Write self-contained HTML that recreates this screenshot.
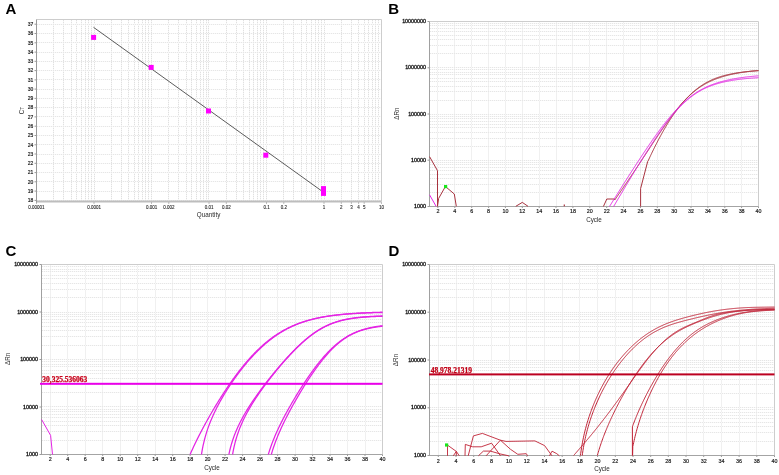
<!DOCTYPE html>
<html><head><meta charset="utf-8"><style>
html,body{margin:0;padding:0;background:#fff;}
body{width:779px;height:475px;overflow:hidden;}
svg{display:block;will-change:transform;}
.tk{font-family:'Liberation Sans', sans-serif;font-size:5.4px;font-weight:normal;fill:#1a1a1a;stroke:#1a1a1a;stroke-width:0.18px;}
.at{font-family:'Liberation Sans', sans-serif;font-size:6.3px;fill:#2a2a2a;}
.pl{font-family:'Liberation Sans', sans-serif;font-size:15px;font-weight:bold;fill:#000;}
.thr{font-family:'Liberation Serif', serif;font-size:7.5px;font-weight:bold;stroke-width:0.25px;}
</style></head><body>
<svg width="779" height="475" viewBox="0 0 779 475">
<rect width="779" height="475" fill="#fff"/>
<line x1="53.5" y1="20" x2="53.5" y2="201" stroke="#f6f6f6"/>
<line x1="53.5" y1="20" x2="53.5" y2="201" stroke="#e0e0e0" stroke-dasharray="1 1"/>
<line x1="63.5" y1="20" x2="63.5" y2="201" stroke="#f6f6f6"/>
<line x1="63.5" y1="20" x2="63.5" y2="201" stroke="#e0e0e0" stroke-dasharray="1 1"/>
<line x1="71.5" y1="20" x2="71.5" y2="201" stroke="#f6f6f6"/>
<line x1="71.5" y1="20" x2="71.5" y2="201" stroke="#e0e0e0" stroke-dasharray="1 1"/>
<line x1="76.5" y1="20" x2="76.5" y2="201" stroke="#f6f6f6"/>
<line x1="76.5" y1="20" x2="76.5" y2="201" stroke="#e0e0e0" stroke-dasharray="1 1"/>
<line x1="81.5" y1="20" x2="81.5" y2="201" stroke="#f6f6f6"/>
<line x1="81.5" y1="20" x2="81.5" y2="201" stroke="#e0e0e0" stroke-dasharray="1 1"/>
<line x1="85.5" y1="20" x2="85.5" y2="201" stroke="#f6f6f6"/>
<line x1="85.5" y1="20" x2="85.5" y2="201" stroke="#e0e0e0" stroke-dasharray="1 1"/>
<line x1="88.5" y1="20" x2="88.5" y2="201" stroke="#f6f6f6"/>
<line x1="88.5" y1="20" x2="88.5" y2="201" stroke="#e0e0e0" stroke-dasharray="1 1"/>
<line x1="91.5" y1="20" x2="91.5" y2="201" stroke="#f6f6f6"/>
<line x1="91.5" y1="20" x2="91.5" y2="201" stroke="#e0e0e0" stroke-dasharray="1 1"/>
<line x1="94.5" y1="20" x2="94.5" y2="201" stroke="#f6f6f6"/>
<line x1="94.5" y1="20" x2="94.5" y2="201" stroke="#e0e0e0" stroke-dasharray="1 1"/>
<line x1="111.5" y1="20" x2="111.5" y2="201" stroke="#f6f6f6"/>
<line x1="111.5" y1="20" x2="111.5" y2="201" stroke="#e0e0e0" stroke-dasharray="1 1"/>
<line x1="121.5" y1="20" x2="121.5" y2="201" stroke="#f6f6f6"/>
<line x1="121.5" y1="20" x2="121.5" y2="201" stroke="#e0e0e0" stroke-dasharray="1 1"/>
<line x1="128.5" y1="20" x2="128.5" y2="201" stroke="#f6f6f6"/>
<line x1="128.5" y1="20" x2="128.5" y2="201" stroke="#e0e0e0" stroke-dasharray="1 1"/>
<line x1="134.5" y1="20" x2="134.5" y2="201" stroke="#f6f6f6"/>
<line x1="134.5" y1="20" x2="134.5" y2="201" stroke="#e0e0e0" stroke-dasharray="1 1"/>
<line x1="138.5" y1="20" x2="138.5" y2="201" stroke="#f6f6f6"/>
<line x1="138.5" y1="20" x2="138.5" y2="201" stroke="#e0e0e0" stroke-dasharray="1 1"/>
<line x1="142.5" y1="20" x2="142.5" y2="201" stroke="#f6f6f6"/>
<line x1="142.5" y1="20" x2="142.5" y2="201" stroke="#e0e0e0" stroke-dasharray="1 1"/>
<line x1="145.5" y1="20" x2="145.5" y2="201" stroke="#f6f6f6"/>
<line x1="145.5" y1="20" x2="145.5" y2="201" stroke="#e0e0e0" stroke-dasharray="1 1"/>
<line x1="148.5" y1="20" x2="148.5" y2="201" stroke="#f6f6f6"/>
<line x1="148.5" y1="20" x2="148.5" y2="201" stroke="#e0e0e0" stroke-dasharray="1 1"/>
<line x1="151.5" y1="20" x2="151.5" y2="201" stroke="#f6f6f6"/>
<line x1="151.5" y1="20" x2="151.5" y2="201" stroke="#e0e0e0" stroke-dasharray="1 1"/>
<line x1="168.5" y1="20" x2="168.5" y2="201" stroke="#f6f6f6"/>
<line x1="168.5" y1="20" x2="168.5" y2="201" stroke="#e0e0e0" stroke-dasharray="1 1"/>
<line x1="178.5" y1="20" x2="178.5" y2="201" stroke="#f6f6f6"/>
<line x1="178.5" y1="20" x2="178.5" y2="201" stroke="#e0e0e0" stroke-dasharray="1 1"/>
<line x1="186.5" y1="20" x2="186.5" y2="201" stroke="#f6f6f6"/>
<line x1="186.5" y1="20" x2="186.5" y2="201" stroke="#e0e0e0" stroke-dasharray="1 1"/>
<line x1="191.5" y1="20" x2="191.5" y2="201" stroke="#f6f6f6"/>
<line x1="191.5" y1="20" x2="191.5" y2="201" stroke="#e0e0e0" stroke-dasharray="1 1"/>
<line x1="196.5" y1="20" x2="196.5" y2="201" stroke="#f6f6f6"/>
<line x1="196.5" y1="20" x2="196.5" y2="201" stroke="#e0e0e0" stroke-dasharray="1 1"/>
<line x1="200.5" y1="20" x2="200.5" y2="201" stroke="#f6f6f6"/>
<line x1="200.5" y1="20" x2="200.5" y2="201" stroke="#e0e0e0" stroke-dasharray="1 1"/>
<line x1="203.5" y1="20" x2="203.5" y2="201" stroke="#f6f6f6"/>
<line x1="203.5" y1="20" x2="203.5" y2="201" stroke="#e0e0e0" stroke-dasharray="1 1"/>
<line x1="206.5" y1="20" x2="206.5" y2="201" stroke="#f6f6f6"/>
<line x1="206.5" y1="20" x2="206.5" y2="201" stroke="#e0e0e0" stroke-dasharray="1 1"/>
<line x1="208.5" y1="20" x2="208.5" y2="201" stroke="#f6f6f6"/>
<line x1="208.5" y1="20" x2="208.5" y2="201" stroke="#e0e0e0" stroke-dasharray="1 1"/>
<line x1="226.5" y1="20" x2="226.5" y2="201" stroke="#f6f6f6"/>
<line x1="226.5" y1="20" x2="226.5" y2="201" stroke="#e0e0e0" stroke-dasharray="1 1"/>
<line x1="236.5" y1="20" x2="236.5" y2="201" stroke="#f6f6f6"/>
<line x1="236.5" y1="20" x2="236.5" y2="201" stroke="#e0e0e0" stroke-dasharray="1 1"/>
<line x1="243.5" y1="20" x2="243.5" y2="201" stroke="#f6f6f6"/>
<line x1="243.5" y1="20" x2="243.5" y2="201" stroke="#e0e0e0" stroke-dasharray="1 1"/>
<line x1="249.5" y1="20" x2="249.5" y2="201" stroke="#f6f6f6"/>
<line x1="249.5" y1="20" x2="249.5" y2="201" stroke="#e0e0e0" stroke-dasharray="1 1"/>
<line x1="253.5" y1="20" x2="253.5" y2="201" stroke="#f6f6f6"/>
<line x1="253.5" y1="20" x2="253.5" y2="201" stroke="#e0e0e0" stroke-dasharray="1 1"/>
<line x1="257.5" y1="20" x2="257.5" y2="201" stroke="#f6f6f6"/>
<line x1="257.5" y1="20" x2="257.5" y2="201" stroke="#e0e0e0" stroke-dasharray="1 1"/>
<line x1="260.5" y1="20" x2="260.5" y2="201" stroke="#f6f6f6"/>
<line x1="260.5" y1="20" x2="260.5" y2="201" stroke="#e0e0e0" stroke-dasharray="1 1"/>
<line x1="263.5" y1="20" x2="263.5" y2="201" stroke="#f6f6f6"/>
<line x1="263.5" y1="20" x2="263.5" y2="201" stroke="#e0e0e0" stroke-dasharray="1 1"/>
<line x1="266.5" y1="20" x2="266.5" y2="201" stroke="#f6f6f6"/>
<line x1="266.5" y1="20" x2="266.5" y2="201" stroke="#e0e0e0" stroke-dasharray="1 1"/>
<line x1="283.5" y1="20" x2="283.5" y2="201" stroke="#f6f6f6"/>
<line x1="283.5" y1="20" x2="283.5" y2="201" stroke="#e0e0e0" stroke-dasharray="1 1"/>
<line x1="293.5" y1="20" x2="293.5" y2="201" stroke="#f6f6f6"/>
<line x1="293.5" y1="20" x2="293.5" y2="201" stroke="#e0e0e0" stroke-dasharray="1 1"/>
<line x1="301.5" y1="20" x2="301.5" y2="201" stroke="#f6f6f6"/>
<line x1="301.5" y1="20" x2="301.5" y2="201" stroke="#e0e0e0" stroke-dasharray="1 1"/>
<line x1="306.5" y1="20" x2="306.5" y2="201" stroke="#f6f6f6"/>
<line x1="306.5" y1="20" x2="306.5" y2="201" stroke="#e0e0e0" stroke-dasharray="1 1"/>
<line x1="311.5" y1="20" x2="311.5" y2="201" stroke="#f6f6f6"/>
<line x1="311.5" y1="20" x2="311.5" y2="201" stroke="#e0e0e0" stroke-dasharray="1 1"/>
<line x1="315.5" y1="20" x2="315.5" y2="201" stroke="#f6f6f6"/>
<line x1="315.5" y1="20" x2="315.5" y2="201" stroke="#e0e0e0" stroke-dasharray="1 1"/>
<line x1="318.5" y1="20" x2="318.5" y2="201" stroke="#f6f6f6"/>
<line x1="318.5" y1="20" x2="318.5" y2="201" stroke="#e0e0e0" stroke-dasharray="1 1"/>
<line x1="321.5" y1="20" x2="321.5" y2="201" stroke="#f6f6f6"/>
<line x1="321.5" y1="20" x2="321.5" y2="201" stroke="#e0e0e0" stroke-dasharray="1 1"/>
<line x1="324.5" y1="20" x2="324.5" y2="201" stroke="#f6f6f6"/>
<line x1="324.5" y1="20" x2="324.5" y2="201" stroke="#e0e0e0" stroke-dasharray="1 1"/>
<line x1="341.5" y1="20" x2="341.5" y2="201" stroke="#f6f6f6"/>
<line x1="341.5" y1="20" x2="341.5" y2="201" stroke="#e0e0e0" stroke-dasharray="1 1"/>
<line x1="351.5" y1="20" x2="351.5" y2="201" stroke="#f6f6f6"/>
<line x1="351.5" y1="20" x2="351.5" y2="201" stroke="#e0e0e0" stroke-dasharray="1 1"/>
<line x1="358.5" y1="20" x2="358.5" y2="201" stroke="#f6f6f6"/>
<line x1="358.5" y1="20" x2="358.5" y2="201" stroke="#e0e0e0" stroke-dasharray="1 1"/>
<line x1="364.5" y1="20" x2="364.5" y2="201" stroke="#f6f6f6"/>
<line x1="364.5" y1="20" x2="364.5" y2="201" stroke="#e0e0e0" stroke-dasharray="1 1"/>
<line x1="368.5" y1="20" x2="368.5" y2="201" stroke="#f6f6f6"/>
<line x1="368.5" y1="20" x2="368.5" y2="201" stroke="#e0e0e0" stroke-dasharray="1 1"/>
<line x1="372.5" y1="20" x2="372.5" y2="201" stroke="#f6f6f6"/>
<line x1="372.5" y1="20" x2="372.5" y2="201" stroke="#e0e0e0" stroke-dasharray="1 1"/>
<line x1="375.5" y1="20" x2="375.5" y2="201" stroke="#f6f6f6"/>
<line x1="375.5" y1="20" x2="375.5" y2="201" stroke="#e0e0e0" stroke-dasharray="1 1"/>
<line x1="378.5" y1="20" x2="378.5" y2="201" stroke="#f6f6f6"/>
<line x1="378.5" y1="20" x2="378.5" y2="201" stroke="#e0e0e0" stroke-dasharray="1 1"/>
<line x1="37" y1="200.5" x2="381" y2="200.5" stroke="#f8f8f8"/>
<line x1="37" y1="200.5" x2="381" y2="200.5" stroke="#e6e6e6" stroke-dasharray="1 1"/>
<line x1="37" y1="191.5" x2="381" y2="191.5" stroke="#f8f8f8"/>
<line x1="37" y1="191.5" x2="381" y2="191.5" stroke="#e6e6e6" stroke-dasharray="1 1"/>
<line x1="37" y1="181.5" x2="381" y2="181.5" stroke="#f8f8f8"/>
<line x1="37" y1="181.5" x2="381" y2="181.5" stroke="#e6e6e6" stroke-dasharray="1 1"/>
<line x1="37" y1="172.5" x2="381" y2="172.5" stroke="#f8f8f8"/>
<line x1="37" y1="172.5" x2="381" y2="172.5" stroke="#e6e6e6" stroke-dasharray="1 1"/>
<line x1="37" y1="163.5" x2="381" y2="163.5" stroke="#f8f8f8"/>
<line x1="37" y1="163.5" x2="381" y2="163.5" stroke="#e6e6e6" stroke-dasharray="1 1"/>
<line x1="37" y1="154.5" x2="381" y2="154.5" stroke="#f8f8f8"/>
<line x1="37" y1="154.5" x2="381" y2="154.5" stroke="#e6e6e6" stroke-dasharray="1 1"/>
<line x1="37" y1="144.5" x2="381" y2="144.5" stroke="#f8f8f8"/>
<line x1="37" y1="144.5" x2="381" y2="144.5" stroke="#e6e6e6" stroke-dasharray="1 1"/>
<line x1="37" y1="135.5" x2="381" y2="135.5" stroke="#f8f8f8"/>
<line x1="37" y1="135.5" x2="381" y2="135.5" stroke="#e6e6e6" stroke-dasharray="1 1"/>
<line x1="37" y1="126.5" x2="381" y2="126.5" stroke="#f8f8f8"/>
<line x1="37" y1="126.5" x2="381" y2="126.5" stroke="#e6e6e6" stroke-dasharray="1 1"/>
<line x1="37" y1="116.5" x2="381" y2="116.5" stroke="#f8f8f8"/>
<line x1="37" y1="116.5" x2="381" y2="116.5" stroke="#e6e6e6" stroke-dasharray="1 1"/>
<line x1="37" y1="107.5" x2="381" y2="107.5" stroke="#f8f8f8"/>
<line x1="37" y1="107.5" x2="381" y2="107.5" stroke="#e6e6e6" stroke-dasharray="1 1"/>
<line x1="37" y1="98.5" x2="381" y2="98.5" stroke="#f8f8f8"/>
<line x1="37" y1="98.5" x2="381" y2="98.5" stroke="#e6e6e6" stroke-dasharray="1 1"/>
<line x1="37" y1="89.5" x2="381" y2="89.5" stroke="#f8f8f8"/>
<line x1="37" y1="89.5" x2="381" y2="89.5" stroke="#e6e6e6" stroke-dasharray="1 1"/>
<line x1="37" y1="79.5" x2="381" y2="79.5" stroke="#f8f8f8"/>
<line x1="37" y1="79.5" x2="381" y2="79.5" stroke="#e6e6e6" stroke-dasharray="1 1"/>
<line x1="37" y1="70.5" x2="381" y2="70.5" stroke="#f8f8f8"/>
<line x1="37" y1="70.5" x2="381" y2="70.5" stroke="#e6e6e6" stroke-dasharray="1 1"/>
<line x1="37" y1="61.5" x2="381" y2="61.5" stroke="#f8f8f8"/>
<line x1="37" y1="61.5" x2="381" y2="61.5" stroke="#e6e6e6" stroke-dasharray="1 1"/>
<line x1="37" y1="52.5" x2="381" y2="52.5" stroke="#f8f8f8"/>
<line x1="37" y1="52.5" x2="381" y2="52.5" stroke="#e6e6e6" stroke-dasharray="1 1"/>
<line x1="37" y1="42.5" x2="381" y2="42.5" stroke="#f8f8f8"/>
<line x1="37" y1="42.5" x2="381" y2="42.5" stroke="#e6e6e6" stroke-dasharray="1 1"/>
<line x1="37" y1="33.5" x2="381" y2="33.5" stroke="#f8f8f8"/>
<line x1="37" y1="33.5" x2="381" y2="33.5" stroke="#e6e6e6" stroke-dasharray="1 1"/>
<line x1="37" y1="24.5" x2="381" y2="24.5" stroke="#f8f8f8"/>
<line x1="37" y1="24.5" x2="381" y2="24.5" stroke="#e6e6e6" stroke-dasharray="1 1"/>
<line x1="36.5" y1="19.5" x2="381.5" y2="19.5" stroke="#cdcdcd"/>
<line x1="381.5" y1="19.5" x2="381.5" y2="201.5" stroke="#cdcdcd"/>
<rect x="36.5" y="200.5" width="345.0" height="2" fill="#bdbdbd"/>
<line x1="36.5" y1="19.5" x2="36.5" y2="202.5" stroke="#999"/>
<line x1="34.5" y1="200.4" x2="36" y2="200.4" stroke="#999"/>
<text transform="translate(33.20,202.12) scale(1,0.98)" text-anchor="end" class="tk" style="font-size:5.0px;">18</text>
<line x1="34.5" y1="191.1" x2="36" y2="191.1" stroke="#999"/>
<text transform="translate(33.20,192.85) scale(1,0.98)" text-anchor="end" class="tk" style="font-size:5.0px;">19</text>
<line x1="34.5" y1="181.8" x2="36" y2="181.8" stroke="#999"/>
<text transform="translate(33.20,183.58) scale(1,0.98)" text-anchor="end" class="tk" style="font-size:5.0px;">20</text>
<line x1="34.5" y1="172.6" x2="36" y2="172.6" stroke="#999"/>
<text transform="translate(33.20,174.31) scale(1,0.98)" text-anchor="end" class="tk" style="font-size:5.0px;">21</text>
<line x1="34.5" y1="163.3" x2="36" y2="163.3" stroke="#999"/>
<text transform="translate(33.20,165.04) scale(1,0.98)" text-anchor="end" class="tk" style="font-size:5.0px;">22</text>
<line x1="34.5" y1="154.0" x2="36" y2="154.0" stroke="#999"/>
<text transform="translate(33.20,155.77) scale(1,0.98)" text-anchor="end" class="tk" style="font-size:5.0px;">23</text>
<line x1="34.5" y1="144.8" x2="36" y2="144.8" stroke="#999"/>
<text transform="translate(33.20,146.50) scale(1,0.98)" text-anchor="end" class="tk" style="font-size:5.0px;">24</text>
<line x1="34.5" y1="135.5" x2="36" y2="135.5" stroke="#999"/>
<text transform="translate(33.20,137.23) scale(1,0.98)" text-anchor="end" class="tk" style="font-size:5.0px;">25</text>
<line x1="34.5" y1="126.2" x2="36" y2="126.2" stroke="#999"/>
<text transform="translate(33.20,127.96) scale(1,0.98)" text-anchor="end" class="tk" style="font-size:5.0px;">26</text>
<line x1="34.5" y1="116.9" x2="36" y2="116.9" stroke="#999"/>
<text transform="translate(33.20,118.69) scale(1,0.98)" text-anchor="end" class="tk" style="font-size:5.0px;">27</text>
<line x1="34.5" y1="107.7" x2="36" y2="107.7" stroke="#999"/>
<text transform="translate(33.20,109.42) scale(1,0.98)" text-anchor="end" class="tk" style="font-size:5.0px;">28</text>
<line x1="34.5" y1="98.4" x2="36" y2="98.4" stroke="#999"/>
<text transform="translate(33.20,100.15) scale(1,0.98)" text-anchor="end" class="tk" style="font-size:5.0px;">29</text>
<line x1="34.5" y1="89.1" x2="36" y2="89.1" stroke="#999"/>
<text transform="translate(33.20,90.88) scale(1,0.98)" text-anchor="end" class="tk" style="font-size:5.0px;">30</text>
<line x1="34.5" y1="79.9" x2="36" y2="79.9" stroke="#999"/>
<text transform="translate(33.20,81.61) scale(1,0.98)" text-anchor="end" class="tk" style="font-size:5.0px;">31</text>
<line x1="34.5" y1="70.6" x2="36" y2="70.6" stroke="#999"/>
<text transform="translate(33.20,72.34) scale(1,0.98)" text-anchor="end" class="tk" style="font-size:5.0px;">32</text>
<line x1="34.5" y1="61.3" x2="36" y2="61.3" stroke="#999"/>
<text transform="translate(33.20,63.07) scale(1,0.98)" text-anchor="end" class="tk" style="font-size:5.0px;">33</text>
<line x1="34.5" y1="52.1" x2="36" y2="52.1" stroke="#999"/>
<text transform="translate(33.20,53.80) scale(1,0.98)" text-anchor="end" class="tk" style="font-size:5.0px;">34</text>
<line x1="34.5" y1="42.8" x2="36" y2="42.8" stroke="#999"/>
<text transform="translate(33.20,44.53) scale(1,0.98)" text-anchor="end" class="tk" style="font-size:5.0px;">35</text>
<line x1="34.5" y1="33.5" x2="36" y2="33.5" stroke="#999"/>
<text transform="translate(33.20,35.26) scale(1,0.98)" text-anchor="end" class="tk" style="font-size:5.0px;">36</text>
<line x1="34.5" y1="24.2" x2="36" y2="24.2" stroke="#999"/>
<text transform="translate(33.20,25.99) scale(1,0.98)" text-anchor="end" class="tk" style="font-size:5.0px;">37</text>
<line x1="36.5" y1="202.5" x2="36.5" y2="203.6" stroke="#777" stroke-width="0.8"/>
<text transform="translate(36.50,208.60) scale(1,1)" text-anchor="middle" class="tk" style="font-size:4.5px;stroke-width:0.08px;">0.00001</text>
<line x1="94.0" y1="202.5" x2="94.0" y2="203.6" stroke="#777" stroke-width="0.8"/>
<text transform="translate(94.00,208.60) scale(1,1)" text-anchor="middle" class="tk" style="font-size:4.5px;stroke-width:0.08px;">0.0001</text>
<line x1="151.5" y1="202.5" x2="151.5" y2="203.6" stroke="#777" stroke-width="0.8"/>
<text transform="translate(151.50,208.60) scale(1,1)" text-anchor="middle" class="tk" style="font-size:4.5px;stroke-width:0.08px;">0.001</text>
<line x1="168.8" y1="202.5" x2="168.8" y2="203.6" stroke="#777" stroke-width="0.8"/>
<text transform="translate(168.81,208.60) scale(1,1)" text-anchor="middle" class="tk" style="font-size:4.5px;stroke-width:0.08px;">0.002</text>
<line x1="209.0" y1="202.5" x2="209.0" y2="203.6" stroke="#777" stroke-width="0.8"/>
<text transform="translate(209.00,208.60) scale(1,1)" text-anchor="middle" class="tk" style="font-size:4.5px;stroke-width:0.08px;">0.01</text>
<line x1="226.3" y1="202.5" x2="226.3" y2="203.6" stroke="#777" stroke-width="0.8"/>
<text transform="translate(226.31,208.60) scale(1,1)" text-anchor="middle" class="tk" style="font-size:4.5px;stroke-width:0.08px;">0.02</text>
<line x1="266.5" y1="202.5" x2="266.5" y2="203.6" stroke="#777" stroke-width="0.8"/>
<text transform="translate(266.50,208.60) scale(1,1)" text-anchor="middle" class="tk" style="font-size:4.5px;stroke-width:0.08px;">0.1</text>
<line x1="283.8" y1="202.5" x2="283.8" y2="203.6" stroke="#777" stroke-width="0.8"/>
<text transform="translate(283.81,208.60) scale(1,1)" text-anchor="middle" class="tk" style="font-size:4.5px;stroke-width:0.08px;">0.2</text>
<line x1="324.0" y1="202.5" x2="324.0" y2="203.6" stroke="#777" stroke-width="0.8"/>
<text transform="translate(324.00,208.60) scale(1,1)" text-anchor="middle" class="tk" style="font-size:4.5px;stroke-width:0.08px;">1</text>
<line x1="341.3" y1="202.5" x2="341.3" y2="203.6" stroke="#777" stroke-width="0.8"/>
<text transform="translate(341.31,208.60) scale(1,1)" text-anchor="middle" class="tk" style="font-size:4.5px;stroke-width:0.08px;">2</text>
<line x1="351.4" y1="202.5" x2="351.4" y2="203.6" stroke="#777" stroke-width="0.8"/>
<text transform="translate(351.43,208.60) scale(1,1)" text-anchor="middle" class="tk" style="font-size:4.5px;stroke-width:0.08px;">3</text>
<line x1="358.6" y1="202.5" x2="358.6" y2="203.6" stroke="#777" stroke-width="0.8"/>
<text transform="translate(358.62,208.60) scale(1,1)" text-anchor="middle" class="tk" style="font-size:4.5px;stroke-width:0.08px;">4</text>
<line x1="364.2" y1="202.5" x2="364.2" y2="203.6" stroke="#777" stroke-width="0.8"/>
<text transform="translate(364.19,208.60) scale(1,1)" text-anchor="middle" class="tk" style="font-size:4.5px;stroke-width:0.08px;">5</text>
<line x1="381.5" y1="202.5" x2="381.5" y2="203.6" stroke="#777" stroke-width="0.8"/>
<text transform="translate(381.50,208.60) scale(1,1)" text-anchor="middle" class="tk" style="font-size:4.5px;stroke-width:0.08px;">10</text>
<text x="208.6" y="216.9" text-anchor="middle" class="at">Quantity</text>
<text transform="translate(23.8,110.6) rotate(-90)" text-anchor="middle" class="at">C<tspan font-size="4.6">T</tspan></text>
<line x1="93.5" y1="27.3" x2="321.5" y2="190.8" stroke="#4a4a4a" stroke-width="0.9"/>
<rect x="91.1" y="34.9" width="5" height="5" fill="#f0f"/>
<rect x="148.7" y="64.9" width="5" height="5" fill="#f0f"/>
<rect x="206.0" y="108.5" width="5" height="5" fill="#f0f"/>
<rect x="263.3" y="152.7" width="5" height="5" fill="#f0f"/>
<rect x="321.0" y="186.1" width="5" height="5" fill="#f0f"/>
<rect x="321.0" y="190.9" width="5" height="5" fill="#f0f"/>
<line x1="437.5" y1="22" x2="437.5" y2="206" stroke="#f0f0f0"/>
<line x1="454.5" y1="22" x2="454.5" y2="206" stroke="#f0f0f0"/>
<line x1="471.5" y1="22" x2="471.5" y2="206" stroke="#f0f0f0"/>
<line x1="488.5" y1="22" x2="488.5" y2="206" stroke="#f0f0f0"/>
<line x1="505.5" y1="22" x2="505.5" y2="206" stroke="#f0f0f0"/>
<line x1="522.5" y1="22" x2="522.5" y2="206" stroke="#f0f0f0"/>
<line x1="539.5" y1="22" x2="539.5" y2="206" stroke="#f0f0f0"/>
<line x1="556.5" y1="22" x2="556.5" y2="206" stroke="#f0f0f0"/>
<line x1="572.5" y1="22" x2="572.5" y2="206" stroke="#f0f0f0"/>
<line x1="589.5" y1="22" x2="589.5" y2="206" stroke="#f0f0f0"/>
<line x1="606.5" y1="22" x2="606.5" y2="206" stroke="#f0f0f0"/>
<line x1="623.5" y1="22" x2="623.5" y2="206" stroke="#f0f0f0"/>
<line x1="640.5" y1="22" x2="640.5" y2="206" stroke="#f0f0f0"/>
<line x1="657.5" y1="22" x2="657.5" y2="206" stroke="#f0f0f0"/>
<line x1="674.5" y1="22" x2="674.5" y2="206" stroke="#f0f0f0"/>
<line x1="691.5" y1="22" x2="691.5" y2="206" stroke="#f0f0f0"/>
<line x1="707.5" y1="22" x2="707.5" y2="206" stroke="#f0f0f0"/>
<line x1="724.5" y1="22" x2="724.5" y2="206" stroke="#f0f0f0"/>
<line x1="741.5" y1="22" x2="741.5" y2="206" stroke="#f0f0f0"/>
<line x1="430" y1="192.5" x2="758" y2="192.5" stroke="#f8f8f8"/>
<line x1="430" y1="192.5" x2="758" y2="192.5" stroke="#e6e6e6" stroke-dasharray="1 1"/>
<line x1="430" y1="184.5" x2="758" y2="184.5" stroke="#f8f8f8"/>
<line x1="430" y1="184.5" x2="758" y2="184.5" stroke="#e6e6e6" stroke-dasharray="1 1"/>
<line x1="430" y1="178.5" x2="758" y2="178.5" stroke="#f8f8f8"/>
<line x1="430" y1="178.5" x2="758" y2="178.5" stroke="#e6e6e6" stroke-dasharray="1 1"/>
<line x1="430" y1="174.5" x2="758" y2="174.5" stroke="#f8f8f8"/>
<line x1="430" y1="174.5" x2="758" y2="174.5" stroke="#e6e6e6" stroke-dasharray="1 1"/>
<line x1="430" y1="170.5" x2="758" y2="170.5" stroke="#f8f8f8"/>
<line x1="430" y1="170.5" x2="758" y2="170.5" stroke="#e6e6e6" stroke-dasharray="1 1"/>
<line x1="430" y1="167.5" x2="758" y2="167.5" stroke="#f8f8f8"/>
<line x1="430" y1="167.5" x2="758" y2="167.5" stroke="#e6e6e6" stroke-dasharray="1 1"/>
<line x1="430" y1="164.5" x2="758" y2="164.5" stroke="#f8f8f8"/>
<line x1="430" y1="164.5" x2="758" y2="164.5" stroke="#e6e6e6" stroke-dasharray="1 1"/>
<line x1="430" y1="162.5" x2="758" y2="162.5" stroke="#f8f8f8"/>
<line x1="430" y1="162.5" x2="758" y2="162.5" stroke="#e6e6e6" stroke-dasharray="1 1"/>
<line x1="430" y1="160.5" x2="758" y2="160.5" stroke="#f8f8f8"/>
<line x1="430" y1="160.5" x2="758" y2="160.5" stroke="#e6e6e6" stroke-dasharray="1 1"/>
<line x1="430" y1="146.5" x2="758" y2="146.5" stroke="#f8f8f8"/>
<line x1="430" y1="146.5" x2="758" y2="146.5" stroke="#e6e6e6" stroke-dasharray="1 1"/>
<line x1="430" y1="138.5" x2="758" y2="138.5" stroke="#f8f8f8"/>
<line x1="430" y1="138.5" x2="758" y2="138.5" stroke="#e6e6e6" stroke-dasharray="1 1"/>
<line x1="430" y1="132.5" x2="758" y2="132.5" stroke="#f8f8f8"/>
<line x1="430" y1="132.5" x2="758" y2="132.5" stroke="#e6e6e6" stroke-dasharray="1 1"/>
<line x1="430" y1="127.5" x2="758" y2="127.5" stroke="#f8f8f8"/>
<line x1="430" y1="127.5" x2="758" y2="127.5" stroke="#e6e6e6" stroke-dasharray="1 1"/>
<line x1="430" y1="124.5" x2="758" y2="124.5" stroke="#f8f8f8"/>
<line x1="430" y1="124.5" x2="758" y2="124.5" stroke="#e6e6e6" stroke-dasharray="1 1"/>
<line x1="430" y1="121.5" x2="758" y2="121.5" stroke="#f8f8f8"/>
<line x1="430" y1="121.5" x2="758" y2="121.5" stroke="#e6e6e6" stroke-dasharray="1 1"/>
<line x1="430" y1="118.5" x2="758" y2="118.5" stroke="#f8f8f8"/>
<line x1="430" y1="118.5" x2="758" y2="118.5" stroke="#e6e6e6" stroke-dasharray="1 1"/>
<line x1="430" y1="116.5" x2="758" y2="116.5" stroke="#f8f8f8"/>
<line x1="430" y1="116.5" x2="758" y2="116.5" stroke="#e6e6e6" stroke-dasharray="1 1"/>
<line x1="430" y1="114.5" x2="758" y2="114.5" stroke="#f8f8f8"/>
<line x1="430" y1="114.5" x2="758" y2="114.5" stroke="#e6e6e6" stroke-dasharray="1 1"/>
<line x1="430" y1="100.5" x2="758" y2="100.5" stroke="#f8f8f8"/>
<line x1="430" y1="100.5" x2="758" y2="100.5" stroke="#e6e6e6" stroke-dasharray="1 1"/>
<line x1="430" y1="91.5" x2="758" y2="91.5" stroke="#f8f8f8"/>
<line x1="430" y1="91.5" x2="758" y2="91.5" stroke="#e6e6e6" stroke-dasharray="1 1"/>
<line x1="430" y1="86.5" x2="758" y2="86.5" stroke="#f8f8f8"/>
<line x1="430" y1="86.5" x2="758" y2="86.5" stroke="#e6e6e6" stroke-dasharray="1 1"/>
<line x1="430" y1="81.5" x2="758" y2="81.5" stroke="#f8f8f8"/>
<line x1="430" y1="81.5" x2="758" y2="81.5" stroke="#e6e6e6" stroke-dasharray="1 1"/>
<line x1="430" y1="78.5" x2="758" y2="78.5" stroke="#f8f8f8"/>
<line x1="430" y1="78.5" x2="758" y2="78.5" stroke="#e6e6e6" stroke-dasharray="1 1"/>
<line x1="430" y1="74.5" x2="758" y2="74.5" stroke="#f8f8f8"/>
<line x1="430" y1="74.5" x2="758" y2="74.5" stroke="#e6e6e6" stroke-dasharray="1 1"/>
<line x1="430" y1="72.5" x2="758" y2="72.5" stroke="#f8f8f8"/>
<line x1="430" y1="72.5" x2="758" y2="72.5" stroke="#e6e6e6" stroke-dasharray="1 1"/>
<line x1="430" y1="69.5" x2="758" y2="69.5" stroke="#f8f8f8"/>
<line x1="430" y1="69.5" x2="758" y2="69.5" stroke="#e6e6e6" stroke-dasharray="1 1"/>
<line x1="430" y1="67.5" x2="758" y2="67.5" stroke="#f8f8f8"/>
<line x1="430" y1="67.5" x2="758" y2="67.5" stroke="#e6e6e6" stroke-dasharray="1 1"/>
<line x1="430" y1="53.5" x2="758" y2="53.5" stroke="#f8f8f8"/>
<line x1="430" y1="53.5" x2="758" y2="53.5" stroke="#e6e6e6" stroke-dasharray="1 1"/>
<line x1="430" y1="45.5" x2="758" y2="45.5" stroke="#f8f8f8"/>
<line x1="430" y1="45.5" x2="758" y2="45.5" stroke="#e6e6e6" stroke-dasharray="1 1"/>
<line x1="430" y1="39.5" x2="758" y2="39.5" stroke="#f8f8f8"/>
<line x1="430" y1="39.5" x2="758" y2="39.5" stroke="#e6e6e6" stroke-dasharray="1 1"/>
<line x1="430" y1="35.5" x2="758" y2="35.5" stroke="#f8f8f8"/>
<line x1="430" y1="35.5" x2="758" y2="35.5" stroke="#e6e6e6" stroke-dasharray="1 1"/>
<line x1="430" y1="31.5" x2="758" y2="31.5" stroke="#f8f8f8"/>
<line x1="430" y1="31.5" x2="758" y2="31.5" stroke="#e6e6e6" stroke-dasharray="1 1"/>
<line x1="430" y1="28.5" x2="758" y2="28.5" stroke="#f8f8f8"/>
<line x1="430" y1="28.5" x2="758" y2="28.5" stroke="#e6e6e6" stroke-dasharray="1 1"/>
<line x1="430" y1="25.5" x2="758" y2="25.5" stroke="#f8f8f8"/>
<line x1="430" y1="25.5" x2="758" y2="25.5" stroke="#e6e6e6" stroke-dasharray="1 1"/>
<line x1="430" y1="23.5" x2="758" y2="23.5" stroke="#f8f8f8"/>
<line x1="430" y1="23.5" x2="758" y2="23.5" stroke="#e6e6e6" stroke-dasharray="1 1"/>
<line x1="429.5" y1="21.5" x2="758.5" y2="21.5" stroke="#cdcdcd"/>
<line x1="758.5" y1="21.5" x2="758.5" y2="206.5" stroke="#cdcdcd"/>
<line x1="428.5" y1="206.5" x2="758.5" y2="206.5" stroke="#a4a4a4" stroke-width="1.1"/>
<line x1="429.5" y1="21.5" x2="429.5" y2="206.5" stroke="#a0a0a0"/>
<line x1="427.5" y1="206.5" x2="429.5" y2="206.5" stroke="#999"/>
<text transform="translate(426.10,208.02) scale(1,0.87)" text-anchor="end" class="tk" style="stroke-width:0.32px;">1000</text>
<line x1="427.5" y1="160.2" x2="429.5" y2="160.2" stroke="#999"/>
<text transform="translate(426.10,161.77) scale(1,0.87)" text-anchor="end" class="tk" style="stroke-width:0.32px;">10000</text>
<line x1="427.5" y1="114.0" x2="429.5" y2="114.0" stroke="#999"/>
<text transform="translate(426.10,115.52) scale(1,0.87)" text-anchor="end" class="tk" style="stroke-width:0.32px;">100000</text>
<line x1="427.5" y1="67.8" x2="429.5" y2="67.8" stroke="#999"/>
<text transform="translate(426.10,69.27) scale(1,0.87)" text-anchor="end" class="tk" style="stroke-width:0.32px;">1000000</text>
<line x1="427.5" y1="21.5" x2="429.5" y2="21.5" stroke="#999"/>
<text transform="translate(426.10,23.02) scale(1,0.87)" text-anchor="end" class="tk" style="stroke-width:0.32px;">10000000</text>
<line x1="437.9" y1="206.5" x2="437.9" y2="208.0" stroke="#999"/>
<text transform="translate(437.94,212.70) scale(1,0.87)" text-anchor="middle" class="tk">2</text>
<line x1="454.8" y1="206.5" x2="454.8" y2="208.0" stroke="#999"/>
<text transform="translate(454.81,212.70) scale(1,0.87)" text-anchor="middle" class="tk">4</text>
<line x1="471.7" y1="206.5" x2="471.7" y2="208.0" stroke="#999"/>
<text transform="translate(471.68,212.70) scale(1,0.87)" text-anchor="middle" class="tk">6</text>
<line x1="488.6" y1="206.5" x2="488.6" y2="208.0" stroke="#999"/>
<text transform="translate(488.55,212.70) scale(1,0.87)" text-anchor="middle" class="tk">8</text>
<line x1="505.4" y1="206.5" x2="505.4" y2="208.0" stroke="#999"/>
<text transform="translate(505.42,212.70) scale(1,0.87)" text-anchor="middle" class="tk">10</text>
<line x1="522.3" y1="206.5" x2="522.3" y2="208.0" stroke="#999"/>
<text transform="translate(522.29,212.70) scale(1,0.87)" text-anchor="middle" class="tk">12</text>
<line x1="539.2" y1="206.5" x2="539.2" y2="208.0" stroke="#999"/>
<text transform="translate(539.17,212.70) scale(1,0.87)" text-anchor="middle" class="tk">14</text>
<line x1="556.0" y1="206.5" x2="556.0" y2="208.0" stroke="#999"/>
<text transform="translate(556.04,212.70) scale(1,0.87)" text-anchor="middle" class="tk">16</text>
<line x1="572.9" y1="206.5" x2="572.9" y2="208.0" stroke="#999"/>
<text transform="translate(572.91,212.70) scale(1,0.87)" text-anchor="middle" class="tk">18</text>
<line x1="589.8" y1="206.5" x2="589.8" y2="208.0" stroke="#999"/>
<text transform="translate(589.78,212.70) scale(1,0.87)" text-anchor="middle" class="tk">20</text>
<line x1="606.7" y1="206.5" x2="606.7" y2="208.0" stroke="#999"/>
<text transform="translate(606.65,212.70) scale(1,0.87)" text-anchor="middle" class="tk">22</text>
<line x1="623.5" y1="206.5" x2="623.5" y2="208.0" stroke="#999"/>
<text transform="translate(623.53,212.70) scale(1,0.87)" text-anchor="middle" class="tk">24</text>
<line x1="640.4" y1="206.5" x2="640.4" y2="208.0" stroke="#999"/>
<text transform="translate(640.40,212.70) scale(1,0.87)" text-anchor="middle" class="tk">26</text>
<line x1="657.3" y1="206.5" x2="657.3" y2="208.0" stroke="#999"/>
<text transform="translate(657.27,212.70) scale(1,0.87)" text-anchor="middle" class="tk">28</text>
<line x1="674.1" y1="206.5" x2="674.1" y2="208.0" stroke="#999"/>
<text transform="translate(674.14,212.70) scale(1,0.87)" text-anchor="middle" class="tk">30</text>
<line x1="691.0" y1="206.5" x2="691.0" y2="208.0" stroke="#999"/>
<text transform="translate(691.01,212.70) scale(1,0.87)" text-anchor="middle" class="tk">32</text>
<line x1="707.9" y1="206.5" x2="707.9" y2="208.0" stroke="#999"/>
<text transform="translate(707.88,212.70) scale(1,0.87)" text-anchor="middle" class="tk">34</text>
<line x1="724.8" y1="206.5" x2="724.8" y2="208.0" stroke="#999"/>
<text transform="translate(724.76,212.70) scale(1,0.87)" text-anchor="middle" class="tk">36</text>
<line x1="741.6" y1="206.5" x2="741.6" y2="208.0" stroke="#999"/>
<text transform="translate(741.63,212.70) scale(1,0.87)" text-anchor="middle" class="tk">38</text>
<line x1="758.5" y1="206.5" x2="758.5" y2="208.0" stroke="#999"/>
<text transform="translate(758.50,212.70) scale(1,0.87)" text-anchor="middle" class="tk">40</text>
<text x="594" y="221.6" text-anchor="middle" class="at">Cycle</text>
<text transform="translate(399.0,113.6) rotate(-90)" text-anchor="middle" class="at">ΔRn</text>
<path d="M429.60,156.70 L437.50,170.70 L437.50,206.30" fill="none" stroke="#a8323e" stroke-width="1"/>
<path d="M437.50,206.30 L438.60,198.50 L445.40,186.50 L454.30,194.00 L456.30,206.30" fill="none" stroke="#a8323e" stroke-width="1"/>
<path d="M429.60,194.90 L436.10,206.30" fill="none" stroke="#e424e4" stroke-width="1"/>
<path d="M515.80,206.30 L522.30,202.40 L528.00,206.30" fill="none" stroke="#a8323e" stroke-width="1"/>
<path d="M564.30,206.30 L564.30,204.50" fill="none" stroke="#a8323e" stroke-width="1.2"/>
<path d="M603.40,206.50 L606.80,199.00 L614.40,199.00 L614.82,199.91 L615.24,199.29 L615.67,198.67 L616.09,198.06 L616.51,197.44 L616.93,196.82 L617.35,196.21 L617.77,195.59 L618.20,194.97 L618.62,194.35 L619.04,193.74 L619.46,193.12 L619.88,192.50 L620.31,191.89 L620.73,191.27 L621.15,190.65 L621.57,190.04 L621.99,189.42 L622.41,188.80 L622.84,188.19 L623.26,187.57 L623.68,186.95 L624.10,186.33 L624.52,185.72 L624.94,185.10 L625.37,184.48 L625.79,183.86 L626.21,183.24 L626.63,182.62 L627.05,182.00 L627.48,181.38 L627.90,180.76 L628.32,180.14 L628.74,179.52 L629.16,178.90 L629.58,178.27 L630.01,177.65 L630.43,177.03 L630.85,176.40 L631.27,175.78 L631.69,175.15 L632.12,174.53 L632.54,173.90 L632.96,173.27 L633.38,172.65 L633.80,172.02 L634.22,171.39 L634.65,170.76 L635.07,170.13 L635.49,169.50 L635.91,168.87 L636.33,168.24 L636.76,167.61 L637.18,166.97 L637.60,166.34 L638.02,165.71 L638.44,165.07 L638.86,164.44 L639.29,163.80 L639.71,163.17 L640.13,162.53 L640.55,161.89 L640.97,161.25 L641.39,160.62 L641.82,159.98 L642.24,159.34 L642.66,158.70 L643.08,158.06 L643.50,157.42 L643.93,156.78 L644.35,156.14 L644.77,155.50 L645.19,154.86 L645.61,154.21 L646.03,153.57 L646.46,152.93 L646.88,152.29 L647.30,151.65 L647.72,151.01 L648.14,150.36 L648.57,149.72 L648.99,149.08 L649.41,148.44 L649.83,147.80 L650.25,147.16 L650.67,146.52 L651.10,145.88 L651.52,145.24 L651.94,144.60 L652.36,143.96 L652.78,143.32 L653.21,142.68 L653.63,142.04 L654.05,141.41 L654.47,140.77 L654.89,140.14 L655.31,139.50 L655.74,138.87 L656.16,138.24 L656.58,137.61 L657.00,136.98 L657.42,136.35 L657.84,135.72 L658.27,135.09 L658.69,134.47 L659.11,133.84 L659.53,133.22 L659.95,132.60 L660.38,131.98 L660.80,131.36 L661.22,130.75 L661.64,130.13 L662.06,129.52 L662.48,128.91 L662.91,128.30 L663.33,127.69 L663.75,127.08 L664.17,126.48 L664.59,125.88 L665.02,125.28 L665.44,124.68 L665.86,124.08 L666.28,123.49 L666.70,122.90 L667.12,122.31 L667.55,121.72 L667.97,121.14 L668.39,120.56 L668.81,119.98 L669.23,119.40 L669.66,118.83 L670.08,118.25 L670.50,117.69 L670.92,117.12 L671.34,116.55 L671.76,115.99 L672.19,115.43 L672.61,114.88 L673.03,114.33 L673.45,113.78 L673.87,113.23 L674.29,112.69 L674.72,112.15 L675.14,111.61 L675.56,111.07 L675.98,110.54 L676.40,110.01 L676.83,109.49 L677.25,108.97 L677.67,108.45 L678.09,107.93 L678.51,107.42 L678.93,106.91 L679.36,106.41 L679.78,105.91 L680.20,105.41 L680.62,104.91 L681.04,104.42 L681.47,103.94 L681.89,103.45 L682.31,102.97 L682.73,102.50 L683.15,102.03 L683.57,101.56 L684.00,101.09 L684.42,100.63 L684.84,100.18 L685.26,99.73 L685.68,99.28 L686.11,98.83 L686.53,98.39 L686.95,97.96 L687.37,97.53 L687.79,97.10 L688.21,96.67 L688.64,96.25 L689.06,95.84 L689.48,95.43 L689.90,95.02 L690.32,94.62 L690.74,94.22 L691.17,93.83 L691.59,93.44 L692.01,93.05 L692.43,92.67 L692.85,92.30 L693.28,91.93 L693.70,91.56 L694.12,91.20 L694.54,90.84 L694.96,90.48 L695.38,90.13 L695.81,89.79 L696.23,89.45 L696.65,89.11 L697.07,88.78 L697.49,88.46 L697.92,88.13 L698.34,87.81 L698.76,87.50 L699.18,87.19 L699.60,86.89 L700.02,86.59 L700.45,86.29 L700.87,86.00 L701.29,85.71 L701.71,85.43 L702.13,85.15 L702.56,84.88 L702.98,84.61 L703.40,84.34 L703.82,84.08 L704.24,83.82 L704.66,83.57 L705.09,83.32 L705.51,83.07 L705.93,82.83 L706.35,82.59 L706.77,82.36 L707.19,82.13 L707.62,81.91 L708.04,81.69 L708.46,81.47 L708.88,81.25 L709.30,81.04 L709.73,80.84 L710.15,80.63 L710.57,80.43 L710.99,80.24 L711.41,80.04 L711.83,79.85 L712.26,79.67 L712.68,79.48 L713.10,79.31 L713.52,79.13 L713.94,78.96 L714.37,78.79 L714.79,78.62 L715.21,78.45 L715.63,78.29 L716.05,78.13 L716.47,77.98 L716.90,77.83 L717.32,77.68 L717.74,77.53 L718.16,77.38 L718.58,77.24 L719.01,77.10 L719.43,76.96 L719.85,76.83 L720.27,76.70 L720.69,76.57 L721.11,76.44 L721.54,76.31 L721.96,76.19 L722.38,76.07 L722.80,75.95 L723.22,75.83 L723.64,75.72 L724.07,75.60 L724.49,75.49 L724.91,75.38 L725.33,75.27 L725.75,75.17 L726.18,75.06 L726.60,74.96 L727.02,74.86 L727.44,74.76 L727.86,74.67 L728.28,74.57 L728.71,74.48 L729.13,74.38 L729.55,74.29 L729.97,74.21 L730.39,74.12 L730.82,74.03 L731.24,73.95 L731.66,73.86 L732.08,73.78 L732.50,73.70 L732.92,73.62 L733.35,73.54 L733.77,73.47 L734.19,73.39 L734.61,73.32 L735.03,73.24 L735.46,73.17 L735.88,73.10 L736.30,73.03 L736.72,72.97 L737.14,72.90 L737.56,72.83 L737.99,72.77 L738.41,72.70 L738.83,72.64 L739.25,72.58 L739.67,72.52 L740.09,72.46 L740.52,72.40 L740.94,72.34 L741.36,72.29 L741.78,72.23 L742.20,72.18 L742.63,72.12 L743.05,72.07 L743.47,72.02 L743.89,71.97 L744.31,71.92 L744.73,71.87 L745.16,71.82 L745.58,71.77 L746.00,71.73 L746.42,71.68 L746.84,71.64 L747.27,71.59 L747.69,71.55 L748.11,71.51 L748.53,71.47 L748.95,71.42 L749.37,71.38 L749.80,71.35 L750.22,71.31 L750.64,71.27 L751.06,71.23 L751.48,71.19 L751.91,71.16 L752.33,71.12 L752.75,71.09 L753.17,71.05 L753.59,71.02 L754.01,70.99 L754.44,70.96 L754.86,70.93 L755.28,70.89 L755.70,70.86 L756.12,70.83 L756.54,70.81 L756.97,70.78 L757.39,70.75 L757.81,70.72 L758.23,70.69 L758.50,70.68" fill="none" stroke="#a8323e" stroke-width="1" stroke-linejoin="round"/>
<path d="M640.60,206.50 L640.60,188.60 L647.70,161.40 L648.12,160.86 L648.54,159.94 L648.97,159.04 L649.39,158.13 L649.81,157.23 L650.23,156.34 L650.65,155.44 L651.07,154.56 L651.50,153.67 L651.92,152.80 L652.34,151.92 L652.76,151.05 L653.18,150.19 L653.61,149.33 L654.03,148.48 L654.45,147.63 L654.87,146.78 L655.29,145.94 L655.71,145.10 L656.14,144.27 L656.56,143.45 L656.98,142.63 L657.40,141.81 L657.82,141.00 L658.24,140.19 L658.67,139.39 L659.09,138.60 L659.51,137.80 L659.93,137.02 L660.35,136.24 L660.78,135.46 L661.20,134.69 L661.62,133.93 L662.04,133.17 L662.46,132.41 L662.88,131.66 L663.31,130.92 L663.73,130.18 L664.15,129.45 L664.57,128.72 L664.99,128.00 L665.42,127.28 L665.84,126.57 L666.26,125.86 L666.68,125.16 L667.10,124.47 L667.52,123.78 L667.95,123.09 L668.37,122.41 L668.79,121.74 L669.21,121.07 L669.63,120.41 L670.06,119.76 L670.48,119.11 L670.90,118.46 L671.32,117.82 L671.74,117.19 L672.16,116.56 L672.59,115.94 L673.01,115.32 L673.43,114.71 L673.85,114.10 L674.27,113.50 L674.69,112.91 L675.12,112.32 L675.54,111.74 L675.96,111.16 L676.38,110.59 L676.80,110.02 L677.23,109.46 L677.65,108.91 L678.07,108.36 L678.49,107.82 L678.91,107.28 L679.33,106.75 L679.76,106.22 L680.18,105.70 L680.60,105.18 L681.02,104.67 L681.44,104.17 L681.87,103.67 L682.29,103.18 L682.71,102.69 L683.13,102.21 L683.55,101.73 L683.97,101.26 L684.40,100.79 L684.82,100.33 L685.24,99.88 L685.66,99.43 L686.08,98.98 L686.51,98.55 L686.93,98.11 L687.35,97.68 L687.77,97.26 L688.19,96.84 L688.61,96.43 L689.04,96.02 L689.46,95.62 L689.88,95.22 L690.30,94.83 L690.72,94.44 L691.14,94.06 L691.57,93.69 L691.99,93.31 L692.41,92.95 L692.83,92.58 L693.25,92.23 L693.68,91.87 L694.10,91.53 L694.52,91.18 L694.94,90.84 L695.36,90.51 L695.78,90.18 L696.21,89.86 L696.63,89.54 L697.05,89.22 L697.47,88.91 L697.89,88.60 L698.32,88.30 L698.74,88.00 L699.16,87.71 L699.58,87.42 L700.00,87.14 L700.42,86.85 L700.85,86.58 L701.27,86.30 L701.69,86.04 L702.11,85.77 L702.53,85.51 L702.96,85.25 L703.38,85.00 L703.80,84.75 L704.22,84.50 L704.64,84.26 L705.06,84.02 L705.49,83.79 L705.91,83.56 L706.33,83.33 L706.75,83.10 L707.17,82.88 L707.59,82.66 L708.02,82.45 L708.44,82.24 L708.86,82.03 L709.28,81.82 L709.70,81.62 L710.13,81.42 L710.55,81.23 L710.97,81.03 L711.39,80.84 L711.81,80.66 L712.23,80.47 L712.66,80.29 L713.08,80.11 L713.50,79.94 L713.92,79.76 L714.34,79.59 L714.77,79.42 L715.19,79.26 L715.61,79.09 L716.03,78.93 L716.45,78.77 L716.87,78.62 L717.30,78.46 L717.72,78.31 L718.14,78.16 L718.56,78.01 L718.98,77.87 L719.41,77.72 L719.83,77.58 L720.25,77.44 L720.67,77.31 L721.09,77.17 L721.51,77.04 L721.94,76.91 L722.36,76.78 L722.78,76.65 L723.20,76.52 L723.62,76.40 L724.04,76.28 L724.47,76.16 L724.89,76.04 L725.31,75.92 L725.73,75.81 L726.15,75.69 L726.58,75.58 L727.00,75.47 L727.42,75.36 L727.84,75.25 L728.26,75.15 L728.68,75.04 L729.11,74.94 L729.53,74.84 L729.95,74.74 L730.37,74.64 L730.79,74.54 L731.22,74.45 L731.64,74.35 L732.06,74.26 L732.48,74.17 L732.90,74.08 L733.32,73.99 L733.75,73.90 L734.17,73.81 L734.59,73.73 L735.01,73.64 L735.43,73.56 L735.86,73.48 L736.28,73.40 L736.70,73.32 L737.12,73.24 L737.54,73.16 L737.96,73.09 L738.39,73.01 L738.81,72.94 L739.23,72.87 L739.65,72.80 L740.07,72.72 L740.49,72.66 L740.92,72.59 L741.34,72.52 L741.76,72.45 L742.18,72.39 L742.60,72.32 L743.03,72.26 L743.45,72.20 L743.87,72.14 L744.29,72.08 L744.71,72.02 L745.13,71.96 L745.56,71.90 L745.98,71.84 L746.40,71.79 L746.82,71.73 L747.24,71.68 L747.67,71.62 L748.09,71.57 L748.51,71.52 L748.93,71.47 L749.35,71.42 L749.77,71.37 L750.20,71.32 L750.62,71.27 L751.04,71.23 L751.46,71.18 L751.88,71.13 L752.31,71.09 L752.73,71.05 L753.15,71.00 L753.57,70.96 L753.99,70.92 L754.41,70.88 L754.84,70.84 L755.26,70.80 L755.68,70.76 L756.10,70.72 L756.52,70.68 L756.94,70.64 L757.37,70.61 L757.79,70.57 L758.21,70.53 L758.50,70.51" fill="none" stroke="#a8323e" stroke-width="1" stroke-linejoin="round"/>
<path d="M609.51,206.50 L609.72,206.15 L610.14,205.47 L610.57,204.80 L610.99,204.12 L611.41,203.44 L611.83,202.76 L612.25,202.09 L612.67,201.41 L613.10,200.73 L613.52,200.06 L613.94,199.38 L614.36,198.71 L614.78,198.03 L615.21,197.36 L615.63,196.69 L616.05,196.01 L616.47,195.34 L616.89,194.67 L617.31,194.00 L617.74,193.33 L618.16,192.65 L618.58,191.98 L619.00,191.31 L619.42,190.64 L619.84,189.97 L620.27,189.31 L620.69,188.64 L621.11,187.97 L621.53,187.30 L621.95,186.63 L622.38,185.97 L622.80,185.30 L623.22,184.63 L623.64,183.97 L624.06,183.30 L624.48,182.64 L624.91,181.98 L625.33,181.31 L625.75,180.65 L626.17,179.99 L626.59,179.32 L627.02,178.66 L627.44,178.00 L627.86,177.34 L628.28,176.68 L628.70,176.02 L629.12,175.36 L629.55,174.70 L629.97,174.04 L630.39,173.39 L630.81,172.73 L631.23,172.07 L631.66,171.42 L632.08,170.76 L632.50,170.10 L632.92,169.45 L633.34,168.80 L633.76,168.14 L634.19,167.49 L634.61,166.84 L635.03,166.19 L635.45,165.54 L635.87,164.89 L636.29,164.24 L636.72,163.59 L637.14,162.94 L637.56,162.30 L637.98,161.65 L638.40,161.00 L638.83,160.36 L639.25,159.71 L639.67,159.07 L640.09,158.43 L640.51,157.79 L640.93,157.15 L641.36,156.51 L641.78,155.87 L642.20,155.23 L642.62,154.60 L643.04,153.96 L643.47,153.32 L643.89,152.69 L644.31,152.06 L644.73,151.43 L645.15,150.80 L645.57,150.17 L646.00,149.54 L646.42,148.91 L646.84,148.29 L647.26,147.66 L647.68,147.04 L648.11,146.42 L648.53,145.80 L648.95,145.18 L649.37,144.56 L649.79,143.95 L650.21,143.33 L650.64,142.72 L651.06,142.11 L651.48,141.50 L651.90,140.89 L652.32,140.28 L652.74,139.68 L653.17,139.08 L653.59,138.47 L654.01,137.88 L654.43,137.28 L654.85,136.68 L655.28,136.09 L655.70,135.50 L656.12,134.91 L656.54,134.32 L656.96,133.73 L657.38,133.15 L657.81,132.57 L658.23,131.99 L658.65,131.41 L659.07,130.84 L659.49,130.27 L659.92,129.70 L660.34,129.13 L660.76,128.56 L661.18,128.00 L661.60,127.44 L662.02,126.88 L662.45,126.33 L662.87,125.77 L663.29,125.22 L663.71,124.68 L664.13,124.13 L664.56,123.59 L664.98,123.05 L665.40,122.52 L665.82,121.98 L666.24,121.45 L666.66,120.92 L667.09,120.40 L667.51,119.88 L667.93,119.36 L668.35,118.84 L668.77,118.33 L669.19,117.82 L669.62,117.32 L670.04,116.81 L670.46,116.31 L670.88,115.82 L671.30,115.33 L671.73,114.84 L672.15,114.35 L672.57,113.87 L672.99,113.39 L673.41,112.91 L673.83,112.44 L674.26,111.97 L674.68,111.50 L675.10,111.04 L675.52,110.58 L675.94,110.12 L676.37,109.67 L676.79,109.22 L677.21,108.78 L677.63,108.34 L678.05,107.90 L678.47,107.47 L678.90,107.04 L679.32,106.61 L679.74,106.19 L680.16,105.77 L680.58,105.35 L681.01,104.94 L681.43,104.53 L681.85,104.13 L682.27,103.73 L682.69,103.33 L683.11,102.94 L683.54,102.55 L683.96,102.17 L684.38,101.79 L684.80,101.41 L685.22,101.04 L685.64,100.67 L686.07,100.30 L686.49,99.94 L686.91,99.58 L687.33,99.22 L687.75,98.87 L688.18,98.53 L688.60,98.18 L689.02,97.85 L689.44,97.51 L689.86,97.18 L690.28,96.85 L690.71,96.53 L691.13,96.21 L691.55,95.89 L691.97,95.58 L692.39,95.27 L692.82,94.96 L693.24,94.66 L693.66,94.36 L694.08,94.07 L694.50,93.78 L694.92,93.49 L695.35,93.21 L695.77,92.93 L696.19,92.66 L696.61,92.38 L697.03,92.11 L697.46,91.85 L697.88,91.59 L698.30,91.33 L698.72,91.08 L699.14,90.83 L699.56,90.58 L699.99,90.33 L700.41,90.09 L700.83,89.86 L701.25,89.62 L701.67,89.39 L702.09,89.16 L702.52,88.94 L702.94,88.72 L703.36,88.50 L703.78,88.29 L704.20,88.07 L704.63,87.87 L705.05,87.66 L705.47,87.46 L705.89,87.26 L706.31,87.06 L706.73,86.87 L707.16,86.68 L707.58,86.49 L708.00,86.30 L708.42,86.12 L708.84,85.94 L709.27,85.76 L709.69,85.59 L710.11,85.42 L710.53,85.25 L710.95,85.08 L711.37,84.92 L711.80,84.76 L712.22,84.60 L712.64,84.44 L713.06,84.28 L713.48,84.13 L713.91,83.98 L714.33,83.83 L714.75,83.69 L715.17,83.54 L715.59,83.40 L716.01,83.26 L716.44,83.13 L716.86,82.99 L717.28,82.86 L717.70,82.73 L718.12,82.60 L718.54,82.47 L718.97,82.34 L719.39,82.22 L719.81,82.10 L720.23,81.97 L720.65,81.86 L721.08,81.74 L721.50,81.62 L721.92,81.51 L722.34,81.40 L722.76,81.29 L723.18,81.18 L723.61,81.07 L724.03,80.96 L724.45,80.86 L724.87,80.75 L725.29,80.65 L725.72,80.55 L726.14,80.45 L726.56,80.35 L726.98,80.26 L727.40,80.16 L727.82,80.07 L728.25,79.98 L728.67,79.88 L729.09,79.79 L729.51,79.71 L729.93,79.62 L730.36,79.53 L730.78,79.45 L731.20,79.36 L731.62,79.28 L732.04,79.20 L732.46,79.11 L732.89,79.03 L733.31,78.96 L733.73,78.88 L734.15,78.80 L734.57,78.73 L734.99,78.65 L735.42,78.58 L735.84,78.51 L736.26,78.43 L736.68,78.36 L737.10,78.29 L737.53,78.23 L737.95,78.16 L738.37,78.09 L738.79,78.03 L739.21,77.96 L739.63,77.90 L740.06,77.83 L740.48,77.77 L740.90,77.71 L741.32,77.65 L741.74,77.59 L742.17,77.53 L742.59,77.47 L743.01,77.42 L743.43,77.36 L743.85,77.31 L744.27,77.25 L744.70,77.20 L745.12,77.15 L745.54,77.09 L745.96,77.04 L746.38,76.99 L746.81,76.94 L747.23,76.89 L747.65,76.84 L748.07,76.80 L748.49,76.75 L748.91,76.70 L749.34,76.66 L749.76,76.61 L750.18,76.57 L750.60,76.53 L751.02,76.49 L751.44,76.44 L751.87,76.40 L752.29,76.36 L752.71,76.32 L753.13,76.28 L753.55,76.25 L753.98,76.21 L754.40,76.17 L754.82,76.13 L755.24,76.10 L755.66,76.06 L756.08,76.03 L756.51,75.99 L756.93,75.96 L757.35,75.93 L757.77,75.89 L758.19,75.86 L758.50,75.84" fill="none" stroke="#e424e4" stroke-width="1" stroke-linejoin="round"/>
<path d="M613.62,206.50 L613.92,205.99 L614.34,205.27 L614.77,204.56 L615.19,203.84 L615.61,203.12 L616.03,202.40 L616.45,201.69 L616.87,200.97 L617.30,200.26 L617.72,199.54 L618.14,198.83 L618.56,198.12 L618.98,197.40 L619.41,196.69 L619.83,195.98 L620.25,195.27 L620.67,194.55 L621.09,193.84 L621.51,193.13 L621.94,192.42 L622.36,191.71 L622.78,191.00 L623.20,190.30 L623.62,189.59 L624.04,188.88 L624.47,188.17 L624.89,187.47 L625.31,186.76 L625.73,186.06 L626.15,185.35 L626.58,184.65 L627.00,183.95 L627.42,183.24 L627.84,182.54 L628.26,181.84 L628.68,181.14 L629.11,180.44 L629.53,179.74 L629.95,179.04 L630.37,178.34 L630.79,177.64 L631.22,176.94 L631.64,176.25 L632.06,175.55 L632.48,174.86 L632.90,174.16 L633.32,173.47 L633.75,172.78 L634.17,172.08 L634.59,171.39 L635.01,170.70 L635.43,170.01 L635.86,169.32 L636.28,168.63 L636.70,167.95 L637.12,167.26 L637.54,166.57 L637.96,165.89 L638.39,165.20 L638.81,164.52 L639.23,163.84 L639.65,163.16 L640.07,162.48 L640.49,161.80 L640.92,161.12 L641.34,160.44 L641.76,159.76 L642.18,159.09 L642.60,158.41 L643.03,157.74 L643.45,157.07 L643.87,156.39 L644.29,155.72 L644.71,155.06 L645.13,154.39 L645.56,153.72 L645.98,153.06 L646.40,152.39 L646.82,151.73 L647.24,151.07 L647.67,150.41 L648.09,149.75 L648.51,149.09 L648.93,148.43 L649.35,147.78 L649.77,147.13 L650.20,146.47 L650.62,145.82 L651.04,145.18 L651.46,144.53 L651.88,143.88 L652.31,143.24 L652.73,142.60 L653.15,141.96 L653.57,141.32 L653.99,140.69 L654.41,140.05 L654.84,139.42 L655.26,138.79 L655.68,138.16 L656.10,137.54 L656.52,136.91 L656.94,136.29 L657.37,135.67 L657.79,135.05 L658.21,134.44 L658.63,133.83 L659.05,133.22 L659.48,132.61 L659.90,132.00 L660.32,131.40 L660.74,130.80 L661.16,130.20 L661.58,129.61 L662.01,129.02 L662.43,128.43 L662.85,127.84 L663.27,127.26 L663.69,126.68 L664.12,126.10 L664.54,125.52 L664.96,124.95 L665.38,124.38 L665.80,123.82 L666.22,123.26 L666.65,122.70 L667.07,122.14 L667.49,121.59 L667.91,121.04 L668.33,120.49 L668.76,119.95 L669.18,119.41 L669.60,118.88 L670.02,118.35 L670.44,117.82 L670.86,117.29 L671.29,116.77 L671.71,116.26 L672.13,115.74 L672.55,115.23 L672.97,114.73 L673.39,114.22 L673.82,113.73 L674.24,113.23 L674.66,112.74 L675.08,112.25 L675.50,111.77 L675.93,111.29 L676.35,110.82 L676.77,110.35 L677.19,109.88 L677.61,109.42 L678.03,108.96 L678.46,108.51 L678.88,108.06 L679.30,107.61 L679.72,107.17 L680.14,106.73 L680.57,106.30 L680.99,105.87 L681.41,105.45 L681.83,105.02 L682.25,104.61 L682.67,104.20 L683.10,103.79 L683.52,103.39 L683.94,102.99 L684.36,102.59 L684.78,102.20 L685.21,101.81 L685.63,101.43 L686.05,101.06 L686.47,100.68 L686.89,100.31 L687.31,99.95 L687.74,99.59 L688.16,99.23 L688.58,98.88 L689.00,98.53 L689.42,98.19 L689.84,97.85 L690.27,97.52 L690.69,97.19 L691.11,96.86 L691.53,96.54 L691.95,96.22 L692.38,95.91 L692.80,95.60 L693.22,95.29 L693.64,94.99 L694.06,94.69 L694.48,94.40 L694.91,94.11 L695.33,93.82 L695.75,93.54 L696.17,93.27 L696.59,92.99 L697.02,92.72 L697.44,92.46 L697.86,92.20 L698.28,91.94 L698.70,91.69 L699.12,91.44 L699.55,91.19 L699.97,90.95 L700.39,90.71 L700.81,90.47 L701.23,90.24 L701.66,90.01 L702.08,89.79 L702.50,89.57 L702.92,89.35 L703.34,89.13 L703.76,88.92 L704.19,88.72 L704.61,88.51 L705.03,88.31 L705.45,88.11 L705.87,87.92 L706.29,87.73 L706.72,87.54 L707.14,87.35 L707.56,87.17 L707.98,86.99 L708.40,86.81 L708.83,86.64 L709.25,86.47 L709.67,86.30 L710.09,86.14 L710.51,85.97 L710.93,85.81 L711.36,85.66 L711.78,85.50 L712.20,85.35 L712.62,85.20 L713.04,85.05 L713.47,84.91 L713.89,84.77 L714.31,84.63 L714.73,84.49 L715.15,84.35 L715.57,84.22 L716.00,84.09 L716.42,83.96 L716.84,83.83 L717.26,83.71 L717.68,83.58 L718.11,83.46 L718.53,83.34 L718.95,83.23 L719.37,83.11 L719.79,83.00 L720.21,82.89 L720.64,82.78 L721.06,82.67 L721.48,82.56 L721.90,82.46 L722.32,82.35 L722.74,82.25 L723.17,82.15 L723.59,82.06 L724.01,81.96 L724.43,81.86 L724.85,81.77 L725.28,81.68 L725.70,81.59 L726.12,81.50 L726.54,81.41 L726.96,81.33 L727.38,81.24 L727.81,81.16 L728.23,81.08 L728.65,80.99 L729.07,80.91 L729.49,80.84 L729.92,80.76 L730.34,80.68 L730.76,80.61 L731.18,80.54 L731.60,80.46 L732.02,80.39 L732.45,80.32 L732.87,80.25 L733.29,80.19 L733.71,80.12 L734.13,80.05 L734.56,79.99 L734.98,79.93 L735.40,79.86 L735.82,79.80 L736.24,79.74 L736.66,79.68 L737.09,79.62 L737.51,79.57 L737.93,79.51 L738.35,79.45 L738.77,79.40 L739.19,79.35 L739.62,79.29 L740.04,79.24 L740.46,79.19 L740.88,79.14 L741.30,79.09 L741.73,79.04 L742.15,79.00 L742.57,78.95 L742.99,78.90 L743.41,78.86 L743.83,78.82 L744.26,78.77 L744.68,78.73 L745.10,78.69 L745.52,78.65 L745.94,78.61 L746.37,78.57 L746.79,78.53 L747.21,78.49 L747.63,78.45 L748.05,78.42 L748.47,78.38 L748.90,78.34 L749.32,78.31 L749.74,78.27 L750.16,78.24 L750.58,78.21 L751.01,78.18 L751.43,78.14 L751.85,78.11 L752.27,78.08 L752.69,78.05 L753.11,78.02 L753.54,78.00 L753.96,77.97 L754.38,77.94 L754.80,77.91 L755.22,77.89 L755.64,77.86 L756.07,77.83 L756.49,77.81 L756.91,77.78 L757.33,77.76 L757.75,77.74 L758.18,77.71 L758.50,77.70" fill="none" stroke="#e424e4" stroke-width="1" stroke-linejoin="round"/>
<rect x="444" y="185" width="3.2" height="3.2" fill="#19e619"/>
<line x1="50.5" y1="265" x2="50.5" y2="454" stroke="#f0f0f0"/>
<line x1="67.5" y1="265" x2="67.5" y2="454" stroke="#f0f0f0"/>
<line x1="85.5" y1="265" x2="85.5" y2="454" stroke="#f0f0f0"/>
<line x1="102.5" y1="265" x2="102.5" y2="454" stroke="#f0f0f0"/>
<line x1="120.5" y1="265" x2="120.5" y2="454" stroke="#f0f0f0"/>
<line x1="137.5" y1="265" x2="137.5" y2="454" stroke="#f0f0f0"/>
<line x1="155.5" y1="265" x2="155.5" y2="454" stroke="#f0f0f0"/>
<line x1="172.5" y1="265" x2="172.5" y2="454" stroke="#f0f0f0"/>
<line x1="190.5" y1="265" x2="190.5" y2="454" stroke="#f0f0f0"/>
<line x1="207.5" y1="265" x2="207.5" y2="454" stroke="#f0f0f0"/>
<line x1="225.5" y1="265" x2="225.5" y2="454" stroke="#f0f0f0"/>
<line x1="242.5" y1="265" x2="242.5" y2="454" stroke="#f0f0f0"/>
<line x1="260.5" y1="265" x2="260.5" y2="454" stroke="#f0f0f0"/>
<line x1="277.5" y1="265" x2="277.5" y2="454" stroke="#f0f0f0"/>
<line x1="295.5" y1="265" x2="295.5" y2="454" stroke="#f0f0f0"/>
<line x1="312.5" y1="265" x2="312.5" y2="454" stroke="#f0f0f0"/>
<line x1="330.5" y1="265" x2="330.5" y2="454" stroke="#f0f0f0"/>
<line x1="347.5" y1="265" x2="347.5" y2="454" stroke="#f0f0f0"/>
<line x1="365.5" y1="265" x2="365.5" y2="454" stroke="#f0f0f0"/>
<line x1="42" y1="440.5" x2="382" y2="440.5" stroke="#f8f8f8"/>
<line x1="42" y1="440.5" x2="382" y2="440.5" stroke="#e6e6e6" stroke-dasharray="1 1"/>
<line x1="42" y1="431.5" x2="382" y2="431.5" stroke="#f8f8f8"/>
<line x1="42" y1="431.5" x2="382" y2="431.5" stroke="#e6e6e6" stroke-dasharray="1 1"/>
<line x1="42" y1="425.5" x2="382" y2="425.5" stroke="#f8f8f8"/>
<line x1="42" y1="425.5" x2="382" y2="425.5" stroke="#e6e6e6" stroke-dasharray="1 1"/>
<line x1="42" y1="421.5" x2="382" y2="421.5" stroke="#f8f8f8"/>
<line x1="42" y1="421.5" x2="382" y2="421.5" stroke="#e6e6e6" stroke-dasharray="1 1"/>
<line x1="42" y1="417.5" x2="382" y2="417.5" stroke="#f8f8f8"/>
<line x1="42" y1="417.5" x2="382" y2="417.5" stroke="#e6e6e6" stroke-dasharray="1 1"/>
<line x1="42" y1="414.5" x2="382" y2="414.5" stroke="#f8f8f8"/>
<line x1="42" y1="414.5" x2="382" y2="414.5" stroke="#e6e6e6" stroke-dasharray="1 1"/>
<line x1="42" y1="411.5" x2="382" y2="411.5" stroke="#f8f8f8"/>
<line x1="42" y1="411.5" x2="382" y2="411.5" stroke="#e6e6e6" stroke-dasharray="1 1"/>
<line x1="42" y1="409.5" x2="382" y2="409.5" stroke="#f8f8f8"/>
<line x1="42" y1="409.5" x2="382" y2="409.5" stroke="#e6e6e6" stroke-dasharray="1 1"/>
<line x1="42" y1="406.5" x2="382" y2="406.5" stroke="#f8f8f8"/>
<line x1="42" y1="406.5" x2="382" y2="406.5" stroke="#e6e6e6" stroke-dasharray="1 1"/>
<line x1="42" y1="392.5" x2="382" y2="392.5" stroke="#f8f8f8"/>
<line x1="42" y1="392.5" x2="382" y2="392.5" stroke="#e6e6e6" stroke-dasharray="1 1"/>
<line x1="42" y1="384.5" x2="382" y2="384.5" stroke="#f8f8f8"/>
<line x1="42" y1="384.5" x2="382" y2="384.5" stroke="#e6e6e6" stroke-dasharray="1 1"/>
<line x1="42" y1="378.5" x2="382" y2="378.5" stroke="#f8f8f8"/>
<line x1="42" y1="378.5" x2="382" y2="378.5" stroke="#e6e6e6" stroke-dasharray="1 1"/>
<line x1="42" y1="373.5" x2="382" y2="373.5" stroke="#f8f8f8"/>
<line x1="42" y1="373.5" x2="382" y2="373.5" stroke="#e6e6e6" stroke-dasharray="1 1"/>
<line x1="42" y1="370.5" x2="382" y2="370.5" stroke="#f8f8f8"/>
<line x1="42" y1="370.5" x2="382" y2="370.5" stroke="#e6e6e6" stroke-dasharray="1 1"/>
<line x1="42" y1="366.5" x2="382" y2="366.5" stroke="#f8f8f8"/>
<line x1="42" y1="366.5" x2="382" y2="366.5" stroke="#e6e6e6" stroke-dasharray="1 1"/>
<line x1="42" y1="364.5" x2="382" y2="364.5" stroke="#f8f8f8"/>
<line x1="42" y1="364.5" x2="382" y2="364.5" stroke="#e6e6e6" stroke-dasharray="1 1"/>
<line x1="42" y1="361.5" x2="382" y2="361.5" stroke="#f8f8f8"/>
<line x1="42" y1="361.5" x2="382" y2="361.5" stroke="#e6e6e6" stroke-dasharray="1 1"/>
<line x1="42" y1="359.5" x2="382" y2="359.5" stroke="#f8f8f8"/>
<line x1="42" y1="359.5" x2="382" y2="359.5" stroke="#e6e6e6" stroke-dasharray="1 1"/>
<line x1="42" y1="345.5" x2="382" y2="345.5" stroke="#f8f8f8"/>
<line x1="42" y1="345.5" x2="382" y2="345.5" stroke="#e6e6e6" stroke-dasharray="1 1"/>
<line x1="42" y1="336.5" x2="382" y2="336.5" stroke="#f8f8f8"/>
<line x1="42" y1="336.5" x2="382" y2="336.5" stroke="#e6e6e6" stroke-dasharray="1 1"/>
<line x1="42" y1="330.5" x2="382" y2="330.5" stroke="#f8f8f8"/>
<line x1="42" y1="330.5" x2="382" y2="330.5" stroke="#e6e6e6" stroke-dasharray="1 1"/>
<line x1="42" y1="326.5" x2="382" y2="326.5" stroke="#f8f8f8"/>
<line x1="42" y1="326.5" x2="382" y2="326.5" stroke="#e6e6e6" stroke-dasharray="1 1"/>
<line x1="42" y1="322.5" x2="382" y2="322.5" stroke="#f8f8f8"/>
<line x1="42" y1="322.5" x2="382" y2="322.5" stroke="#e6e6e6" stroke-dasharray="1 1"/>
<line x1="42" y1="319.5" x2="382" y2="319.5" stroke="#f8f8f8"/>
<line x1="42" y1="319.5" x2="382" y2="319.5" stroke="#e6e6e6" stroke-dasharray="1 1"/>
<line x1="42" y1="316.5" x2="382" y2="316.5" stroke="#f8f8f8"/>
<line x1="42" y1="316.5" x2="382" y2="316.5" stroke="#e6e6e6" stroke-dasharray="1 1"/>
<line x1="42" y1="314.5" x2="382" y2="314.5" stroke="#f8f8f8"/>
<line x1="42" y1="314.5" x2="382" y2="314.5" stroke="#e6e6e6" stroke-dasharray="1 1"/>
<line x1="42" y1="312.5" x2="382" y2="312.5" stroke="#f8f8f8"/>
<line x1="42" y1="312.5" x2="382" y2="312.5" stroke="#e6e6e6" stroke-dasharray="1 1"/>
<line x1="42" y1="297.5" x2="382" y2="297.5" stroke="#f8f8f8"/>
<line x1="42" y1="297.5" x2="382" y2="297.5" stroke="#e6e6e6" stroke-dasharray="1 1"/>
<line x1="42" y1="289.5" x2="382" y2="289.5" stroke="#f8f8f8"/>
<line x1="42" y1="289.5" x2="382" y2="289.5" stroke="#e6e6e6" stroke-dasharray="1 1"/>
<line x1="42" y1="283.5" x2="382" y2="283.5" stroke="#f8f8f8"/>
<line x1="42" y1="283.5" x2="382" y2="283.5" stroke="#e6e6e6" stroke-dasharray="1 1"/>
<line x1="42" y1="278.5" x2="382" y2="278.5" stroke="#f8f8f8"/>
<line x1="42" y1="278.5" x2="382" y2="278.5" stroke="#e6e6e6" stroke-dasharray="1 1"/>
<line x1="42" y1="275.5" x2="382" y2="275.5" stroke="#f8f8f8"/>
<line x1="42" y1="275.5" x2="382" y2="275.5" stroke="#e6e6e6" stroke-dasharray="1 1"/>
<line x1="42" y1="271.5" x2="382" y2="271.5" stroke="#f8f8f8"/>
<line x1="42" y1="271.5" x2="382" y2="271.5" stroke="#e6e6e6" stroke-dasharray="1 1"/>
<line x1="42" y1="269.5" x2="382" y2="269.5" stroke="#f8f8f8"/>
<line x1="42" y1="269.5" x2="382" y2="269.5" stroke="#e6e6e6" stroke-dasharray="1 1"/>
<line x1="42" y1="266.5" x2="382" y2="266.5" stroke="#f8f8f8"/>
<line x1="42" y1="266.5" x2="382" y2="266.5" stroke="#e6e6e6" stroke-dasharray="1 1"/>
<line x1="41.5" y1="264.5" x2="382.5" y2="264.5" stroke="#cdcdcd"/>
<line x1="382.5" y1="264.5" x2="382.5" y2="454.5" stroke="#cdcdcd"/>
<line x1="40.5" y1="454.5" x2="382.5" y2="454.5" stroke="#a4a4a4" stroke-width="1.1"/>
<line x1="41.5" y1="264.5" x2="41.5" y2="454.5" stroke="#a0a0a0"/>
<line x1="39.5" y1="454.5" x2="41.5" y2="454.5" stroke="#999"/>
<text transform="translate(38.10,456.02) scale(1,0.87)" text-anchor="end" class="tk" style="stroke-width:0.32px;">1000</text>
<line x1="39.5" y1="407.0" x2="41.5" y2="407.0" stroke="#999"/>
<text transform="translate(38.10,408.52) scale(1,0.87)" text-anchor="end" class="tk" style="stroke-width:0.32px;">10000</text>
<line x1="39.5" y1="359.5" x2="41.5" y2="359.5" stroke="#999"/>
<text transform="translate(38.10,361.02) scale(1,0.87)" text-anchor="end" class="tk" style="stroke-width:0.32px;">100000</text>
<line x1="39.5" y1="312.0" x2="41.5" y2="312.0" stroke="#999"/>
<text transform="translate(38.10,313.52) scale(1,0.87)" text-anchor="end" class="tk" style="stroke-width:0.32px;">1000000</text>
<line x1="39.5" y1="264.5" x2="41.5" y2="264.5" stroke="#999"/>
<text transform="translate(38.10,266.02) scale(1,0.87)" text-anchor="end" class="tk" style="stroke-width:0.32px;">10000000</text>
<line x1="50.2" y1="454.5" x2="50.2" y2="456.0" stroke="#999"/>
<text transform="translate(50.24,460.70) scale(1,0.87)" text-anchor="middle" class="tk">2</text>
<line x1="67.7" y1="454.5" x2="67.7" y2="456.0" stroke="#999"/>
<text transform="translate(67.73,460.70) scale(1,0.87)" text-anchor="middle" class="tk">4</text>
<line x1="85.2" y1="454.5" x2="85.2" y2="456.0" stroke="#999"/>
<text transform="translate(85.22,460.70) scale(1,0.87)" text-anchor="middle" class="tk">6</text>
<line x1="102.7" y1="454.5" x2="102.7" y2="456.0" stroke="#999"/>
<text transform="translate(102.71,460.70) scale(1,0.87)" text-anchor="middle" class="tk">8</text>
<line x1="120.2" y1="454.5" x2="120.2" y2="456.0" stroke="#999"/>
<text transform="translate(120.19,460.70) scale(1,0.87)" text-anchor="middle" class="tk">10</text>
<line x1="137.7" y1="454.5" x2="137.7" y2="456.0" stroke="#999"/>
<text transform="translate(137.68,460.70) scale(1,0.87)" text-anchor="middle" class="tk">12</text>
<line x1="155.2" y1="454.5" x2="155.2" y2="456.0" stroke="#999"/>
<text transform="translate(155.17,460.70) scale(1,0.87)" text-anchor="middle" class="tk">14</text>
<line x1="172.7" y1="454.5" x2="172.7" y2="456.0" stroke="#999"/>
<text transform="translate(172.65,460.70) scale(1,0.87)" text-anchor="middle" class="tk">16</text>
<line x1="190.1" y1="454.5" x2="190.1" y2="456.0" stroke="#999"/>
<text transform="translate(190.14,460.70) scale(1,0.87)" text-anchor="middle" class="tk">18</text>
<line x1="207.6" y1="454.5" x2="207.6" y2="456.0" stroke="#999"/>
<text transform="translate(207.63,460.70) scale(1,0.87)" text-anchor="middle" class="tk">20</text>
<line x1="225.1" y1="454.5" x2="225.1" y2="456.0" stroke="#999"/>
<text transform="translate(225.12,460.70) scale(1,0.87)" text-anchor="middle" class="tk">22</text>
<line x1="242.6" y1="454.5" x2="242.6" y2="456.0" stroke="#999"/>
<text transform="translate(242.60,460.70) scale(1,0.87)" text-anchor="middle" class="tk">24</text>
<line x1="260.1" y1="454.5" x2="260.1" y2="456.0" stroke="#999"/>
<text transform="translate(260.09,460.70) scale(1,0.87)" text-anchor="middle" class="tk">26</text>
<line x1="277.6" y1="454.5" x2="277.6" y2="456.0" stroke="#999"/>
<text transform="translate(277.58,460.70) scale(1,0.87)" text-anchor="middle" class="tk">28</text>
<line x1="295.1" y1="454.5" x2="295.1" y2="456.0" stroke="#999"/>
<text transform="translate(295.06,460.70) scale(1,0.87)" text-anchor="middle" class="tk">30</text>
<line x1="312.6" y1="454.5" x2="312.6" y2="456.0" stroke="#999"/>
<text transform="translate(312.55,460.70) scale(1,0.87)" text-anchor="middle" class="tk">32</text>
<line x1="330.0" y1="454.5" x2="330.0" y2="456.0" stroke="#999"/>
<text transform="translate(330.04,460.70) scale(1,0.87)" text-anchor="middle" class="tk">34</text>
<line x1="347.5" y1="454.5" x2="347.5" y2="456.0" stroke="#999"/>
<text transform="translate(347.53,460.70) scale(1,0.87)" text-anchor="middle" class="tk">36</text>
<line x1="365.0" y1="454.5" x2="365.0" y2="456.0" stroke="#999"/>
<text transform="translate(365.01,460.70) scale(1,0.87)" text-anchor="middle" class="tk">38</text>
<line x1="382.5" y1="454.5" x2="382.5" y2="456.0" stroke="#999"/>
<text transform="translate(382.50,460.70) scale(1,0.87)" text-anchor="middle" class="tk">40</text>
<text x="212" y="469.8" text-anchor="middle" class="at">Cycle</text>
<text transform="translate(10.2,358.8) rotate(-90)" text-anchor="middle" class="at">ΔRn</text>
<path d="M41.60,419.50 L50.60,435.40 L52.50,454.50" fill="none" stroke="#e424e4" stroke-width="1"/>
<path d="M190.11,454.50 L190.40,453.83 L190.84,452.83 L191.27,451.84 L191.71,450.86 L192.15,449.89 L192.59,448.93 L193.02,447.98 L193.46,447.03 L193.90,446.10 L194.33,445.17 L194.77,444.25 L195.21,443.34 L195.65,442.43 L196.08,441.53 L196.52,440.64 L196.96,439.75 L197.39,438.87 L197.83,438.00 L198.27,437.13 L198.71,436.26 L199.14,435.40 L199.58,434.55 L200.02,433.70 L200.46,432.85 L200.89,432.01 L201.33,431.18 L201.77,430.35 L202.20,429.52 L202.64,428.70 L203.08,427.88 L203.52,427.06 L203.95,426.25 L204.39,425.45 L204.83,424.64 L205.26,423.84 L205.70,423.05 L206.14,422.25 L206.58,421.47 L207.01,420.68 L207.45,419.90 L207.89,419.12 L208.32,418.34 L208.76,417.57 L209.20,416.80 L209.64,416.03 L210.07,415.27 L210.51,414.51 L210.95,413.75 L211.38,413.00 L211.82,412.25 L212.26,411.50 L212.70,410.75 L213.13,410.01 L213.57,409.27 L214.01,408.54 L214.44,407.80 L214.88,407.07 L215.32,406.34 L215.76,405.62 L216.19,404.90 L216.63,404.18 L217.07,403.46 L217.51,402.75 L217.94,402.04 L218.38,401.33 L218.82,400.62 L219.25,399.92 L219.69,399.22 L220.13,398.53 L220.57,397.83 L221.00,397.14 L221.44,396.45 L221.88,395.77 L222.31,395.08 L222.75,394.40 L223.19,393.73 L223.63,393.05 L224.06,392.38 L224.50,391.71 L224.94,391.05 L225.37,390.39 L225.81,389.73 L226.25,389.07 L226.69,388.41 L227.12,387.76 L227.56,387.12 L228.00,386.47 L228.43,385.83 L228.87,385.19 L229.31,384.55 L229.75,383.92 L230.18,383.29 L230.62,382.66 L231.06,382.04 L231.49,381.41 L231.93,380.79 L232.37,380.18 L232.81,379.57 L233.24,378.96 L233.68,378.35 L234.12,377.75 L234.56,377.15 L234.99,376.55 L235.43,375.96 L235.87,375.36 L236.30,374.78 L236.74,374.19 L237.18,373.61 L237.62,373.03 L238.05,372.46 L238.49,371.88 L238.93,371.31 L239.36,370.75 L239.80,370.19 L240.24,369.63 L240.68,369.07 L241.11,368.52 L241.55,367.97 L241.99,367.42 L242.42,366.88 L242.86,366.34 L243.30,365.80 L243.74,365.26 L244.17,364.73 L244.61,364.21 L245.05,363.68 L245.48,363.16 L245.92,362.65 L246.36,362.13 L246.80,361.62 L247.23,361.11 L247.67,360.61 L248.11,360.11 L248.54,359.61 L248.98,359.12 L249.42,358.63 L249.86,358.14 L250.29,357.65 L250.73,357.17 L251.17,356.70 L251.61,356.22 L252.04,355.75 L252.48,355.28 L252.92,354.82 L253.35,354.36 L253.79,353.90 L254.23,353.45 L254.67,353.00 L255.10,352.55 L255.54,352.11 L255.98,351.67 L256.41,351.23 L256.85,350.80 L257.29,350.37 L257.73,349.94 L258.16,349.51 L258.60,349.09 L259.04,348.68 L259.47,348.26 L259.91,347.85 L260.35,347.45 L260.79,347.04 L261.22,346.64 L261.66,346.25 L262.10,345.85 L262.53,345.46 L262.97,345.07 L263.41,344.69 L263.85,344.31 L264.28,343.93 L264.72,343.56 L265.16,343.19 L265.59,342.82 L266.03,342.46 L266.47,342.09 L266.91,341.74 L267.34,341.38 L267.78,341.03 L268.22,340.68 L268.66,340.34 L269.09,340.00 L269.53,339.66 L269.97,339.32 L270.40,338.99 L270.84,338.66 L271.28,338.33 L271.72,338.01 L272.15,337.69 L272.59,337.37 L273.03,337.06 L273.46,336.75 L273.90,336.44 L274.34,336.14 L274.78,335.83 L275.21,335.54 L275.65,335.24 L276.09,334.95 L276.52,334.66 L276.96,334.37 L277.40,334.09 L277.84,333.81 L278.27,333.53 L278.71,333.25 L279.15,332.98 L279.58,332.71 L280.02,332.44 L280.46,332.18 L280.90,331.92 L281.33,331.66 L281.77,331.40 L282.21,331.15 L282.64,330.90 L283.08,330.65 L283.52,330.41 L283.96,330.16 L284.39,329.92 L284.83,329.69 L285.27,329.45 L285.71,329.22 L286.14,328.99 L286.58,328.76 L287.02,328.54 L287.45,328.32 L287.89,328.10 L288.33,327.88 L288.77,327.67 L289.20,327.46 L289.64,327.25 L290.08,327.04 L290.51,326.83 L290.95,326.63 L291.39,326.43 L291.83,326.23 L292.26,326.04 L292.70,325.84 L293.14,325.65 L293.57,325.47 L294.01,325.28 L294.45,325.09 L294.89,324.91 L295.32,324.73 L295.76,324.55 L296.20,324.38 L296.63,324.21 L297.07,324.03 L297.51,323.86 L297.95,323.70 L298.38,323.53 L298.82,323.37 L299.26,323.21 L299.69,323.05 L300.13,322.89 L300.57,322.74 L301.01,322.58 L301.44,322.43 L301.88,322.28 L302.32,322.13 L302.76,321.99 L303.19,321.84 L303.63,321.70 L304.07,321.56 L304.50,321.42 L304.94,321.28 L305.38,321.15 L305.82,321.01 L306.25,320.88 L306.69,320.75 L307.13,320.62 L307.56,320.50 L308.00,320.37 L308.44,320.25 L308.88,320.13 L309.31,320.00 L309.75,319.89 L310.19,319.77 L310.62,319.65 L311.06,319.54 L311.50,319.42 L311.94,319.31 L312.37,319.20 L312.81,319.09 L313.25,318.99 L313.68,318.88 L314.12,318.78 L314.56,318.67 L315.00,318.57 L315.43,318.47 L315.87,318.37 L316.31,318.28 L316.74,318.18 L317.18,318.08 L317.62,317.99 L318.06,317.90 L318.49,317.81 L318.93,317.72 L319.37,317.63 L319.81,317.54 L320.24,317.45 L320.68,317.37 L321.12,317.28 L321.55,317.20 L321.99,317.12 L322.43,317.04 L322.87,316.96 L323.30,316.88 L323.74,316.80 L324.18,316.72 L324.61,316.65 L325.05,316.57 L325.49,316.50 L325.93,316.43 L326.36,316.36 L326.80,316.29 L327.24,316.22 L327.67,316.15 L328.11,316.08 L328.55,316.01 L328.99,315.95 L329.42,315.88 L329.86,315.82 L330.30,315.76 L330.73,315.69 L331.17,315.63 L331.61,315.57 L332.05,315.51 L332.48,315.45 L332.92,315.40 L333.36,315.34 L333.79,315.28 L334.23,315.23 L334.67,315.17 L335.11,315.12 L335.54,315.07 L335.98,315.01 L336.42,314.96 L336.86,314.91 L337.29,314.86 L337.73,314.81 L338.17,314.76 L338.60,314.71 L339.04,314.66 L339.48,314.62 L339.92,314.57 L340.35,314.53 L340.79,314.48 L341.23,314.44 L341.66,314.39 L342.10,314.35 L342.54,314.31 L342.98,314.27 L343.41,314.22 L343.85,314.18 L344.29,314.14 L344.72,314.10 L345.16,314.07 L345.60,314.03 L346.04,313.99 L346.47,313.95 L346.91,313.91 L347.35,313.88 L347.78,313.84 L348.22,313.81 L348.66,313.77 L349.10,313.74 L349.53,313.70 L349.97,313.67 L350.41,313.64 L350.84,313.61 L351.28,313.57 L351.72,313.54 L352.16,313.51 L352.59,313.48 L353.03,313.45 L353.47,313.42 L353.91,313.39 L354.34,313.36 L354.78,313.34 L355.22,313.31 L355.65,313.28 L356.09,313.25 L356.53,313.23 L356.97,313.20 L357.40,313.17 L357.84,313.15 L358.28,313.12 L358.71,313.10 L359.15,313.07 L359.59,313.05 L360.03,313.03 L360.46,313.00 L360.90,312.98 L361.34,312.96 L361.77,312.93 L362.21,312.91 L362.65,312.89 L363.09,312.87 L363.52,312.85 L363.96,312.83 L364.40,312.81 L364.83,312.79 L365.27,312.77 L365.71,312.75 L366.15,312.73 L366.58,312.71 L367.02,312.69 L367.46,312.67 L367.89,312.65 L368.33,312.63 L368.77,312.62 L369.21,312.60 L369.64,312.58 L370.08,312.56 L370.52,312.55 L370.96,312.53 L371.39,312.51 L371.83,312.50 L372.27,312.48 L372.70,312.47 L373.14,312.45 L373.58,312.44 L374.02,312.42 L374.45,312.41 L374.89,312.39 L375.33,312.38 L375.76,312.36 L376.20,312.35 L376.64,312.34 L377.08,312.32 L377.51,312.31 L377.95,312.30 L378.39,312.28 L378.82,312.27 L379.26,312.26 L379.70,312.25 L380.14,312.23 L380.57,312.22 L381.01,312.21 L381.45,312.20 L381.88,312.19 L382.32,312.18 L382.50,312.17" fill="none" stroke="#e424e4" stroke-width="1.25" stroke-linejoin="round"/>
<path d="M201.47,454.50 L201.60,453.63 L202.04,451.05 L202.47,448.68 L202.91,446.49 L203.35,444.45 L203.79,442.53 L204.22,440.73 L204.66,439.01 L205.10,437.38 L205.53,435.83 L205.97,434.33 L206.41,432.90 L206.85,431.51 L207.28,430.17 L207.72,428.88 L208.16,427.62 L208.59,426.40 L209.03,425.21 L209.47,424.06 L209.91,422.93 L210.34,421.82 L210.78,420.74 L211.22,419.69 L211.66,418.65 L212.09,417.64 L212.53,416.64 L212.97,415.66 L213.40,414.70 L213.84,413.75 L214.28,412.81 L214.72,411.90 L215.15,410.99 L215.59,410.10 L216.03,409.21 L216.46,408.34 L216.90,407.48 L217.34,406.64 L217.78,405.80 L218.21,404.97 L218.65,404.15 L219.09,403.34 L219.52,402.53 L219.96,401.74 L220.40,400.95 L220.84,400.17 L221.27,399.40 L221.71,398.64 L222.15,397.88 L222.58,397.13 L223.02,396.38 L223.46,395.64 L223.90,394.91 L224.33,394.18 L224.77,393.46 L225.21,392.75 L225.64,392.04 L226.08,391.33 L226.52,390.64 L226.96,389.94 L227.39,389.25 L227.83,388.57 L228.27,387.89 L228.71,387.21 L229.14,386.54 L229.58,385.88 L230.02,385.22 L230.45,384.56 L230.89,383.91 L231.33,383.26 L231.77,382.62 L232.20,381.98 L232.64,381.34 L233.08,380.71 L233.51,380.08 L233.95,379.46 L234.39,378.84 L234.83,378.23 L235.26,377.61 L235.70,377.01 L236.14,376.40 L236.57,375.80 L237.01,375.21 L237.45,374.61 L237.89,374.02 L238.32,373.44 L238.76,372.85 L239.20,372.28 L239.63,371.70 L240.07,371.13 L240.51,370.56 L240.95,370.00 L241.38,369.44 L241.82,368.88 L242.26,368.32 L242.69,367.77 L243.13,367.23 L243.57,366.68 L244.01,366.14 L244.44,365.61 L244.88,365.07 L245.32,364.54 L245.76,364.02 L246.19,363.49 L246.63,362.97 L247.07,362.46 L247.50,361.94 L247.94,361.43 L248.38,360.93 L248.82,360.42 L249.25,359.93 L249.69,359.43 L250.13,358.94 L250.56,358.45 L251.00,357.96 L251.44,357.48 L251.88,357.00 L252.31,356.52 L252.75,356.05 L253.19,355.58 L253.62,355.11 L254.06,354.65 L254.50,354.19 L254.94,353.73 L255.37,353.28 L255.81,352.83 L256.25,352.38 L256.68,351.94 L257.12,351.50 L257.56,351.06 L258.00,350.63 L258.43,350.20 L258.87,349.77 L259.31,349.35 L259.74,348.93 L260.18,348.51 L260.62,348.10 L261.06,347.69 L261.49,347.28 L261.93,346.88 L262.37,346.48 L262.81,346.08 L263.24,345.69 L263.68,345.30 L264.12,344.91 L264.55,344.53 L264.99,344.14 L265.43,343.77 L265.87,343.39 L266.30,343.02 L266.74,342.65 L267.18,342.29 L267.61,341.93 L268.05,341.57 L268.49,341.21 L268.93,340.86 L269.36,340.51 L269.80,340.17 L270.24,339.82 L270.67,339.48 L271.11,339.15 L271.55,338.81 L271.99,338.48 L272.42,338.16 L272.86,337.83 L273.30,337.51 L273.73,337.19 L274.17,336.88 L274.61,336.57 L275.05,336.26 L275.48,335.95 L275.92,335.65 L276.36,335.35 L276.79,335.05 L277.23,334.76 L277.67,334.47 L278.11,334.18 L278.54,333.90 L278.98,333.61 L279.42,333.34 L279.86,333.06 L280.29,332.79 L280.73,332.52 L281.17,332.25 L281.60,331.98 L282.04,331.72 L282.48,331.46 L282.92,331.20 L283.35,330.95 L283.79,330.70 L284.23,330.45 L284.66,330.21 L285.10,329.96 L285.54,329.72 L285.98,329.49 L286.41,329.25 L286.85,329.02 L287.29,328.79 L287.72,328.56 L288.16,328.34 L288.60,328.12 L289.04,327.90 L289.47,327.68 L289.91,327.47 L290.35,327.25 L290.78,327.04 L291.22,326.84 L291.66,326.63 L292.10,326.43 L292.53,326.23 L292.97,326.03 L293.41,325.84 L293.84,325.65 L294.28,325.46 L294.72,325.27 L295.16,325.08 L295.59,324.90 L296.03,324.72 L296.47,324.54 L296.91,324.36 L297.34,324.19 L297.78,324.01 L298.22,323.84 L298.65,323.68 L299.09,323.51 L299.53,323.34 L299.97,323.18 L300.40,323.02 L300.84,322.86 L301.28,322.71 L301.71,322.55 L302.15,322.40 L302.59,322.25 L303.03,322.10 L303.46,321.96 L303.90,321.81 L304.34,321.67 L304.77,321.53 L305.21,321.39 L305.65,321.26 L306.09,321.12 L306.52,320.99 L306.96,320.85 L307.40,320.72 L307.83,320.60 L308.27,320.47 L308.71,320.35 L309.15,320.22 L309.58,320.10 L310.02,319.98 L310.46,319.86 L310.89,319.75 L311.33,319.63 L311.77,319.52 L312.21,319.41 L312.64,319.29 L313.08,319.19 L313.52,319.08 L313.96,318.97 L314.39,318.87 L314.83,318.76 L315.27,318.66 L315.70,318.56 L316.14,318.46 L316.58,318.37 L317.02,318.27 L317.45,318.17 L317.89,318.08 L318.33,317.99 L318.76,317.90 L319.20,317.81 L319.64,317.72 L320.08,317.63 L320.51,317.55 L320.95,317.46 L321.39,317.38 L321.82,317.30 L322.26,317.21 L322.70,317.13 L323.14,317.06 L323.57,316.98 L324.01,316.90 L324.45,316.83 L324.88,316.75 L325.32,316.68 L325.76,316.61 L326.20,316.53 L326.63,316.46 L327.07,316.39 L327.51,316.33 L327.94,316.26 L328.38,316.19 L328.82,316.13 L329.26,316.06 L329.69,316.00 L330.13,315.94 L330.57,315.88 L331.01,315.81 L331.44,315.75 L331.88,315.70 L332.32,315.64 L332.75,315.58 L333.19,315.52 L333.63,315.47 L334.07,315.41 L334.50,315.36 L334.94,315.31 L335.38,315.25 L335.81,315.20 L336.25,315.15 L336.69,315.10 L337.13,315.05 L337.56,315.00 L338.00,314.96 L338.44,314.91 L338.87,314.86 L339.31,314.82 L339.75,314.77 L340.19,314.73 L340.62,314.68 L341.06,314.64 L341.50,314.60 L341.93,314.55 L342.37,314.51 L342.81,314.47 L343.25,314.43 L343.68,314.39 L344.12,314.35 L344.56,314.32 L344.99,314.28 L345.43,314.24 L345.87,314.21 L346.31,314.17 L346.74,314.13 L347.18,314.10 L347.62,314.06 L348.06,314.03 L348.49,314.00 L348.93,313.96 L349.37,313.93 L349.80,313.90 L350.24,313.87 L350.68,313.84 L351.12,313.81 L351.55,313.78 L351.99,313.75 L352.43,313.72 L352.86,313.69 L353.30,313.66 L353.74,313.63 L354.18,313.61 L354.61,313.58 L355.05,313.55 L355.49,313.53 L355.92,313.50 L356.36,313.48 L356.80,313.45 L357.24,313.43 L357.67,313.40 L358.11,313.38 L358.55,313.36 L358.98,313.33 L359.42,313.31 L359.86,313.29 L360.30,313.27 L360.73,313.24 L361.17,313.22 L361.61,313.20 L362.04,313.18 L362.48,313.16 L362.92,313.14 L363.36,313.12 L363.79,313.10 L364.23,313.08 L364.67,313.06 L365.11,313.05 L365.54,313.03 L365.98,313.01 L366.42,312.99 L366.85,312.97 L367.29,312.96 L367.73,312.94 L368.17,312.92 L368.60,312.91 L369.04,312.89 L369.48,312.87 L369.91,312.86 L370.35,312.84 L370.79,312.83 L371.23,312.81 L371.66,312.80 L372.10,312.78 L372.54,312.77 L372.97,312.76 L373.41,312.74 L373.85,312.73 L374.29,312.72 L374.72,312.70 L375.16,312.69 L375.60,312.68 L376.03,312.66 L376.47,312.65 L376.91,312.64 L377.35,312.63 L377.78,312.62 L378.22,312.60 L378.66,312.59 L379.09,312.58 L379.53,312.57 L379.97,312.56 L380.41,312.55 L380.84,312.54 L381.28,312.53 L381.72,312.52 L382.16,312.51 L382.50,312.50" fill="none" stroke="#e424e4" stroke-width="1.25" stroke-linejoin="round"/>
<path d="M228.89,454.50 L228.90,454.43 L229.34,452.39 L229.77,450.49 L230.21,448.71 L230.65,447.02 L231.09,445.42 L231.52,443.91 L231.96,442.45 L232.40,441.06 L232.83,439.73 L233.27,438.44 L233.71,437.20 L234.15,436.00 L234.58,434.83 L235.02,433.70 L235.46,432.61 L235.89,431.54 L236.33,430.49 L236.77,429.47 L237.21,428.48 L237.64,427.51 L238.08,426.55 L238.52,425.62 L238.96,424.70 L239.39,423.80 L239.83,422.91 L240.27,422.04 L240.70,421.19 L241.14,420.35 L241.58,419.51 L242.02,418.70 L242.45,417.89 L242.89,417.09 L243.33,416.30 L243.76,415.53 L244.20,414.76 L244.64,414.00 L245.08,413.25 L245.51,412.50 L245.95,411.77 L246.39,411.04 L246.82,410.32 L247.26,409.60 L247.70,408.89 L248.14,408.19 L248.57,407.50 L249.01,406.81 L249.45,406.12 L249.88,405.44 L250.32,404.77 L250.76,404.10 L251.20,403.43 L251.63,402.77 L252.07,402.11 L252.51,401.46 L252.94,400.81 L253.38,400.17 L253.82,399.53 L254.26,398.89 L254.69,398.26 L255.13,397.63 L255.57,397.01 L256.01,396.38 L256.44,395.76 L256.88,395.15 L257.32,394.53 L257.75,393.92 L258.19,393.32 L258.63,392.71 L259.07,392.11 L259.50,391.51 L259.94,390.91 L260.38,390.32 L260.81,389.73 L261.25,389.14 L261.69,388.55 L262.13,387.97 L262.56,387.39 L263.00,386.80 L263.44,386.23 L263.87,385.65 L264.31,385.08 L264.75,384.51 L265.19,383.94 L265.62,383.37 L266.06,382.80 L266.50,382.24 L266.93,381.68 L267.37,381.12 L267.81,380.56 L268.25,380.00 L268.68,379.45 L269.12,378.90 L269.56,378.35 L269.99,377.80 L270.43,377.25 L270.87,376.71 L271.31,376.16 L271.74,375.62 L272.18,375.08 L272.62,374.54 L273.06,374.01 L273.49,373.47 L273.93,372.94 L274.37,372.41 L274.80,371.88 L275.24,371.35 L275.68,370.82 L276.12,370.30 L276.55,369.77 L276.99,369.25 L277.43,368.73 L277.86,368.21 L278.30,367.70 L278.74,367.18 L279.18,366.67 L279.61,366.16 L280.05,365.65 L280.49,365.14 L280.92,364.64 L281.36,364.13 L281.80,363.63 L282.24,363.13 L282.67,362.63 L283.11,362.13 L283.55,361.64 L283.98,361.14 L284.42,360.65 L284.86,360.16 L285.30,359.68 L285.73,359.19 L286.17,358.71 L286.61,358.23 L287.04,357.75 L287.48,357.27 L287.92,356.79 L288.36,356.32 L288.79,355.85 L289.23,355.38 L289.67,354.91 L290.11,354.44 L290.54,353.98 L290.98,353.52 L291.42,353.06 L291.85,352.61 L292.29,352.15 L292.73,351.70 L293.17,351.25 L293.60,350.80 L294.04,350.36 L294.48,349.92 L294.91,349.48 L295.35,349.04 L295.79,348.60 L296.23,348.17 L296.66,347.74 L297.10,347.31 L297.54,346.89 L297.97,346.47 L298.41,346.05 L298.85,345.63 L299.29,345.22 L299.72,344.81 L300.16,344.40 L300.60,343.99 L301.03,343.59 L301.47,343.19 L301.91,342.79 L302.35,342.40 L302.78,342.01 L303.22,341.62 L303.66,341.23 L304.09,340.85 L304.53,340.47 L304.97,340.09 L305.41,339.72 L305.84,339.35 L306.28,338.98 L306.72,338.62 L307.16,338.26 L307.59,337.90 L308.03,337.55 L308.47,337.20 L308.90,336.85 L309.34,336.51 L309.78,336.17 L310.22,335.83 L310.65,335.50 L311.09,335.16 L311.53,334.84 L311.96,334.51 L312.40,334.19 L312.84,333.88 L313.28,333.56 L313.71,333.25 L314.15,332.94 L314.59,332.64 L315.02,332.34 L315.46,332.04 L315.90,331.75 L316.34,331.46 L316.77,331.18 L317.21,330.89 L317.65,330.62 L318.08,330.34 L318.52,330.07 L318.96,329.80 L319.40,329.53 L319.83,329.27 L320.27,329.02 L320.71,328.76 L321.14,328.51 L321.58,328.26 L322.02,328.02 L322.46,327.78 L322.89,327.54 L323.33,327.31 L323.77,327.08 L324.21,326.85 L324.64,326.63 L325.08,326.40 L325.52,326.19 L325.95,325.97 L326.39,325.76 L326.83,325.56 L327.27,325.35 L327.70,325.15 L328.14,324.96 L328.58,324.76 L329.01,324.57 L329.45,324.38 L329.89,324.20 L330.33,324.02 L330.76,323.84 L331.20,323.66 L331.64,323.49 L332.07,323.32 L332.51,323.15 L332.95,322.99 L333.39,322.83 L333.82,322.67 L334.26,322.52 L334.70,322.37 L335.13,322.22 L335.57,322.07 L336.01,321.93 L336.45,321.78 L336.88,321.65 L337.32,321.51 L337.76,321.38 L338.19,321.25 L338.63,321.12 L339.07,320.99 L339.51,320.87 L339.94,320.75 L340.38,320.63 L340.82,320.51 L341.26,320.40 L341.69,320.29 L342.13,320.18 L342.57,320.07 L343.00,319.97 L343.44,319.86 L343.88,319.76 L344.32,319.66 L344.75,319.57 L345.19,319.47 L345.63,319.38 L346.06,319.29 L346.50,319.20 L346.94,319.11 L347.38,319.03 L347.81,318.94 L348.25,318.86 L348.69,318.78 L349.12,318.70 L349.56,318.63 L350.00,318.55 L350.44,318.48 L350.87,318.41 L351.31,318.34 L351.75,318.27 L352.18,318.20 L352.62,318.14 L353.06,318.07 L353.50,318.01 L353.93,317.95 L354.37,317.89 L354.81,317.83 L355.24,317.78 L355.68,317.72 L356.12,317.66 L356.56,317.61 L356.99,317.56 L357.43,317.51 L357.87,317.46 L358.31,317.41 L358.74,317.36 L359.18,317.32 L359.62,317.27 L360.05,317.23 L360.49,317.18 L360.93,317.14 L361.37,317.10 L361.80,317.06 L362.24,317.02 L362.68,316.98 L363.11,316.94 L363.55,316.91 L363.99,316.87 L364.43,316.84 L364.86,316.80 L365.30,316.77 L365.74,316.74 L366.17,316.70 L366.61,316.67 L367.05,316.64 L367.49,316.61 L367.92,316.58 L368.36,316.56 L368.80,316.53 L369.23,316.50 L369.67,316.47 L370.11,316.45 L370.55,316.42 L370.98,316.40 L371.42,316.38 L371.86,316.35 L372.29,316.33 L372.73,316.31 L373.17,316.29 L373.61,316.26 L374.04,316.24 L374.48,316.22 L374.92,316.20 L375.36,316.19 L375.79,316.17 L376.23,316.15 L376.67,316.13 L377.10,316.11 L377.54,316.10 L377.98,316.08 L378.42,316.06 L378.85,316.05 L379.29,316.03 L379.73,316.02 L380.16,316.00 L380.60,315.99 L381.04,315.97 L381.48,315.96 L381.91,315.95 L382.35,315.94 L382.50,315.93" fill="none" stroke="#e424e4" stroke-width="1.25" stroke-linejoin="round"/>
<path d="M232.59,454.50 L232.60,454.45 L233.04,451.98 L233.47,449.72 L233.91,447.63 L234.35,445.68 L234.79,443.86 L235.22,442.14 L235.66,440.52 L236.10,438.97 L236.53,437.50 L236.97,436.09 L237.41,434.74 L237.85,433.44 L238.28,432.18 L238.72,430.97 L239.16,429.79 L239.59,428.65 L240.03,427.54 L240.47,426.46 L240.91,425.41 L241.34,424.39 L241.78,423.39 L242.22,422.41 L242.66,421.45 L243.09,420.51 L243.53,419.59 L243.97,418.68 L244.40,417.79 L244.84,416.92 L245.28,416.06 L245.72,415.21 L246.15,414.38 L246.59,413.56 L247.03,412.75 L247.46,411.95 L247.90,411.16 L248.34,410.38 L248.78,409.61 L249.21,408.85 L249.65,408.10 L250.09,407.35 L250.52,406.62 L250.96,405.89 L251.40,405.17 L251.84,404.45 L252.27,403.74 L252.71,403.04 L253.15,402.34 L253.58,401.65 L254.02,400.97 L254.46,400.29 L254.90,399.61 L255.33,398.95 L255.77,398.28 L256.21,397.62 L256.64,396.97 L257.08,396.32 L257.52,395.67 L257.96,395.03 L258.39,394.39 L258.83,393.75 L259.27,393.12 L259.71,392.50 L260.14,391.87 L260.58,391.25 L261.02,390.64 L261.45,390.02 L261.89,389.41 L262.33,388.80 L262.77,388.20 L263.20,387.60 L263.64,387.00 L264.08,386.40 L264.51,385.81 L264.95,385.22 L265.39,384.63 L265.83,384.05 L266.26,383.46 L266.70,382.88 L267.14,382.30 L267.57,381.73 L268.01,381.16 L268.45,380.58 L268.89,380.02 L269.32,379.45 L269.76,378.88 L270.20,378.32 L270.63,377.76 L271.07,377.20 L271.51,376.65 L271.95,376.10 L272.38,375.54 L272.82,374.99 L273.26,374.45 L273.69,373.90 L274.13,373.36 L274.57,372.82 L275.01,372.28 L275.44,371.74 L275.88,371.20 L276.32,370.67 L276.76,370.14 L277.19,369.61 L277.63,369.08 L278.07,368.55 L278.50,368.03 L278.94,367.51 L279.38,366.99 L279.82,366.47 L280.25,365.95 L280.69,365.44 L281.13,364.92 L281.56,364.41 L282.00,363.90 L282.44,363.40 L282.88,362.89 L283.31,362.39 L283.75,361.89 L284.19,361.39 L284.62,360.89 L285.06,360.40 L285.50,359.91 L285.94,359.42 L286.37,358.93 L286.81,358.44 L287.25,357.96 L287.68,357.47 L288.12,356.99 L288.56,356.52 L289.00,356.04 L289.43,355.57 L289.87,355.10 L290.31,354.63 L290.74,354.16 L291.18,353.70 L291.62,353.23 L292.06,352.77 L292.49,352.32 L292.93,351.86 L293.37,351.41 L293.81,350.96 L294.24,350.51 L294.68,350.07 L295.12,349.62 L295.55,349.18 L295.99,348.75 L296.43,348.31 L296.87,347.88 L297.30,347.45 L297.74,347.02 L298.18,346.60 L298.61,346.18 L299.05,345.76 L299.49,345.34 L299.93,344.93 L300.36,344.52 L300.80,344.11 L301.24,343.71 L301.67,343.31 L302.11,342.91 L302.55,342.51 L302.99,342.12 L303.42,341.73 L303.86,341.35 L304.30,340.96 L304.73,340.58 L305.17,340.20 L305.61,339.83 L306.05,339.46 L306.48,339.09 L306.92,338.73 L307.36,338.37 L307.79,338.01 L308.23,337.66 L308.67,337.31 L309.11,336.96 L309.54,336.61 L309.98,336.27 L310.42,335.94 L310.86,335.60 L311.29,335.27 L311.73,334.94 L312.17,334.62 L312.60,334.30 L313.04,333.98 L313.48,333.67 L313.92,333.36 L314.35,333.05 L314.79,332.75 L315.23,332.45 L315.66,332.16 L316.10,331.86 L316.54,331.58 L316.98,331.29 L317.41,331.01 L317.85,330.73 L318.29,330.46 L318.72,330.19 L319.16,329.92 L319.60,329.66 L320.04,329.40 L320.47,329.14 L320.91,328.89 L321.35,328.64 L321.78,328.39 L322.22,328.15 L322.66,327.91 L323.10,327.67 L323.53,327.44 L323.97,327.21 L324.41,326.99 L324.84,326.76 L325.28,326.55 L325.72,326.33 L326.16,326.12 L326.59,325.91 L327.03,325.71 L327.47,325.50 L327.91,325.31 L328.34,325.11 L328.78,324.92 L329.22,324.73 L329.65,324.54 L330.09,324.36 L330.53,324.18 L330.97,324.00 L331.40,323.83 L331.84,323.66 L332.28,323.49 L332.71,323.33 L333.15,323.17 L333.59,323.01 L334.03,322.85 L334.46,322.70 L334.90,322.55 L335.34,322.40 L335.77,322.26 L336.21,322.12 L336.65,321.98 L337.09,321.84 L337.52,321.71 L337.96,321.58 L338.40,321.45 L338.83,321.32 L339.27,321.20 L339.71,321.08 L340.15,320.96 L340.58,320.84 L341.02,320.73 L341.46,320.62 L341.89,320.51 L342.33,320.40 L342.77,320.29 L343.21,320.19 L343.64,320.09 L344.08,319.99 L344.52,319.89 L344.96,319.80 L345.39,319.71 L345.83,319.62 L346.27,319.53 L346.70,319.44 L347.14,319.36 L347.58,319.27 L348.02,319.19 L348.45,319.11 L348.89,319.03 L349.33,318.96 L349.76,318.88 L350.20,318.81 L350.64,318.74 L351.08,318.67 L351.51,318.60 L351.95,318.53 L352.39,318.47 L352.82,318.40 L353.26,318.34 L353.70,318.28 L354.14,318.22 L354.57,318.16 L355.01,318.11 L355.45,318.05 L355.88,318.00 L356.32,317.94 L356.76,317.89 L357.20,317.84 L357.63,317.79 L358.07,317.74 L358.51,317.70 L358.94,317.65 L359.38,317.61 L359.82,317.56 L360.26,317.52 L360.69,317.48 L361.13,317.44 L361.57,317.40 L362.01,317.36 L362.44,317.32 L362.88,317.28 L363.32,317.24 L363.75,317.21 L364.19,317.17 L364.63,317.14 L365.07,317.11 L365.50,317.07 L365.94,317.04 L366.38,317.01 L366.81,316.98 L367.25,316.95 L367.69,316.92 L368.13,316.90 L368.56,316.87 L369.00,316.84 L369.44,316.82 L369.87,316.79 L370.31,316.77 L370.75,316.74 L371.19,316.72 L371.62,316.70 L372.06,316.67 L372.50,316.65 L372.93,316.63 L373.37,316.61 L373.81,316.59 L374.25,316.57 L374.68,316.55 L375.12,316.53 L375.56,316.51 L375.99,316.50 L376.43,316.48 L376.87,316.46 L377.31,316.44 L377.74,316.43 L378.18,316.41 L378.62,316.40 L379.06,316.38 L379.49,316.37 L379.93,316.35 L380.37,316.34 L380.80,316.32 L381.24,316.31 L381.68,316.30 L382.12,316.29 L382.50,316.27" fill="none" stroke="#e424e4" stroke-width="1.25" stroke-linejoin="round"/>
<path d="M268.30,454.50 L268.74,453.07 L269.17,451.67 L269.61,450.31 L270.05,448.99 L270.49,447.71 L270.92,446.46 L271.36,445.24 L271.80,444.05 L272.23,442.89 L272.67,441.75 L273.11,440.63 L273.55,439.54 L273.98,438.46 L274.42,437.40 L274.86,436.36 L275.29,435.33 L275.73,434.32 L276.17,433.33 L276.61,432.34 L277.04,431.37 L277.48,430.41 L277.92,429.47 L278.36,428.53 L278.79,427.60 L279.23,426.69 L279.67,425.78 L280.10,424.88 L280.54,423.99 L280.98,423.11 L281.42,422.23 L281.85,421.37 L282.29,420.50 L282.73,419.65 L283.16,418.80 L283.60,417.96 L284.04,417.13 L284.48,416.30 L284.91,415.48 L285.35,414.66 L285.79,413.85 L286.22,413.04 L286.66,412.23 L287.10,411.44 L287.54,410.64 L287.97,409.85 L288.41,409.07 L288.85,408.29 L289.28,407.51 L289.72,406.74 L290.16,405.97 L290.60,405.21 L291.03,404.45 L291.47,403.69 L291.91,402.94 L292.34,402.19 L292.78,401.44 L293.22,400.70 L293.66,399.96 L294.09,399.22 L294.53,398.49 L294.97,397.76 L295.41,397.03 L295.84,396.31 L296.28,395.59 L296.72,394.87 L297.15,394.16 L297.59,393.45 L298.03,392.74 L298.47,392.04 L298.90,391.34 L299.34,390.64 L299.78,389.94 L300.21,389.25 L300.65,388.56 L301.09,387.88 L301.53,387.19 L301.96,386.51 L302.40,385.84 L302.84,385.16 L303.27,384.49 L303.71,383.82 L304.15,383.16 L304.59,382.50 L305.02,381.84 L305.46,381.18 L305.90,380.53 L306.33,379.88 L306.77,379.23 L307.21,378.59 L307.65,377.95 L308.08,377.31 L308.52,376.68 L308.96,376.05 L309.39,375.42 L309.83,374.80 L310.27,374.18 L310.71,373.56 L311.14,372.95 L311.58,372.34 L312.02,371.73 L312.46,371.13 L312.89,370.53 L313.33,369.93 L313.77,369.34 L314.20,368.75 L314.64,368.16 L315.08,367.58 L315.52,367.00 L315.95,366.43 L316.39,365.86 L316.83,365.29 L317.26,364.73 L317.70,364.17 L318.14,363.62 L318.58,363.06 L319.01,362.52 L319.45,361.97 L319.89,361.43 L320.32,360.90 L320.76,360.37 L321.20,359.84 L321.64,359.32 L322.07,358.80 L322.51,358.28 L322.95,357.77 L323.38,357.27 L323.82,356.76 L324.26,356.27 L324.70,355.77 L325.13,355.28 L325.57,354.80 L326.01,354.32 L326.44,353.84 L326.88,353.37 L327.32,352.91 L327.76,352.44 L328.19,351.98 L328.63,351.53 L329.07,351.08 L329.51,350.64 L329.94,350.20 L330.38,349.76 L330.82,349.33 L331.25,348.91 L331.69,348.49 L332.13,348.07 L332.57,347.66 L333.00,347.25 L333.44,346.85 L333.88,346.45 L334.31,346.06 L334.75,345.67 L335.19,345.28 L335.63,344.90 L336.06,344.53 L336.50,344.16 L336.94,343.79 L337.37,343.43 L337.81,343.08 L338.25,342.72 L338.69,342.38 L339.12,342.03 L339.56,341.70 L340.00,341.36 L340.43,341.03 L340.87,340.71 L341.31,340.39 L341.75,340.08 L342.18,339.77 L342.62,339.46 L343.06,339.16 L343.49,338.86 L343.93,338.57 L344.37,338.28 L344.81,337.99 L345.24,337.71 L345.68,337.44 L346.12,337.17 L346.56,336.90 L346.99,336.64 L347.43,336.38 L347.87,336.13 L348.30,335.88 L348.74,335.63 L349.18,335.39 L349.62,335.15 L350.05,334.91 L350.49,334.68 L350.93,334.46 L351.36,334.23 L351.80,334.02 L352.24,333.80 L352.68,333.59 L353.11,333.38 L353.55,333.18 L353.99,332.98 L354.42,332.78 L354.86,332.59 L355.30,332.40 L355.74,332.21 L356.17,332.03 L356.61,331.85 L357.05,331.67 L357.48,331.50 L357.92,331.33 L358.36,331.16 L358.80,331.00 L359.23,330.84 L359.67,330.68 L360.11,330.53 L360.54,330.38 L360.98,330.23 L361.42,330.08 L361.86,329.94 L362.29,329.80 L362.73,329.66 L363.17,329.53 L363.61,329.40 L364.04,329.27 L364.48,329.14 L364.92,329.02 L365.35,328.90 L365.79,328.78 L366.23,328.66 L366.67,328.55 L367.10,328.43 L367.54,328.32 L367.98,328.22 L368.41,328.11 L368.85,328.01 L369.29,327.91 L369.73,327.81 L370.16,327.71 L370.60,327.62 L371.04,327.53 L371.47,327.44 L371.91,327.35 L372.35,327.26 L372.79,327.18 L373.22,327.09 L373.66,327.01 L374.10,326.93 L374.53,326.85 L374.97,326.78 L375.41,326.70 L375.85,326.63 L376.28,326.56 L376.72,326.49 L377.16,326.42 L377.59,326.35 L378.03,326.29 L378.47,326.23 L378.91,326.16 L379.34,326.10 L379.78,326.04 L380.22,325.98 L380.66,325.93 L381.09,325.87 L381.53,325.82 L381.97,325.76 L382.40,325.71 L382.50,325.70" fill="none" stroke="#e424e4" stroke-width="1.25" stroke-linejoin="round"/>
<path d="M271.31,454.50 L271.74,453.02 L272.17,451.56 L272.61,450.15 L273.05,448.79 L273.49,447.47 L273.92,446.18 L274.36,444.92 L274.80,443.70 L275.23,442.50 L275.67,441.33 L276.11,440.18 L276.55,439.05 L276.98,437.95 L277.42,436.86 L277.86,435.79 L278.29,434.74 L278.73,433.70 L279.17,432.68 L279.61,431.68 L280.04,430.68 L280.48,429.70 L280.92,428.73 L281.36,427.77 L281.79,426.83 L282.23,425.89 L282.67,424.96 L283.10,424.04 L283.54,423.13 L283.98,422.23 L284.42,421.34 L284.85,420.45 L285.29,419.57 L285.73,418.70 L286.16,417.83 L286.60,416.97 L287.04,416.12 L287.48,415.27 L287.91,414.43 L288.35,413.60 L288.79,412.77 L289.22,411.94 L289.66,411.12 L290.10,410.31 L290.54,409.50 L290.97,408.69 L291.41,407.89 L291.85,407.09 L292.28,406.30 L292.72,405.51 L293.16,404.72 L293.60,403.94 L294.03,403.17 L294.47,402.39 L294.91,401.62 L295.34,400.86 L295.78,400.10 L296.22,399.34 L296.66,398.58 L297.09,397.83 L297.53,397.08 L297.97,396.33 L298.41,395.59 L298.84,394.85 L299.28,394.12 L299.72,393.39 L300.15,392.66 L300.59,391.93 L301.03,391.21 L301.47,390.49 L301.90,389.77 L302.34,389.06 L302.78,388.35 L303.21,387.64 L303.65,386.94 L304.09,386.24 L304.53,385.54 L304.96,384.85 L305.40,384.16 L305.84,383.47 L306.27,382.78 L306.71,382.10 L307.15,381.42 L307.59,380.75 L308.02,380.08 L308.46,379.41 L308.90,378.74 L309.33,378.08 L309.77,377.42 L310.21,376.77 L310.65,376.12 L311.08,375.47 L311.52,374.82 L311.96,374.18 L312.39,373.54 L312.83,372.91 L313.27,372.28 L313.71,371.65 L314.14,371.03 L314.58,370.41 L315.02,369.79 L315.46,369.18 L315.89,368.57 L316.33,367.97 L316.77,367.37 L317.20,366.77 L317.64,366.18 L318.08,365.59 L318.52,365.00 L318.95,364.42 L319.39,363.85 L319.83,363.27 L320.26,362.71 L320.70,362.14 L321.14,361.58 L321.58,361.03 L322.01,360.48 L322.45,359.93 L322.89,359.39 L323.32,358.85 L323.76,358.32 L324.20,357.79 L324.64,357.27 L325.07,356.75 L325.51,356.23 L325.95,355.72 L326.38,355.22 L326.82,354.72 L327.26,354.22 L327.70,353.73 L328.13,353.24 L328.57,352.76 L329.01,352.29 L329.44,351.81 L329.88,351.35 L330.32,350.89 L330.76,350.43 L331.19,349.98 L331.63,349.53 L332.07,349.09 L332.51,348.65 L332.94,348.22 L333.38,347.80 L333.82,347.37 L334.25,346.96 L334.69,346.55 L335.13,346.14 L335.57,345.74 L336.00,345.34 L336.44,344.95 L336.88,344.57 L337.31,344.19 L337.75,343.81 L338.19,343.44 L338.63,343.08 L339.06,342.72 L339.50,342.36 L339.94,342.01 L340.37,341.67 L340.81,341.33 L341.25,340.99 L341.69,340.66 L342.12,340.34 L342.56,340.02 L343.00,339.70 L343.43,339.39 L343.87,339.09 L344.31,338.79 L344.75,338.49 L345.18,338.20 L345.62,337.92 L346.06,337.63 L346.49,337.36 L346.93,337.09 L347.37,336.82 L347.81,336.56 L348.24,336.30 L348.68,336.04 L349.12,335.79 L349.56,335.55 L349.99,335.31 L350.43,335.07 L350.87,334.84 L351.30,334.61 L351.74,334.39 L352.18,334.17 L352.62,333.96 L353.05,333.75 L353.49,333.54 L353.93,333.34 L354.36,333.14 L354.80,332.94 L355.24,332.75 L355.68,332.56 L356.11,332.38 L356.55,332.20 L356.99,332.02 L357.42,331.85 L357.86,331.68 L358.30,331.51 L358.74,331.35 L359.17,331.19 L359.61,331.03 L360.05,330.88 L360.48,330.73 L360.92,330.58 L361.36,330.44 L361.80,330.30 L362.23,330.16 L362.67,330.03 L363.11,329.90 L363.54,329.77 L363.98,329.64 L364.42,329.52 L364.86,329.40 L365.29,329.28 L365.73,329.16 L366.17,329.05 L366.61,328.94 L367.04,328.83 L367.48,328.73 L367.92,328.62 L368.35,328.52 L368.79,328.43 L369.23,328.33 L369.67,328.23 L370.10,328.14 L370.54,328.05 L370.98,327.97 L371.41,327.88 L371.85,327.80 L372.29,327.71 L372.73,327.63 L373.16,327.56 L373.60,327.48 L374.04,327.41 L374.47,327.33 L374.91,327.26 L375.35,327.19 L375.79,327.13 L376.22,327.06 L376.66,326.99 L377.10,326.93 L377.53,326.87 L377.97,326.81 L378.41,326.75 L378.85,326.69 L379.28,326.64 L379.72,326.58 L380.16,326.53 L380.59,326.48 L381.03,326.43 L381.47,326.38 L381.91,326.33 L382.34,326.28 L382.50,326.27" fill="none" stroke="#e424e4" stroke-width="1.25" stroke-linejoin="round"/>
<rect x="40" y="382.8" width="342.5" height="2" fill="#ea00ea"/>
<text x="42.3" y="382.4" class="thr" fill="#c8001a" stroke="#c8001a">30,325.536063</text>
<line x1="438.5" y1="265" x2="438.5" y2="455" stroke="#f0f0f0"/>
<line x1="456.5" y1="265" x2="456.5" y2="455" stroke="#f0f0f0"/>
<line x1="473.5" y1="265" x2="473.5" y2="455" stroke="#f0f0f0"/>
<line x1="491.5" y1="265" x2="491.5" y2="455" stroke="#f0f0f0"/>
<line x1="509.5" y1="265" x2="509.5" y2="455" stroke="#f0f0f0"/>
<line x1="526.5" y1="265" x2="526.5" y2="455" stroke="#f0f0f0"/>
<line x1="544.5" y1="265" x2="544.5" y2="455" stroke="#f0f0f0"/>
<line x1="562.5" y1="265" x2="562.5" y2="455" stroke="#f0f0f0"/>
<line x1="579.5" y1="265" x2="579.5" y2="455" stroke="#f0f0f0"/>
<line x1="597.5" y1="265" x2="597.5" y2="455" stroke="#f0f0f0"/>
<line x1="615.5" y1="265" x2="615.5" y2="455" stroke="#f0f0f0"/>
<line x1="632.5" y1="265" x2="632.5" y2="455" stroke="#f0f0f0"/>
<line x1="650.5" y1="265" x2="650.5" y2="455" stroke="#f0f0f0"/>
<line x1="668.5" y1="265" x2="668.5" y2="455" stroke="#f0f0f0"/>
<line x1="686.5" y1="265" x2="686.5" y2="455" stroke="#f0f0f0"/>
<line x1="703.5" y1="265" x2="703.5" y2="455" stroke="#f0f0f0"/>
<line x1="721.5" y1="265" x2="721.5" y2="455" stroke="#f0f0f0"/>
<line x1="739.5" y1="265" x2="739.5" y2="455" stroke="#f0f0f0"/>
<line x1="756.5" y1="265" x2="756.5" y2="455" stroke="#f0f0f0"/>
<line x1="430" y1="441.5" x2="774" y2="441.5" stroke="#f8f8f8"/>
<line x1="430" y1="441.5" x2="774" y2="441.5" stroke="#e6e6e6" stroke-dasharray="1 1"/>
<line x1="430" y1="432.5" x2="774" y2="432.5" stroke="#f8f8f8"/>
<line x1="430" y1="432.5" x2="774" y2="432.5" stroke="#e6e6e6" stroke-dasharray="1 1"/>
<line x1="430" y1="426.5" x2="774" y2="426.5" stroke="#f8f8f8"/>
<line x1="430" y1="426.5" x2="774" y2="426.5" stroke="#e6e6e6" stroke-dasharray="1 1"/>
<line x1="430" y1="422.5" x2="774" y2="422.5" stroke="#f8f8f8"/>
<line x1="430" y1="422.5" x2="774" y2="422.5" stroke="#e6e6e6" stroke-dasharray="1 1"/>
<line x1="430" y1="418.5" x2="774" y2="418.5" stroke="#f8f8f8"/>
<line x1="430" y1="418.5" x2="774" y2="418.5" stroke="#e6e6e6" stroke-dasharray="1 1"/>
<line x1="430" y1="415.5" x2="774" y2="415.5" stroke="#f8f8f8"/>
<line x1="430" y1="415.5" x2="774" y2="415.5" stroke="#e6e6e6" stroke-dasharray="1 1"/>
<line x1="430" y1="412.5" x2="774" y2="412.5" stroke="#f8f8f8"/>
<line x1="430" y1="412.5" x2="774" y2="412.5" stroke="#e6e6e6" stroke-dasharray="1 1"/>
<line x1="430" y1="409.5" x2="774" y2="409.5" stroke="#f8f8f8"/>
<line x1="430" y1="409.5" x2="774" y2="409.5" stroke="#e6e6e6" stroke-dasharray="1 1"/>
<line x1="430" y1="407.5" x2="774" y2="407.5" stroke="#f8f8f8"/>
<line x1="430" y1="407.5" x2="774" y2="407.5" stroke="#e6e6e6" stroke-dasharray="1 1"/>
<line x1="430" y1="393.5" x2="774" y2="393.5" stroke="#f8f8f8"/>
<line x1="430" y1="393.5" x2="774" y2="393.5" stroke="#e6e6e6" stroke-dasharray="1 1"/>
<line x1="430" y1="384.5" x2="774" y2="384.5" stroke="#f8f8f8"/>
<line x1="430" y1="384.5" x2="774" y2="384.5" stroke="#e6e6e6" stroke-dasharray="1 1"/>
<line x1="430" y1="379.5" x2="774" y2="379.5" stroke="#f8f8f8"/>
<line x1="430" y1="379.5" x2="774" y2="379.5" stroke="#e6e6e6" stroke-dasharray="1 1"/>
<line x1="430" y1="374.5" x2="774" y2="374.5" stroke="#f8f8f8"/>
<line x1="430" y1="374.5" x2="774" y2="374.5" stroke="#e6e6e6" stroke-dasharray="1 1"/>
<line x1="430" y1="370.5" x2="774" y2="370.5" stroke="#f8f8f8"/>
<line x1="430" y1="370.5" x2="774" y2="370.5" stroke="#e6e6e6" stroke-dasharray="1 1"/>
<line x1="430" y1="367.5" x2="774" y2="367.5" stroke="#f8f8f8"/>
<line x1="430" y1="367.5" x2="774" y2="367.5" stroke="#e6e6e6" stroke-dasharray="1 1"/>
<line x1="430" y1="364.5" x2="774" y2="364.5" stroke="#f8f8f8"/>
<line x1="430" y1="364.5" x2="774" y2="364.5" stroke="#e6e6e6" stroke-dasharray="1 1"/>
<line x1="430" y1="362.5" x2="774" y2="362.5" stroke="#f8f8f8"/>
<line x1="430" y1="362.5" x2="774" y2="362.5" stroke="#e6e6e6" stroke-dasharray="1 1"/>
<line x1="430" y1="360.5" x2="774" y2="360.5" stroke="#f8f8f8"/>
<line x1="430" y1="360.5" x2="774" y2="360.5" stroke="#e6e6e6" stroke-dasharray="1 1"/>
<line x1="430" y1="345.5" x2="774" y2="345.5" stroke="#f8f8f8"/>
<line x1="430" y1="345.5" x2="774" y2="345.5" stroke="#e6e6e6" stroke-dasharray="1 1"/>
<line x1="430" y1="337.5" x2="774" y2="337.5" stroke="#f8f8f8"/>
<line x1="430" y1="337.5" x2="774" y2="337.5" stroke="#e6e6e6" stroke-dasharray="1 1"/>
<line x1="430" y1="331.5" x2="774" y2="331.5" stroke="#f8f8f8"/>
<line x1="430" y1="331.5" x2="774" y2="331.5" stroke="#e6e6e6" stroke-dasharray="1 1"/>
<line x1="430" y1="326.5" x2="774" y2="326.5" stroke="#f8f8f8"/>
<line x1="430" y1="326.5" x2="774" y2="326.5" stroke="#e6e6e6" stroke-dasharray="1 1"/>
<line x1="430" y1="322.5" x2="774" y2="322.5" stroke="#f8f8f8"/>
<line x1="430" y1="322.5" x2="774" y2="322.5" stroke="#e6e6e6" stroke-dasharray="1 1"/>
<line x1="430" y1="319.5" x2="774" y2="319.5" stroke="#f8f8f8"/>
<line x1="430" y1="319.5" x2="774" y2="319.5" stroke="#e6e6e6" stroke-dasharray="1 1"/>
<line x1="430" y1="316.5" x2="774" y2="316.5" stroke="#f8f8f8"/>
<line x1="430" y1="316.5" x2="774" y2="316.5" stroke="#e6e6e6" stroke-dasharray="1 1"/>
<line x1="430" y1="314.5" x2="774" y2="314.5" stroke="#f8f8f8"/>
<line x1="430" y1="314.5" x2="774" y2="314.5" stroke="#e6e6e6" stroke-dasharray="1 1"/>
<line x1="430" y1="312.5" x2="774" y2="312.5" stroke="#f8f8f8"/>
<line x1="430" y1="312.5" x2="774" y2="312.5" stroke="#e6e6e6" stroke-dasharray="1 1"/>
<line x1="430" y1="297.5" x2="774" y2="297.5" stroke="#f8f8f8"/>
<line x1="430" y1="297.5" x2="774" y2="297.5" stroke="#e6e6e6" stroke-dasharray="1 1"/>
<line x1="430" y1="289.5" x2="774" y2="289.5" stroke="#f8f8f8"/>
<line x1="430" y1="289.5" x2="774" y2="289.5" stroke="#e6e6e6" stroke-dasharray="1 1"/>
<line x1="430" y1="283.5" x2="774" y2="283.5" stroke="#f8f8f8"/>
<line x1="430" y1="283.5" x2="774" y2="283.5" stroke="#e6e6e6" stroke-dasharray="1 1"/>
<line x1="430" y1="278.5" x2="774" y2="278.5" stroke="#f8f8f8"/>
<line x1="430" y1="278.5" x2="774" y2="278.5" stroke="#e6e6e6" stroke-dasharray="1 1"/>
<line x1="430" y1="275.5" x2="774" y2="275.5" stroke="#f8f8f8"/>
<line x1="430" y1="275.5" x2="774" y2="275.5" stroke="#e6e6e6" stroke-dasharray="1 1"/>
<line x1="430" y1="271.5" x2="774" y2="271.5" stroke="#f8f8f8"/>
<line x1="430" y1="271.5" x2="774" y2="271.5" stroke="#e6e6e6" stroke-dasharray="1 1"/>
<line x1="430" y1="269.5" x2="774" y2="269.5" stroke="#f8f8f8"/>
<line x1="430" y1="269.5" x2="774" y2="269.5" stroke="#e6e6e6" stroke-dasharray="1 1"/>
<line x1="430" y1="266.5" x2="774" y2="266.5" stroke="#f8f8f8"/>
<line x1="430" y1="266.5" x2="774" y2="266.5" stroke="#e6e6e6" stroke-dasharray="1 1"/>
<line x1="429.5" y1="264.5" x2="774.5" y2="264.5" stroke="#cdcdcd"/>
<line x1="774.5" y1="264.5" x2="774.5" y2="455.5" stroke="#cdcdcd"/>
<line x1="428.5" y1="455.5" x2="774.5" y2="455.5" stroke="#a4a4a4" stroke-width="1.1"/>
<line x1="429.5" y1="264.5" x2="429.5" y2="455.5" stroke="#a0a0a0"/>
<line x1="427.5" y1="455.5" x2="429.5" y2="455.5" stroke="#999"/>
<text transform="translate(426.10,457.02) scale(1,0.87)" text-anchor="end" class="tk" style="stroke-width:0.32px;">1000</text>
<line x1="427.5" y1="407.8" x2="429.5" y2="407.8" stroke="#999"/>
<text transform="translate(426.10,409.27) scale(1,0.87)" text-anchor="end" class="tk" style="stroke-width:0.32px;">10000</text>
<line x1="427.5" y1="360.0" x2="429.5" y2="360.0" stroke="#999"/>
<text transform="translate(426.10,361.52) scale(1,0.87)" text-anchor="end" class="tk" style="stroke-width:0.32px;">100000</text>
<line x1="427.5" y1="312.2" x2="429.5" y2="312.2" stroke="#999"/>
<text transform="translate(426.10,313.77) scale(1,0.87)" text-anchor="end" class="tk" style="stroke-width:0.32px;">1000000</text>
<line x1="427.5" y1="264.5" x2="429.5" y2="264.5" stroke="#999"/>
<text transform="translate(426.10,266.02) scale(1,0.87)" text-anchor="end" class="tk" style="stroke-width:0.32px;">10000000</text>
<line x1="438.3" y1="455.5" x2="438.3" y2="457.0" stroke="#999"/>
<text transform="translate(438.35,462.50) scale(1,0.87)" text-anchor="middle" class="tk">2</text>
<line x1="456.0" y1="455.5" x2="456.0" y2="457.0" stroke="#999"/>
<text transform="translate(456.04,462.50) scale(1,0.87)" text-anchor="middle" class="tk">4</text>
<line x1="473.7" y1="455.5" x2="473.7" y2="457.0" stroke="#999"/>
<text transform="translate(473.73,462.50) scale(1,0.87)" text-anchor="middle" class="tk">6</text>
<line x1="491.4" y1="455.5" x2="491.4" y2="457.0" stroke="#999"/>
<text transform="translate(491.42,462.50) scale(1,0.87)" text-anchor="middle" class="tk">8</text>
<line x1="509.1" y1="455.5" x2="509.1" y2="457.0" stroke="#999"/>
<text transform="translate(509.12,462.50) scale(1,0.87)" text-anchor="middle" class="tk">10</text>
<line x1="526.8" y1="455.5" x2="526.8" y2="457.0" stroke="#999"/>
<text transform="translate(526.81,462.50) scale(1,0.87)" text-anchor="middle" class="tk">12</text>
<line x1="544.5" y1="455.5" x2="544.5" y2="457.0" stroke="#999"/>
<text transform="translate(544.50,462.50) scale(1,0.87)" text-anchor="middle" class="tk">14</text>
<line x1="562.2" y1="455.5" x2="562.2" y2="457.0" stroke="#999"/>
<text transform="translate(562.19,462.50) scale(1,0.87)" text-anchor="middle" class="tk">16</text>
<line x1="579.9" y1="455.5" x2="579.9" y2="457.0" stroke="#999"/>
<text transform="translate(579.88,462.50) scale(1,0.87)" text-anchor="middle" class="tk">18</text>
<line x1="597.6" y1="455.5" x2="597.6" y2="457.0" stroke="#999"/>
<text transform="translate(597.58,462.50) scale(1,0.87)" text-anchor="middle" class="tk">20</text>
<line x1="615.3" y1="455.5" x2="615.3" y2="457.0" stroke="#999"/>
<text transform="translate(615.27,462.50) scale(1,0.87)" text-anchor="middle" class="tk">22</text>
<line x1="633.0" y1="455.5" x2="633.0" y2="457.0" stroke="#999"/>
<text transform="translate(632.96,462.50) scale(1,0.87)" text-anchor="middle" class="tk">24</text>
<line x1="650.7" y1="455.5" x2="650.7" y2="457.0" stroke="#999"/>
<text transform="translate(650.65,462.50) scale(1,0.87)" text-anchor="middle" class="tk">26</text>
<line x1="668.3" y1="455.5" x2="668.3" y2="457.0" stroke="#999"/>
<text transform="translate(668.35,462.50) scale(1,0.87)" text-anchor="middle" class="tk">28</text>
<line x1="686.0" y1="455.5" x2="686.0" y2="457.0" stroke="#999"/>
<text transform="translate(686.04,462.50) scale(1,0.87)" text-anchor="middle" class="tk">30</text>
<line x1="703.7" y1="455.5" x2="703.7" y2="457.0" stroke="#999"/>
<text transform="translate(703.73,462.50) scale(1,0.87)" text-anchor="middle" class="tk">32</text>
<line x1="721.4" y1="455.5" x2="721.4" y2="457.0" stroke="#999"/>
<text transform="translate(721.42,462.50) scale(1,0.87)" text-anchor="middle" class="tk">34</text>
<line x1="739.1" y1="455.5" x2="739.1" y2="457.0" stroke="#999"/>
<text transform="translate(739.12,462.50) scale(1,0.87)" text-anchor="middle" class="tk">36</text>
<line x1="756.8" y1="455.5" x2="756.8" y2="457.0" stroke="#999"/>
<text transform="translate(756.81,462.50) scale(1,0.87)" text-anchor="middle" class="tk">38</text>
<line x1="774.5" y1="455.5" x2="774.5" y2="457.0" stroke="#999"/>
<text transform="translate(774.50,462.50) scale(1,0.87)" text-anchor="middle" class="tk">40</text>
<text x="602" y="471.3" text-anchor="middle" class="at">Cycle</text>
<text transform="translate(398.0,360) rotate(-90)" text-anchor="middle" class="at">ΔRn</text>
<path d="M447.50,455.80 L447.50,445.20" fill="none" stroke="#c02236" stroke-width="0.9"/>
<path d="M447.20,444.90 L456.30,451.40 L459.30,455.80" fill="none" stroke="#c02236" stroke-width="0.9"/>
<path d="M453.30,455.80 L456.30,451.40 L456.30,455.80" fill="none" stroke="#c02236" stroke-width="0.9"/>
<path d="M465.00,455.80 L465.30,444.40 L472.70,446.80 L481.20,446.80 L491.60,443.20 L500.50,455.80" fill="none" stroke="#c02236" stroke-width="0.9"/>
<path d="M468.20,455.80 L473.40,435.90 L482.40,433.40 L500.40,440.20 L506.00,441.40 L534.90,440.90 L544.60,445.60 L552.00,455.80" fill="none" stroke="#c02236" stroke-width="0.9"/>
<path d="M478.40,455.80 L483.40,451.10 L490.40,451.10 L500.00,453.90 L508.80,455.80" fill="none" stroke="#c02236" stroke-width="0.9"/>
<path d="M486.10,455.80 L500.40,440.20 L510.50,449.30 L517.80,454.30 L526.30,453.70 L527.60,455.80" fill="none" stroke="#c02236" stroke-width="0.9"/>
<path d="M549.50,455.80 L552.00,451.20 L556.80,453.70 L559.30,455.80" fill="none" stroke="#c02236" stroke-width="0.9"/>
<path d="M580.46,455.50 L580.74,453.26 L581.18,450.12 L581.63,447.27 L582.07,444.64 L582.51,442.20 L582.95,439.91 L583.40,437.76 L583.84,435.72 L584.28,433.78 L584.72,431.92 L585.17,430.14 L585.61,428.44 L586.05,426.79 L586.49,425.19 L586.93,423.65 L587.38,422.16 L587.82,420.70 L588.26,419.29 L588.70,417.91 L589.15,416.57 L589.59,415.26 L590.03,413.97 L590.47,412.72 L590.92,411.49 L591.36,410.28 L591.80,409.10 L592.24,407.94 L592.68,406.81 L593.13,405.69 L593.57,404.59 L594.01,403.51 L594.45,402.45 L594.90,401.40 L595.34,400.37 L595.78,399.36 L596.22,398.36 L596.67,397.38 L597.11,396.41 L597.55,395.45 L597.99,394.51 L598.43,393.58 L598.88,392.66 L599.32,391.75 L599.76,390.86 L600.20,389.98 L600.65,389.11 L601.09,388.25 L601.53,387.40 L601.97,386.56 L602.42,385.73 L602.86,384.91 L603.30,384.10 L603.74,383.30 L604.18,382.51 L604.63,381.73 L605.07,380.96 L605.51,380.20 L605.95,379.44 L606.40,378.70 L606.84,377.96 L607.28,377.23 L607.72,376.51 L608.17,375.79 L608.61,375.09 L609.05,374.39 L609.49,373.70 L609.93,373.02 L610.38,372.34 L610.82,371.67 L611.26,371.01 L611.70,370.35 L612.15,369.70 L612.59,369.06 L613.03,368.43 L613.47,367.80 L613.92,367.18 L614.36,366.56 L614.80,365.95 L615.24,365.34 L615.68,364.75 L616.13,364.15 L616.57,363.57 L617.01,362.99 L617.45,362.41 L617.90,361.84 L618.34,361.28 L618.78,360.72 L619.22,360.17 L619.67,359.62 L620.11,359.08 L620.55,358.54 L620.99,358.01 L621.43,357.48 L621.88,356.96 L622.32,356.44 L622.76,355.92 L623.20,355.42 L623.65,354.91 L624.09,354.41 L624.53,353.92 L624.97,353.43 L625.42,352.94 L625.86,352.46 L626.30,351.99 L626.74,351.51 L627.18,351.04 L627.63,350.58 L628.07,350.12 L628.51,349.67 L628.95,349.21 L629.40,348.77 L629.84,348.32 L630.28,347.89 L630.72,347.45 L631.17,347.02 L631.61,346.59 L632.05,346.17 L632.49,345.75 L632.93,345.33 L633.38,344.92 L633.82,344.52 L634.26,344.11 L634.70,343.71 L635.15,343.32 L635.59,342.92 L636.03,342.53 L636.47,342.15 L636.92,341.77 L637.36,341.39 L637.80,341.02 L638.24,340.65 L638.68,340.28 L639.13,339.92 L639.57,339.56 L640.01,339.20 L640.45,338.85 L640.90,338.50 L641.34,338.15 L641.78,337.81 L642.22,337.47 L642.67,337.14 L643.11,336.81 L643.55,336.48 L643.99,336.15 L644.43,335.83 L644.88,335.52 L645.32,335.20 L645.76,334.89 L646.20,334.58 L646.65,334.28 L647.09,333.98 L647.53,333.68 L647.97,333.38 L648.42,333.09 L648.86,332.80 L649.30,332.52 L649.74,332.24 L650.18,331.96 L650.63,331.68 L651.07,331.41 L651.51,331.14 L651.95,330.88 L652.40,330.61 L652.84,330.35 L653.28,330.10 L653.72,329.84 L654.17,329.59 L654.61,329.34 L655.05,329.10 L655.49,328.85 L655.93,328.62 L656.38,328.38 L656.82,328.14 L657.26,327.91 L657.70,327.68 L658.15,327.46 L658.59,327.24 L659.03,327.02 L659.47,326.80 L659.92,326.58 L660.36,326.37 L660.80,326.16 L661.24,325.95 L661.68,325.75 L662.13,325.55 L662.57,325.35 L663.01,325.15 L663.45,324.95 L663.90,324.76 L664.34,324.57 L664.78,324.38 L665.22,324.19 L665.67,324.01 L666.11,323.83 L666.55,323.65 L666.99,323.47 L667.43,323.30 L667.88,323.12 L668.32,322.95 L668.76,322.78 L669.20,322.61 L669.65,322.45 L670.09,322.28 L670.53,322.12 L670.97,321.96 L671.42,321.80 L671.86,321.65 L672.30,321.49 L672.74,321.34 L673.18,321.18 L673.63,321.03 L674.07,320.89 L674.51,320.74 L674.95,320.59 L675.40,320.45 L675.84,320.30 L676.28,320.16 L676.72,320.02 L677.17,319.88 L677.61,319.75 L678.05,319.61 L678.49,319.47 L678.93,319.34 L679.38,319.21 L679.82,319.07 L680.26,318.94 L680.70,318.81 L681.15,318.68 L681.59,318.56 L682.03,318.43 L682.47,318.30 L682.92,318.18 L683.36,318.05 L683.80,317.93 L684.24,317.81 L684.68,317.69 L685.13,317.57 L685.57,317.45 L686.01,317.33 L686.45,317.21 L686.90,317.09 L687.34,316.97 L687.78,316.86 L688.22,316.74 L688.67,316.63 L689.11,316.51 L689.55,316.40 L689.99,316.29 L690.43,316.17 L690.88,316.06 L691.32,315.95 L691.76,315.84 L692.20,315.73 L692.65,315.62 L693.09,315.51 L693.53,315.40 L693.97,315.30 L694.42,315.19 L694.86,315.08 L695.30,314.98 L695.74,314.87 L696.18,314.77 L696.63,314.66 L697.07,314.56 L697.51,314.46 L697.95,314.36 L698.40,314.25 L698.84,314.15 L699.28,314.05 L699.72,313.95 L700.17,313.85 L700.61,313.75 L701.05,313.66 L701.49,313.56 L701.93,313.46 L702.38,313.37 L702.82,313.27 L703.26,313.17 L703.70,313.08 L704.15,312.99 L704.59,312.89 L705.03,312.80 L705.47,312.71 L705.92,312.62 L706.36,312.53 L706.80,312.44 L707.24,312.35 L707.68,312.26 L708.13,312.18 L708.57,312.09 L709.01,312.01 L709.45,311.92 L709.90,311.84 L710.34,311.75 L710.78,311.67 L711.22,311.59 L711.67,311.51 L712.11,311.43 L712.55,311.35 L712.99,311.27 L713.43,311.20 L713.88,311.12 L714.32,311.04 L714.76,310.97 L715.20,310.89 L715.65,310.82 L716.09,310.75 L716.53,310.68 L716.97,310.61 L717.42,310.54 L717.86,310.47 L718.30,310.40 L718.74,310.33 L719.18,310.27 L719.63,310.20 L720.07,310.13 L720.51,310.07 L720.95,310.01 L721.40,309.94 L721.84,309.88 L722.28,309.82 L722.72,309.76 L723.17,309.70 L723.61,309.64 L724.05,309.59 L724.49,309.53 L724.93,309.47 L725.38,309.42 L725.82,309.36 L726.26,309.31 L726.70,309.26 L727.15,309.20 L727.59,309.15 L728.03,309.10 L728.47,309.05 L728.92,309.00 L729.36,308.95 L729.80,308.90 L730.24,308.86 L730.68,308.81 L731.13,308.76 L731.57,308.72 L732.01,308.68 L732.45,308.63 L732.90,308.59 L733.34,308.55 L733.78,308.51 L734.22,308.46 L734.67,308.42 L735.11,308.39 L735.55,308.35 L735.99,308.31 L736.43,308.27 L736.88,308.24 L737.32,308.20 L737.76,308.16 L738.20,308.13 L738.65,308.10 L739.09,308.06 L739.53,308.03 L739.97,308.00 L740.42,307.97 L740.86,307.94 L741.30,307.91 L741.74,307.88 L742.18,307.85 L742.63,307.83 L743.07,307.80 L743.51,307.77 L743.95,307.75 L744.40,307.72 L744.84,307.70 L745.28,307.68 L745.72,307.65 L746.17,307.63 L746.61,307.61 L747.05,307.59 L747.49,307.57 L747.93,307.55 L748.38,307.53 L748.82,307.52 L749.26,307.50 L749.70,307.48 L750.15,307.47 L750.59,307.45 L751.03,307.44 L751.47,307.42 L751.92,307.41 L752.36,307.40 L752.80,307.38 L753.24,307.37 L753.68,307.36 L754.13,307.35 L754.57,307.34 L755.01,307.33 L755.45,307.32 L755.90,307.31 L756.34,307.30 L756.78,307.29 L757.22,307.28 L757.67,307.28 L758.11,307.27 L758.55,307.26 L758.99,307.25 L759.43,307.25 L759.88,307.24 L760.32,307.23 L760.76,307.23 L761.20,307.22 L761.65,307.22 L762.09,307.21 L762.53,307.20 L762.97,307.20 L763.42,307.19 L763.86,307.19 L764.30,307.18 L764.74,307.18 L765.18,307.17 L765.63,307.17 L766.07,307.16 L766.51,307.16 L766.95,307.15 L767.40,307.14 L767.84,307.14 L768.28,307.13 L768.72,307.13 L769.17,307.12 L769.61,307.12 L770.05,307.11 L770.49,307.10 L770.93,307.10 L771.38,307.09 L771.82,307.08 L772.26,307.08 L772.70,307.07 L773.15,307.06 L773.59,307.06 L774.03,307.05 L774.47,307.04 L774.50,307.04" fill="none" stroke="#c02236" stroke-width="1" stroke-linejoin="round"/>
<path d="M582.24,455.50 L582.54,453.29 L582.98,450.34 L583.43,447.64 L583.87,445.14 L584.31,442.80 L584.75,440.61 L585.20,438.54 L585.64,436.57 L586.08,434.69 L586.52,432.89 L586.97,431.16 L587.41,429.50 L587.85,427.89 L588.29,426.34 L588.73,424.83 L589.18,423.37 L589.62,421.95 L590.06,420.57 L590.50,419.22 L590.95,417.90 L591.39,416.61 L591.83,415.35 L592.27,414.12 L592.72,412.91 L593.16,411.73 L593.60,410.57 L594.04,409.43 L594.48,408.30 L594.93,407.20 L595.37,406.12 L595.81,405.06 L596.25,404.01 L596.70,402.98 L597.14,401.96 L597.58,400.96 L598.02,399.97 L598.47,399.00 L598.91,398.04 L599.35,397.10 L599.79,396.17 L600.23,395.24 L600.68,394.34 L601.12,393.44 L601.56,392.55 L602.00,391.68 L602.45,390.82 L602.89,389.96 L603.33,389.12 L603.77,388.29 L604.22,387.46 L604.66,386.65 L605.10,385.85 L605.54,385.05 L605.98,384.26 L606.43,383.49 L606.87,382.72 L607.31,381.96 L607.75,381.20 L608.20,380.46 L608.64,379.72 L609.08,379.00 L609.52,378.27 L609.97,377.56 L610.41,376.85 L610.85,376.16 L611.29,375.46 L611.73,374.78 L612.18,374.10 L612.62,373.43 L613.06,372.76 L613.50,372.11 L613.95,371.45 L614.39,370.81 L614.83,370.17 L615.27,369.54 L615.72,368.91 L616.16,368.29 L616.60,367.67 L617.04,367.06 L617.48,366.46 L617.93,365.86 L618.37,365.27 L618.81,364.68 L619.25,364.10 L619.70,363.52 L620.14,362.95 L620.58,362.39 L621.02,361.82 L621.47,361.27 L621.91,360.72 L622.35,360.17 L622.79,359.63 L623.23,359.09 L623.68,358.56 L624.12,358.04 L624.56,357.52 L625.00,357.00 L625.45,356.49 L625.89,355.98 L626.33,355.48 L626.77,354.98 L627.22,354.48 L627.66,353.99 L628.10,353.51 L628.54,353.03 L628.98,352.55 L629.43,352.08 L629.87,351.61 L630.31,351.15 L630.75,350.69 L631.20,350.24 L631.64,349.79 L632.08,349.34 L632.52,348.90 L632.97,348.46 L633.41,348.03 L633.85,347.60 L634.29,347.17 L634.73,346.75 L635.18,346.34 L635.62,345.93 L636.06,345.52 L636.50,345.11 L636.95,344.71 L637.39,344.32 L637.83,343.93 L638.27,343.54 L638.72,343.16 L639.16,342.78 L639.60,342.40 L640.04,342.03 L640.48,341.66 L640.93,341.30 L641.37,340.94 L641.81,340.58 L642.25,340.23 L642.70,339.89 L643.14,339.54 L643.58,339.20 L644.02,338.87 L644.47,338.54 L644.91,338.21 L645.35,337.88 L645.79,337.56 L646.23,337.25 L646.68,336.93 L647.12,336.63 L647.56,336.32 L648.00,336.02 L648.45,335.72 L648.89,335.43 L649.33,335.14 L649.77,334.85 L650.22,334.57 L650.66,334.29 L651.10,334.01 L651.54,333.74 L651.98,333.47 L652.43,333.20 L652.87,332.94 L653.31,332.68 L653.75,332.42 L654.20,332.17 L654.64,331.92 L655.08,331.68 L655.52,331.43 L655.97,331.19 L656.41,330.96 L656.85,330.72 L657.29,330.49 L657.73,330.27 L658.18,330.04 L658.62,329.82 L659.06,329.60 L659.50,329.39 L659.95,329.18 L660.39,328.97 L660.83,328.76 L661.27,328.56 L661.72,328.36 L662.16,328.16 L662.60,327.96 L663.04,327.77 L663.48,327.58 L663.93,327.39 L664.37,327.21 L664.81,327.03 L665.25,326.84 L665.70,326.67 L666.14,326.49 L666.58,326.32 L667.02,326.15 L667.47,325.98 L667.91,325.81 L668.35,325.65 L668.79,325.49 L669.23,325.33 L669.68,325.17 L670.12,325.01 L670.56,324.86 L671.00,324.70 L671.45,324.55 L671.89,324.40 L672.33,324.26 L672.77,324.11 L673.22,323.97 L673.66,323.83 L674.10,323.68 L674.54,323.55 L674.98,323.41 L675.43,323.27 L675.87,323.14 L676.31,323.00 L676.75,322.87 L677.20,322.74 L677.64,322.61 L678.08,322.48 L678.52,322.35 L678.97,322.23 L679.41,322.10 L679.85,321.98 L680.29,321.85 L680.73,321.73 L681.18,321.61 L681.62,321.49 L682.06,321.37 L682.50,321.25 L682.95,321.13 L683.39,321.01 L683.83,320.90 L684.27,320.78 L684.72,320.66 L685.16,320.55 L685.60,320.43 L686.04,320.32 L686.48,320.21 L686.93,320.09 L687.37,319.98 L687.81,319.87 L688.25,319.76 L688.70,319.65 L689.14,319.54 L689.58,319.43 L690.02,319.32 L690.47,319.21 L690.91,319.10 L691.35,318.99 L691.79,318.88 L692.23,318.78 L692.68,318.67 L693.12,318.56 L693.56,318.45 L694.00,318.35 L694.45,318.24 L694.89,318.14 L695.33,318.03 L695.77,317.93 L696.22,317.82 L696.66,317.72 L697.10,317.61 L697.54,317.51 L697.98,317.41 L698.43,317.31 L698.87,317.20 L699.31,317.10 L699.75,317.00 L700.20,316.90 L700.64,316.80 L701.08,316.70 L701.52,316.60 L701.97,316.50 L702.41,316.40 L702.85,316.30 L703.29,316.20 L703.73,316.10 L704.18,316.01 L704.62,315.91 L705.06,315.81 L705.50,315.72 L705.95,315.62 L706.39,315.53 L706.83,315.44 L707.27,315.34 L707.72,315.25 L708.16,315.16 L708.60,315.06 L709.04,314.97 L709.48,314.88 L709.93,314.79 L710.37,314.70 L710.81,314.62 L711.25,314.53 L711.70,314.44 L712.14,314.35 L712.58,314.27 L713.02,314.18 L713.47,314.10 L713.91,314.01 L714.35,313.93 L714.79,313.85 L715.23,313.77 L715.68,313.68 L716.12,313.60 L716.56,313.52 L717.00,313.45 L717.45,313.37 L717.89,313.29 L718.33,313.21 L718.77,313.14 L719.22,313.06 L719.66,312.99 L720.10,312.91 L720.54,312.84 L720.98,312.77 L721.43,312.69 L721.87,312.62 L722.31,312.55 L722.75,312.48 L723.20,312.41 L723.64,312.35 L724.08,312.28 L724.52,312.21 L724.97,312.14 L725.41,312.08 L725.85,312.01 L726.29,311.95 L726.73,311.89 L727.18,311.82 L727.62,311.76 L728.06,311.70 L728.50,311.64 L728.95,311.58 L729.39,311.52 L729.83,311.46 L730.27,311.40 L730.72,311.34 L731.16,311.28 L731.60,311.23 L732.04,311.17 L732.48,311.12 L732.93,311.06 L733.37,311.01 L733.81,310.96 L734.25,310.90 L734.70,310.85 L735.14,310.80 L735.58,310.75 L736.02,310.70 L736.47,310.65 L736.91,310.60 L737.35,310.55 L737.79,310.50 L738.23,310.45 L738.68,310.41 L739.12,310.36 L739.56,310.31 L740.00,310.27 L740.45,310.23 L740.89,310.18 L741.33,310.14 L741.77,310.10 L742.22,310.05 L742.66,310.01 L743.10,309.97 L743.54,309.93 L743.98,309.89 L744.43,309.85 L744.87,309.81 L745.31,309.77 L745.75,309.74 L746.20,309.70 L746.64,309.66 L747.08,309.63 L747.52,309.59 L747.97,309.55 L748.41,309.52 L748.85,309.49 L749.29,309.45 L749.73,309.42 L750.18,309.39 L750.62,309.36 L751.06,309.32 L751.50,309.29 L751.95,309.26 L752.39,309.23 L752.83,309.20 L753.27,309.18 L753.72,309.15 L754.16,309.12 L754.60,309.09 L755.04,309.07 L755.48,309.04 L755.93,309.01 L756.37,308.99 L756.81,308.96 L757.25,308.94 L757.70,308.92 L758.14,308.89 L758.58,308.87 L759.02,308.85 L759.47,308.82 L759.91,308.80 L760.35,308.78 L760.79,308.76 L761.23,308.74 L761.68,308.72 L762.12,308.70 L762.56,308.68 L763.00,308.66 L763.45,308.64 L763.89,308.62 L764.33,308.60 L764.77,308.58 L765.22,308.56 L765.66,308.54 L766.10,308.53 L766.54,308.51 L766.98,308.49 L767.43,308.47 L767.87,308.46 L768.31,308.44 L768.75,308.42 L769.20,308.41 L769.64,308.39 L770.08,308.37 L770.52,308.36 L770.97,308.34 L771.41,308.33 L771.85,308.31 L772.29,308.30 L772.73,308.28 L773.18,308.27 L773.62,308.25 L774.06,308.24 L774.50,308.22" fill="none" stroke="#c02236" stroke-width="1" stroke-linejoin="round"/>
<path d="M573.66,455.50 L574.04,455.07 L574.48,454.56 L574.92,454.05 L575.37,453.54 L575.81,453.03 L576.25,452.52 L576.69,452.01 L577.13,451.50 L577.58,450.98 L578.02,450.47 L578.46,449.96 L578.90,449.45 L579.35,448.94 L579.79,448.43 L580.23,447.92 L580.67,447.40 L581.12,446.89 L581.56,446.38 L582.00,445.86 L582.44,445.35 L582.88,444.83 L583.33,444.32 L583.77,443.80 L584.21,443.28 L584.65,442.76 L585.10,442.24 L585.54,441.72 L585.98,441.20 L586.42,440.68 L586.87,440.16 L587.31,439.63 L587.75,439.11 L588.19,438.58 L588.63,438.05 L589.08,437.52 L589.52,436.99 L589.96,436.46 L590.40,435.93 L590.85,435.40 L591.29,434.86 L591.73,434.33 L592.17,433.79 L592.62,433.25 L593.06,432.71 L593.50,432.17 L593.94,431.63 L594.38,431.09 L594.83,430.54 L595.27,430.00 L595.71,429.45 L596.15,428.90 L596.60,428.35 L597.04,427.80 L597.48,427.25 L597.92,426.69 L598.37,426.14 L598.81,425.58 L599.25,425.03 L599.69,424.47 L600.13,423.91 L600.58,423.34 L601.02,422.78 L601.46,422.22 L601.90,421.65 L602.35,421.08 L602.79,420.51 L603.23,419.94 L603.67,419.37 L604.12,418.80 L604.56,418.23 L605.00,417.65 L605.44,417.08 L605.88,416.50 L606.33,415.92 L606.77,415.34 L607.21,414.76 L607.65,414.18 L608.10,413.59 L608.54,413.01 L608.98,412.42 L609.42,411.83 L609.87,411.24 L610.31,410.65 L610.75,410.06 L611.19,409.47 L611.63,408.88 L612.08,408.28 L612.52,407.69 L612.96,407.09 L613.40,406.49 L613.85,405.89 L614.29,405.29 L614.73,404.69 L615.17,404.09 L615.62,403.48 L616.06,402.88 L616.50,402.27 L616.94,401.67 L617.38,401.06 L617.83,400.45 L618.27,399.84 L618.71,399.23 L619.15,398.62 L619.60,398.01 L620.04,397.39 L620.48,396.78 L620.92,396.16 L621.37,395.55 L621.81,394.93 L622.25,394.31 L622.69,393.69 L623.13,393.07 L623.58,392.45 L624.02,391.83 L624.46,391.21 L624.90,390.59 L625.35,389.96 L625.79,389.34 L626.23,388.72 L626.67,388.09 L627.12,387.47 L627.56,386.84 L628.00,386.22 L628.44,385.59 L628.88,384.96 L629.33,384.34 L629.77,383.71 L630.21,383.08 L630.65,382.45 L631.10,381.83 L631.54,381.20 L631.98,380.57 L632.42,379.94 L632.87,379.32 L633.31,378.69 L633.75,378.07 L634.19,377.44 L634.63,376.82 L635.08,376.19 L635.52,375.57 L635.96,374.95 L636.40,374.32 L636.85,373.70 L637.29,373.08 L637.73,372.47 L638.17,371.85 L638.62,371.23 L639.06,370.62 L639.50,370.01 L639.94,369.40 L640.38,368.79 L640.83,368.19 L641.27,367.58 L641.71,366.98 L642.15,366.38 L642.60,365.78 L643.04,365.19 L643.48,364.60 L643.92,364.01 L644.37,363.42 L644.81,362.84 L645.25,362.26 L645.69,361.69 L646.13,361.11 L646.58,360.54 L647.02,359.98 L647.46,359.41 L647.90,358.85 L648.35,358.30 L648.79,357.74 L649.23,357.19 L649.67,356.65 L650.12,356.11 L650.56,355.57 L651.00,355.04 L651.44,354.51 L651.88,353.98 L652.33,353.46 L652.77,352.94 L653.21,352.43 L653.65,351.91 L654.10,351.41 L654.54,350.91 L654.98,350.41 L655.42,349.91 L655.87,349.42 L656.31,348.94 L656.75,348.46 L657.19,347.98 L657.63,347.51 L658.08,347.04 L658.52,346.57 L658.96,346.11 L659.40,345.66 L659.85,345.20 L660.29,344.76 L660.73,344.31 L661.17,343.88 L661.62,343.44 L662.06,343.01 L662.50,342.58 L662.94,342.16 L663.38,341.75 L663.83,341.33 L664.27,340.93 L664.71,340.52 L665.15,340.13 L665.60,339.73 L666.04,339.34 L666.48,338.96 L666.92,338.58 L667.37,338.20 L667.81,337.83 L668.25,337.47 L668.69,337.11 L669.13,336.75 L669.58,336.40 L670.02,336.06 L670.46,335.71 L670.90,335.38 L671.35,335.05 L671.79,334.72 L672.23,334.40 L672.67,334.08 L673.12,333.77 L673.56,333.46 L674.00,333.16 L674.44,332.86 L674.88,332.57 L675.33,332.28 L675.77,332.00 L676.21,331.72 L676.65,331.44 L677.10,331.17 L677.54,330.91 L677.98,330.65 L678.42,330.39 L678.87,330.14 L679.31,329.89 L679.75,329.64 L680.19,329.40 L680.63,329.16 L681.08,328.93 L681.52,328.70 L681.96,328.47 L682.40,328.24 L682.85,328.02 L683.29,327.80 L683.73,327.59 L684.17,327.38 L684.62,327.17 L685.06,326.96 L685.50,326.75 L685.94,326.55 L686.38,326.35 L686.83,326.15 L687.27,325.95 L687.71,325.76 L688.15,325.57 L688.60,325.37 L689.04,325.18 L689.48,324.99 L689.92,324.80 L690.37,324.62 L690.81,324.43 L691.25,324.24 L691.69,324.06 L692.13,323.87 L692.58,323.69 L693.02,323.51 L693.46,323.32 L693.90,323.14 L694.35,322.96 L694.79,322.77 L695.23,322.59 L695.67,322.41 L696.12,322.22 L696.56,322.04 L697.00,321.86 L697.44,321.67 L697.88,321.49 L698.33,321.30 L698.77,321.12 L699.21,320.93 L699.65,320.75 L700.10,320.56 L700.54,320.37 L700.98,320.19 L701.42,320.00 L701.87,319.82 L702.31,319.63 L702.75,319.44 L703.19,319.26 L703.63,319.07 L704.08,318.89 L704.52,318.71 L704.96,318.52 L705.40,318.34 L705.85,318.16 L706.29,317.98 L706.73,317.81 L707.17,317.63 L707.62,317.46 L708.06,317.29 L708.50,317.12 L708.94,316.95 L709.38,316.79 L709.83,316.63 L710.27,316.47 L710.71,316.31 L711.15,316.16 L711.60,316.01 L712.04,315.86 L712.48,315.72 L712.92,315.57 L713.37,315.44 L713.81,315.30 L714.25,315.17 L714.69,315.04 L715.13,314.91 L715.58,314.79 L716.02,314.67 L716.46,314.55 L716.90,314.44 L717.35,314.33 L717.79,314.22 L718.23,314.11 L718.67,314.01 L719.12,313.90 L719.56,313.80 L720.00,313.71 L720.44,313.61 L720.88,313.52 L721.33,313.43 L721.77,313.34 L722.21,313.26 L722.65,313.17 L723.10,313.09 L723.54,313.01 L723.98,312.93 L724.42,312.85 L724.87,312.78 L725.31,312.71 L725.75,312.63 L726.19,312.56 L726.63,312.49 L727.08,312.43 L727.52,312.36 L727.96,312.30 L728.40,312.23 L728.85,312.17 L729.29,312.11 L729.73,312.05 L730.17,311.99 L730.62,311.94 L731.06,311.88 L731.50,311.82 L731.94,311.77 L732.38,311.72 L732.83,311.67 L733.27,311.62 L733.71,311.57 L734.15,311.52 L734.60,311.47 L735.04,311.42 L735.48,311.38 L735.92,311.33 L736.37,311.29 L736.81,311.24 L737.25,311.20 L737.69,311.16 L738.13,311.12 L738.58,311.08 L739.02,311.04 L739.46,311.00 L739.90,310.96 L740.35,310.93 L740.79,310.89 L741.23,310.85 L741.67,310.82 L742.12,310.78 L742.56,310.75 L743.00,310.72 L743.44,310.68 L743.88,310.65 L744.33,310.62 L744.77,310.59 L745.21,310.55 L745.65,310.52 L746.10,310.49 L746.54,310.46 L746.98,310.43 L747.42,310.40 L747.87,310.37 L748.31,310.34 L748.75,310.32 L749.19,310.29 L749.63,310.26 L750.08,310.23 L750.52,310.20 L750.96,310.17 L751.40,310.15 L751.85,310.12 L752.29,310.09 L752.73,310.07 L753.17,310.04 L753.62,310.01 L754.06,309.99 L754.50,309.96 L754.94,309.94 L755.38,309.91 L755.83,309.89 L756.27,309.86 L756.71,309.84 L757.15,309.82 L757.60,309.79 L758.04,309.77 L758.48,309.75 L758.92,309.73 L759.37,309.71 L759.81,309.69 L760.25,309.67 L760.69,309.65 L761.13,309.63 L761.58,309.61 L762.02,309.60 L762.46,309.58 L762.90,309.56 L763.35,309.55 L763.79,309.53 L764.23,309.52 L764.67,309.51 L765.12,309.49 L765.56,309.48 L766.00,309.47 L766.44,309.46 L766.88,309.45 L767.33,309.44 L767.77,309.43 L768.21,309.42 L768.65,309.41 L769.10,309.40 L769.54,309.39 L769.98,309.38 L770.42,309.38 L770.87,309.37 L771.31,309.36 L771.75,309.36 L772.19,309.35 L772.63,309.35 L773.08,309.34 L773.52,309.33 L773.96,309.33 L774.40,309.32 L774.50,309.32" fill="none" stroke="#c02236" stroke-width="1" stroke-linejoin="round"/>
<path d="M597.37,455.50 L597.40,455.37 L597.84,453.78 L598.28,452.24 L598.73,450.74 L599.17,449.28 L599.61,447.86 L600.05,446.48 L600.50,445.13 L600.94,443.81 L601.38,442.52 L601.82,441.25 L602.27,440.01 L602.71,438.79 L603.15,437.59 L603.59,436.41 L604.03,435.25 L604.48,434.11 L604.92,432.98 L605.36,431.87 L605.80,430.77 L606.25,429.69 L606.69,428.62 L607.13,427.56 L607.57,426.52 L608.02,425.48 L608.46,424.46 L608.90,423.45 L609.34,422.45 L609.78,421.46 L610.23,420.48 L610.67,419.51 L611.11,418.54 L611.55,417.59 L612.00,416.64 L612.44,415.70 L612.88,414.77 L613.32,413.85 L613.77,412.94 L614.21,412.03 L614.65,411.13 L615.09,410.23 L615.53,409.34 L615.98,408.46 L616.42,407.59 L616.86,406.72 L617.30,405.86 L617.75,405.00 L618.19,404.15 L618.63,403.31 L619.07,402.47 L619.52,401.64 L619.96,400.81 L620.40,399.99 L620.84,399.17 L621.28,398.36 L621.73,397.56 L622.17,396.75 L622.61,395.96 L623.05,395.17 L623.50,394.38 L623.94,393.60 L624.38,392.83 L624.82,392.06 L625.27,391.29 L625.71,390.53 L626.15,389.78 L626.59,389.02 L627.03,388.28 L627.48,387.54 L627.92,386.80 L628.36,386.06 L628.80,385.34 L629.25,384.61 L629.69,383.89 L630.13,383.18 L630.57,382.47 L631.02,381.76 L631.46,381.06 L631.90,380.36 L632.34,379.67 L632.78,378.98 L633.23,378.30 L633.67,377.62 L634.11,376.95 L634.55,376.28 L635.00,375.61 L635.44,374.95 L635.88,374.29 L636.32,373.64 L636.77,372.99 L637.21,372.35 L637.65,371.71 L638.09,371.07 L638.53,370.44 L638.98,369.81 L639.42,369.19 L639.86,368.57 L640.30,367.96 L640.75,367.35 L641.19,366.75 L641.63,366.15 L642.07,365.55 L642.52,364.96 L642.96,364.37 L643.40,363.79 L643.84,363.21 L644.28,362.64 L644.73,362.07 L645.17,361.50 L645.61,360.94 L646.05,360.39 L646.50,359.83 L646.94,359.29 L647.38,358.74 L647.82,358.21 L648.27,357.67 L648.71,357.14 L649.15,356.62 L649.59,356.10 L650.03,355.58 L650.48,355.07 L650.92,354.56 L651.36,354.06 L651.80,353.56 L652.25,353.07 L652.69,352.58 L653.13,352.10 L653.57,351.62 L654.02,351.14 L654.46,350.67 L654.90,350.20 L655.34,349.74 L655.78,349.28 L656.23,348.83 L656.67,348.38 L657.11,347.93 L657.55,347.49 L658.00,347.06 L658.44,346.62 L658.88,346.20 L659.32,345.77 L659.77,345.35 L660.21,344.94 L660.65,344.53 L661.09,344.12 L661.53,343.72 L661.98,343.32 L662.42,342.93 L662.86,342.54 L663.30,342.16 L663.75,341.77 L664.19,341.40 L664.63,341.03 L665.07,340.66 L665.52,340.29 L665.96,339.93 L666.40,339.57 L666.84,339.22 L667.28,338.87 L667.73,338.53 L668.17,338.19 L668.61,337.85 L669.05,337.52 L669.50,337.19 L669.94,336.86 L670.38,336.54 L670.82,336.22 L671.27,335.90 L671.71,335.59 L672.15,335.29 L672.59,334.98 L673.03,334.68 L673.48,334.38 L673.92,334.09 L674.36,333.80 L674.80,333.51 L675.25,333.23 L675.69,332.95 L676.13,332.67 L676.57,332.40 L677.02,332.13 L677.46,331.86 L677.90,331.60 L678.34,331.34 L678.78,331.08 L679.23,330.82 L679.67,330.57 L680.11,330.32 L680.55,330.07 L681.00,329.83 L681.44,329.59 L681.88,329.35 L682.32,329.11 L682.77,328.88 L683.21,328.65 L683.65,328.42 L684.09,328.19 L684.53,327.97 L684.98,327.74 L685.42,327.52 L685.86,327.31 L686.30,327.09 L686.75,326.88 L687.19,326.66 L687.63,326.45 L688.07,326.25 L688.52,326.04 L688.96,325.84 L689.40,325.63 L689.84,325.43 L690.28,325.23 L690.73,325.04 L691.17,324.84 L691.61,324.65 L692.05,324.45 L692.50,324.26 L692.94,324.07 L693.38,323.88 L693.82,323.69 L694.27,323.51 L694.71,323.32 L695.15,323.14 L695.59,322.96 L696.03,322.77 L696.48,322.59 L696.92,322.41 L697.36,322.23 L697.80,322.06 L698.25,321.88 L698.69,321.70 L699.13,321.53 L699.57,321.36 L700.02,321.18 L700.46,321.01 L700.90,320.84 L701.34,320.67 L701.78,320.50 L702.23,320.33 L702.67,320.17 L703.11,320.00 L703.55,319.83 L704.00,319.67 L704.44,319.51 L704.88,319.35 L705.32,319.18 L705.77,319.02 L706.21,318.87 L706.65,318.71 L707.09,318.55 L707.53,318.40 L707.98,318.24 L708.42,318.09 L708.86,317.94 L709.30,317.79 L709.75,317.64 L710.19,317.49 L710.63,317.35 L711.07,317.20 L711.52,317.06 L711.96,316.92 L712.40,316.78 L712.84,316.64 L713.28,316.50 L713.73,316.37 L714.17,316.23 L714.61,316.10 L715.05,315.97 L715.50,315.84 L715.94,315.71 L716.38,315.58 L716.82,315.46 L717.27,315.34 L717.71,315.21 L718.15,315.09 L718.59,314.98 L719.03,314.86 L719.48,314.74 L719.92,314.63 L720.36,314.52 L720.80,314.41 L721.25,314.30 L721.69,314.19 L722.13,314.09 L722.57,313.98 L723.02,313.88 L723.46,313.78 L723.90,313.68 L724.34,313.58 L724.78,313.49 L725.23,313.39 L725.67,313.30 L726.11,313.21 L726.55,313.11 L727.00,313.03 L727.44,312.94 L727.88,312.85 L728.32,312.77 L728.77,312.68 L729.21,312.60 L729.65,312.52 L730.09,312.44 L730.53,312.37 L730.98,312.29 L731.42,312.21 L731.86,312.14 L732.30,312.07 L732.75,312.00 L733.19,311.93 L733.63,311.86 L734.07,311.79 L734.52,311.72 L734.96,311.66 L735.40,311.59 L735.84,311.53 L736.28,311.47 L736.73,311.41 L737.17,311.35 L737.61,311.29 L738.05,311.24 L738.50,311.18 L738.94,311.13 L739.38,311.07 L739.82,311.02 L740.27,310.97 L740.71,310.92 L741.15,310.87 L741.59,310.82 L742.03,310.78 L742.48,310.73 L742.92,310.69 L743.36,310.64 L743.80,310.60 L744.25,310.56 L744.69,310.52 L745.13,310.48 L745.57,310.44 L746.02,310.40 L746.46,310.37 L746.90,310.33 L747.34,310.30 L747.78,310.26 L748.23,310.23 L748.67,310.20 L749.11,310.17 L749.55,310.14 L750.00,310.11 L750.44,310.08 L750.88,310.05 L751.32,310.03 L751.77,310.00 L752.21,309.98 L752.65,309.95 L753.09,309.93 L753.53,309.91 L753.98,309.88 L754.42,309.86 L754.86,309.84 L755.30,309.82 L755.75,309.80 L756.19,309.78 L756.63,309.76 L757.07,309.75 L757.52,309.73 L757.96,309.71 L758.40,309.70 L758.84,309.68 L759.28,309.67 L759.73,309.65 L760.17,309.64 L760.61,309.62 L761.05,309.61 L761.50,309.59 L761.94,309.58 L762.38,309.57 L762.82,309.55 L763.27,309.54 L763.71,309.53 L764.15,309.52 L764.59,309.50 L765.03,309.49 L765.48,309.48 L765.92,309.47 L766.36,309.46 L766.80,309.45 L767.25,309.44 L767.69,309.42 L768.13,309.41 L768.57,309.40 L769.02,309.39 L769.46,309.38 L769.90,309.37 L770.34,309.36 L770.78,309.35 L771.23,309.34 L771.67,309.33 L772.11,309.32 L772.55,309.31 L773.00,309.30 L773.44,309.29 L773.88,309.27 L774.32,309.26 L774.50,309.26" fill="none" stroke="#c02236" stroke-width="1" stroke-linejoin="round"/>
<path d="M632.40,455.50 L632.40,426.80 L632.84,425.54 L633.28,424.33 L633.73,423.15 L634.17,421.99 L634.61,420.84 L635.05,419.71 L635.50,418.60 L635.94,417.50 L636.38,416.42 L636.82,415.35 L637.27,414.29 L637.71,413.25 L638.15,412.22 L638.59,411.20 L639.03,410.19 L639.48,409.19 L639.92,408.21 L640.36,407.23 L640.80,406.26 L641.25,405.30 L641.69,404.35 L642.13,403.41 L642.57,402.48 L643.02,401.55 L643.46,400.64 L643.90,399.73 L644.34,398.83 L644.78,397.93 L645.23,397.05 L645.67,396.17 L646.11,395.29 L646.55,394.43 L647.00,393.57 L647.44,392.72 L647.88,391.87 L648.32,391.03 L648.77,390.20 L649.21,389.37 L649.65,388.55 L650.09,387.74 L650.53,386.93 L650.98,386.13 L651.42,385.33 L651.86,384.54 L652.30,383.75 L652.75,382.98 L653.19,382.20 L653.63,381.43 L654.07,380.67 L654.52,379.91 L654.96,379.16 L655.40,378.42 L655.84,377.67 L656.28,376.94 L656.73,376.21 L657.17,375.48 L657.61,374.77 L658.05,374.05 L658.50,373.34 L658.94,372.64 L659.38,371.94 L659.82,371.25 L660.27,370.56 L660.71,369.88 L661.15,369.20 L661.59,368.53 L662.03,367.86 L662.48,367.20 L662.92,366.54 L663.36,365.89 L663.80,365.24 L664.25,364.60 L664.69,363.96 L665.13,363.33 L665.57,362.70 L666.02,362.08 L666.46,361.46 L666.90,360.85 L667.34,360.24 L667.78,359.64 L668.23,359.04 L668.67,358.45 L669.11,357.86 L669.55,357.28 L670.00,356.70 L670.44,356.13 L670.88,355.56 L671.32,355.00 L671.77,354.44 L672.21,353.89 L672.65,353.34 L673.09,352.80 L673.53,352.26 L673.98,351.73 L674.42,351.20 L674.86,350.67 L675.30,350.16 L675.75,349.64 L676.19,349.13 L676.63,348.63 L677.07,348.13 L677.52,347.63 L677.96,347.14 L678.40,346.65 L678.84,346.17 L679.28,345.70 L679.73,345.23 L680.17,344.76 L680.61,344.30 L681.05,343.84 L681.50,343.39 L681.94,342.94 L682.38,342.49 L682.82,342.05 L683.27,341.62 L683.71,341.19 L684.15,340.76 L684.59,340.34 L685.03,339.93 L685.48,339.51 L685.92,339.11 L686.36,338.70 L686.80,338.30 L687.25,337.91 L687.69,337.52 L688.13,337.13 L688.57,336.75 L689.02,336.38 L689.46,336.00 L689.90,335.63 L690.34,335.27 L690.78,334.91 L691.23,334.56 L691.67,334.20 L692.11,333.86 L692.55,333.51 L693.00,333.17 L693.44,332.84 L693.88,332.51 L694.32,332.18 L694.77,331.86 L695.21,331.54 L695.65,331.22 L696.09,330.91 L696.53,330.60 L696.98,330.30 L697.42,330.00 L697.86,329.70 L698.30,329.41 L698.75,329.12 L699.19,328.84 L699.63,328.55 L700.07,328.28 L700.52,328.00 L700.96,327.73 L701.40,327.46 L701.84,327.20 L702.28,326.93 L702.73,326.68 L703.17,326.42 L703.61,326.17 L704.05,325.92 L704.50,325.67 L704.94,325.43 L705.38,325.19 L705.82,324.95 L706.27,324.72 L706.71,324.49 L707.15,324.26 L707.59,324.04 L708.03,323.81 L708.48,323.59 L708.92,323.37 L709.36,323.16 L709.80,322.95 L710.25,322.74 L710.69,322.53 L711.13,322.33 L711.57,322.12 L712.02,321.92 L712.46,321.72 L712.90,321.53 L713.34,321.34 L713.78,321.15 L714.23,320.96 L714.67,320.77 L715.11,320.59 L715.55,320.40 L716.00,320.22 L716.44,320.05 L716.88,319.87 L717.32,319.70 L717.77,319.53 L718.21,319.36 L718.65,319.19 L719.09,319.02 L719.53,318.86 L719.98,318.70 L720.42,318.54 L720.86,318.38 L721.30,318.22 L721.75,318.07 L722.19,317.92 L722.63,317.77 L723.07,317.62 L723.52,317.47 L723.96,317.33 L724.40,317.18 L724.84,317.04 L725.28,316.90 L725.73,316.76 L726.17,316.63 L726.61,316.49 L727.05,316.36 L727.50,316.23 L727.94,316.10 L728.38,315.97 L728.82,315.85 L729.27,315.72 L729.71,315.60 L730.15,315.48 L730.59,315.36 L731.03,315.24 L731.48,315.13 L731.92,315.01 L732.36,314.90 L732.80,314.79 L733.25,314.68 L733.69,314.57 L734.13,314.46 L734.57,314.35 L735.02,314.25 L735.46,314.15 L735.90,314.05 L736.34,313.95 L736.78,313.85 L737.23,313.75 L737.67,313.66 L738.11,313.57 L738.55,313.47 L739.00,313.38 L739.44,313.30 L739.88,313.21 L740.32,313.12 L740.77,313.04 L741.21,312.95 L741.65,312.87 L742.09,312.79 L742.53,312.71 L742.98,312.64 L743.42,312.56 L743.86,312.48 L744.30,312.41 L744.75,312.34 L745.19,312.27 L745.63,312.20 L746.07,312.13 L746.52,312.06 L746.96,312.00 L747.40,311.93 L747.84,311.87 L748.28,311.81 L748.73,311.75 L749.17,311.69 L749.61,311.63 L750.05,311.58 L750.50,311.52 L750.94,311.47 L751.38,311.42 L751.82,311.36 L752.27,311.31 L752.71,311.26 L753.15,311.22 L753.59,311.17 L754.03,311.12 L754.48,311.08 L754.92,311.03 L755.36,310.99 L755.80,310.95 L756.25,310.91 L756.69,310.87 L757.13,310.83 L757.57,310.79 L758.02,310.76 L758.46,310.72 L758.90,310.68 L759.34,310.65 L759.78,310.62 L760.23,310.58 L760.67,310.55 L761.11,310.52 L761.55,310.49 L762.00,310.46 L762.44,310.43 L762.88,310.40 L763.32,310.37 L763.77,310.35 L764.21,310.32 L764.65,310.29 L765.09,310.27 L765.53,310.24 L765.98,310.22 L766.42,310.19 L766.86,310.17 L767.30,310.14 L767.75,310.12 L768.19,310.10 L768.63,310.08 L769.07,310.06 L769.52,310.03 L769.96,310.01 L770.40,309.99 L770.84,309.97 L771.28,309.95 L771.73,309.93 L772.17,309.91 L772.61,309.89 L773.05,309.87 L773.50,309.85 L773.94,309.84 L774.38,309.82 L774.50,309.81" fill="none" stroke="#c02236" stroke-width="1" stroke-linejoin="round"/>
<path d="M632.60,455.50 L632.80,446.30 L633.24,444.68 L633.68,442.55 L634.13,440.52 L634.57,438.58 L635.01,436.72 L635.45,434.93 L635.90,433.20 L636.34,431.53 L636.78,429.91 L637.22,428.34 L637.67,426.81 L638.11,425.32 L638.55,423.87 L638.99,422.45 L639.43,421.06 L639.88,419.70 L640.32,418.37 L640.76,417.07 L641.20,415.78 L641.65,414.53 L642.09,413.29 L642.53,412.07 L642.97,410.88 L643.42,409.70 L643.86,408.54 L644.30,407.40 L644.74,406.27 L645.18,405.16 L645.63,404.06 L646.07,402.98 L646.51,401.92 L646.95,400.87 L647.40,399.83 L647.84,398.80 L648.28,397.79 L648.72,396.79 L649.17,395.80 L649.61,394.82 L650.05,393.85 L650.49,392.90 L650.93,391.95 L651.38,391.02 L651.82,390.10 L652.26,389.19 L652.70,388.28 L653.15,387.39 L653.59,386.51 L654.03,385.63 L654.47,384.77 L654.92,383.91 L655.36,383.07 L655.80,382.23 L656.24,381.40 L656.68,380.58 L657.13,379.77 L657.57,378.97 L658.01,378.17 L658.45,377.39 L658.90,376.61 L659.34,375.84 L659.78,375.08 L660.22,374.33 L660.67,373.58 L661.11,372.84 L661.55,372.11 L661.99,371.39 L662.43,370.67 L662.88,369.96 L663.32,369.26 L663.76,368.57 L664.20,367.88 L664.65,367.20 L665.09,366.53 L665.53,365.86 L665.97,365.20 L666.42,364.55 L666.86,363.90 L667.30,363.26 L667.74,362.63 L668.18,362.01 L668.63,361.39 L669.07,360.77 L669.51,360.17 L669.95,359.57 L670.40,358.97 L670.84,358.38 L671.28,357.80 L671.72,357.23 L672.17,356.66 L672.61,356.09 L673.05,355.53 L673.49,354.98 L673.93,354.44 L674.38,353.89 L674.82,353.36 L675.26,352.83 L675.70,352.30 L676.15,351.79 L676.59,351.27 L677.03,350.76 L677.47,350.26 L677.92,349.76 L678.36,349.27 L678.80,348.78 L679.24,348.30 L679.68,347.83 L680.13,347.35 L680.57,346.89 L681.01,346.42 L681.45,345.97 L681.90,345.51 L682.34,345.06 L682.78,344.62 L683.22,344.18 L683.67,343.75 L684.11,343.32 L684.55,342.89 L684.99,342.47 L685.43,342.06 L685.88,341.64 L686.32,341.24 L686.76,340.83 L687.20,340.43 L687.65,340.04 L688.09,339.65 L688.53,339.26 L688.97,338.88 L689.42,338.50 L689.86,338.12 L690.30,337.75 L690.74,337.38 L691.18,337.02 L691.63,336.66 L692.07,336.30 L692.51,335.95 L692.95,335.60 L693.40,335.26 L693.84,334.92 L694.28,334.58 L694.72,334.24 L695.17,333.91 L695.61,333.58 L696.05,333.26 L696.49,332.94 L696.93,332.62 L697.38,332.31 L697.82,332.00 L698.26,331.69 L698.70,331.38 L699.15,331.08 L699.59,330.78 L700.03,330.49 L700.47,330.19 L700.92,329.90 L701.36,329.62 L701.80,329.33 L702.24,329.05 L702.68,328.78 L703.13,328.50 L703.57,328.23 L704.01,327.96 L704.45,327.69 L704.90,327.43 L705.34,327.17 L705.78,326.91 L706.22,326.66 L706.67,326.40 L707.11,326.15 L707.55,325.91 L707.99,325.66 L708.43,325.42 L708.88,325.18 L709.32,324.94 L709.76,324.71 L710.20,324.47 L710.65,324.25 L711.09,324.02 L711.53,323.79 L711.97,323.57 L712.42,323.35 L712.86,323.13 L713.30,322.92 L713.74,322.71 L714.18,322.49 L714.63,322.29 L715.07,322.08 L715.51,321.88 L715.95,321.68 L716.40,321.48 L716.84,321.28 L717.28,321.08 L717.72,320.89 L718.17,320.70 L718.61,320.51 L719.05,320.33 L719.49,320.14 L719.93,319.96 L720.38,319.78 L720.82,319.61 L721.26,319.43 L721.70,319.26 L722.15,319.08 L722.59,318.92 L723.03,318.75 L723.47,318.58 L723.92,318.42 L724.36,318.26 L724.80,318.10 L725.24,317.94 L725.68,317.79 L726.13,317.63 L726.57,317.48 L727.01,317.33 L727.45,317.18 L727.90,317.04 L728.34,316.89 L728.78,316.75 L729.22,316.61 L729.67,316.47 L730.11,316.34 L730.55,316.20 L730.99,316.07 L731.43,315.94 L731.88,315.81 L732.32,315.68 L732.76,315.55 L733.20,315.43 L733.65,315.31 L734.09,315.19 L734.53,315.07 L734.97,314.95 L735.42,314.84 L735.86,314.72 L736.30,314.61 L736.74,314.50 L737.18,314.39 L737.63,314.29 L738.07,314.18 L738.51,314.08 L738.95,313.98 L739.40,313.88 L739.84,313.78 L740.28,313.68 L740.72,313.59 L741.17,313.49 L741.61,313.40 L742.05,313.31 L742.49,313.22 L742.93,313.14 L743.38,313.05 L743.82,312.97 L744.26,312.89 L744.70,312.81 L745.15,312.73 L745.59,312.66 L746.03,312.58 L746.47,312.51 L746.92,312.44 L747.36,312.37 L747.80,312.30 L748.24,312.23 L748.68,312.16 L749.13,312.10 L749.57,312.04 L750.01,311.98 L750.45,311.92 L750.90,311.86 L751.34,311.80 L751.78,311.75 L752.22,311.69 L752.67,311.64 L753.11,311.59 L753.55,311.54 L753.99,311.49 L754.43,311.44 L754.88,311.40 L755.32,311.35 L755.76,311.31 L756.20,311.26 L756.65,311.22 L757.09,311.18 L757.53,311.14 L757.97,311.10 L758.42,311.06 L758.86,311.03 L759.30,310.99 L759.74,310.95 L760.18,310.92 L760.63,310.88 L761.07,310.85 L761.51,310.82 L761.95,310.79 L762.40,310.75 L762.84,310.72 L763.28,310.69 L763.72,310.66 L764.17,310.63 L764.61,310.60 L765.05,310.58 L765.49,310.55 L765.93,310.52 L766.38,310.49 L766.82,310.47 L767.26,310.44 L767.70,310.41 L768.15,310.39 L768.59,310.36 L769.03,310.33 L769.47,310.31 L769.92,310.28 L770.36,310.26 L770.80,310.23 L771.24,310.21 L771.68,310.18 L772.13,310.16 L772.57,310.14 L773.01,310.11 L773.45,310.09 L773.90,310.06 L774.34,310.04 L774.50,310.03" fill="none" stroke="#c02236" stroke-width="1" stroke-linejoin="round"/>
<rect x="429" y="373.4" width="345.5" height="2" fill="#bc0020"/>
<text x="430.7" y="373.0" class="thr" fill="#c20016" stroke="#c20016">48,978.21319</text>
<rect x="445" y="443.4" width="3.2" height="3.2" fill="#19e619"/>
<text x="5.6" y="14.0" class="pl">A</text>
<text x="388.3" y="14.2" class="pl">B</text>
<text x="5.6" y="255.8" class="pl">C</text>
<text x="388.6" y="256.0" class="pl">D</text>
</svg>
</body></html>
